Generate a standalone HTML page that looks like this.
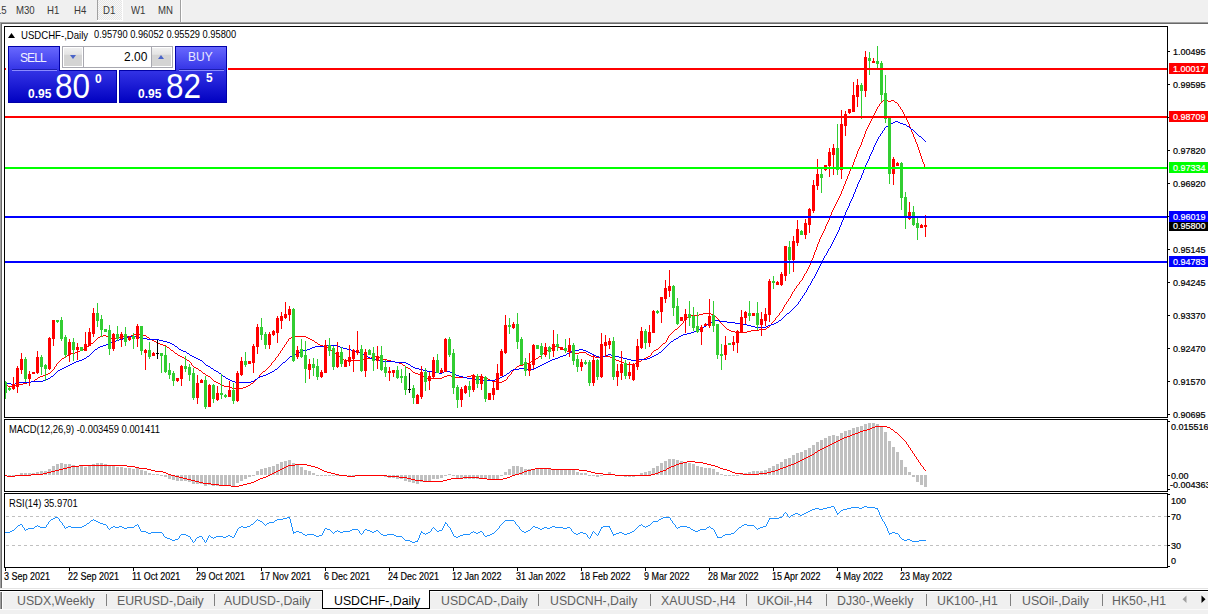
<!DOCTYPE html>
<html><head><meta charset="utf-8">
<style>
html,body{margin:0;padding:0}
body{width:1208px;height:614px;overflow:hidden;position:relative;background:#f0f0f0;font-family:"Liberation Sans",sans-serif;color:#000}
.a{position:absolute;white-space:nowrap;line-height:1}
.sy{transform:scaleY(1.16);transform-origin:0 0}
.tb{font-size:9.6px;color:#383838;top:6px;transform:scaleY(1.12);transform-origin:0 80%}
.ax{font-size:9px;left:1173px;-webkit-text-stroke:0.2px;transform:scaleY(1.1);transform-origin:0 85%}
.axs{font-size:9px;left:1171px;-webkit-text-stroke:0.2px;transform:scaleY(1.1);transform-origin:0 85%}
.tm{font-size:9px;top:572px;transform:scaleY(1.16);transform-origin:0 30%;-webkit-text-stroke:0.15px}
.tab{font-size:12.3px;color:#606060;top:595px}
.pl{color:#fff;font-weight:bold}
svg{position:absolute;left:0;top:0}
</style></head><body>
<!-- toolbar -->
<div class="a" style="left:97px;top:0;width:1px;height:20px;background:#a0a0a0"></div>
<div class="a" style="left:97px;top:20px;width:26px;height:1px;background:#fff"></div><div class="a" style="left:122px;top:0;width:1px;height:21px;background:#fff"></div><div class="a" style="left:98px;top:0;width:24px;height:20px;background:repeating-conic-gradient(#f8f8f8 0 25%,#e6e6e6 0 50%) 0 0/2px 2px"></div>
<div class="a" style="left:180px;top:0;width:1px;height:22px;background:#a0a0a0"></div>
<div class="a" style="left:181px;top:0;width:1px;height:22px;background:#fff"></div>
<div class="a tb" style="left:-4px">15</div>
<div class="a tb" style="left:16px">M30</div>
<div class="a tb" style="left:47px">H1</div>
<div class="a tb" style="left:74px">H4</div>
<div class="a tb" style="left:103px">D1</div>
<div class="a tb" style="left:131px">W1</div>
<div class="a tb" style="left:158px">MN</div>
<div class="a" style="left:0;top:22px;width:1208px;height:1px;background:#a0a0a0"></div>
<div class="a" style="left:0;top:23px;width:1208px;height:1px;background:#696969"></div>
<div class="a" style="left:0;top:22px;width:1px;height:566px;background:#a0a0a0"></div>
<div class="a" style="left:1px;top:23px;width:1px;height:565px;background:#696969"></div>
<div class="a" style="left:2px;top:24px;width:1206px;height:565px;background:#fff"></div>

<svg width="1208" height="614" viewBox="0 0 1208 614" shape-rendering="crispEdges">
<!-- frames -->
<g fill="#000">
<rect x="4" y="26" width="1164" height="1"/>
<rect x="4" y="26" width="1" height="392"/>
<rect x="1167" y="26" width="1" height="392"/>
<rect x="4" y="417" width="1164" height="1"/>
<rect x="4" y="419" width="1164" height="1"/>
<rect x="4" y="419" width="1" height="73"/>
<rect x="1167" y="419" width="1" height="73"/>
<rect x="4" y="491" width="1164" height="1"/>
<rect x="4" y="493" width="1164" height="1"/>
<rect x="4" y="493" width="1" height="75"/>
<rect x="1167" y="493" width="1" height="75"/>
<rect x="4" y="567" width="1164" height="1"/>
</g>
<!-- price ticks -->
<g fill="#000">
<rect x="1168" y="51" width="2" height="1"/>
<rect x="1168" y="84" width="2" height="1"/>
<rect x="1168" y="117" width="2" height="1"/>
<rect x="1168" y="150" width="2" height="1"/>
<rect x="1168" y="183" width="2" height="1"/>
<rect x="1168" y="216" width="2" height="1"/>
<rect x="1168" y="249" width="2" height="1"/>
<rect x="1168" y="282" width="2" height="1"/>
<rect x="1168" y="315" width="2" height="1"/>
<rect x="1168" y="348" width="2" height="1"/>
<rect x="1168" y="381" width="2" height="1"/>
<rect x="1168" y="414" width="2" height="1"/>
<rect x="1168" y="421" width="2" height="1"/>
<rect x="1168" y="475" width="2" height="1"/>
<rect x="1168" y="489" width="2" height="1"/>
<rect x="1168" y="494" width="2" height="1"/>
<rect x="1168" y="516" width="2" height="1"/>
<rect x="1168" y="545" width="2" height="1"/>
<rect x="1168" y="566" width="2" height="1"/>
</g>
<!-- time ticks -->
<g fill="#000">
<rect x="5" y="568" width="1" height="3"/><rect x="69" y="568" width="1" height="3"/><rect x="133" y="568" width="1" height="3"/><rect x="197" y="568" width="1" height="3"/><rect x="261" y="568" width="1" height="3"/><rect x="325" y="568" width="1" height="3"/><rect x="389" y="568" width="1" height="3"/><rect x="453" y="568" width="1" height="3"/><rect x="517" y="568" width="1" height="3"/><rect x="581" y="568" width="1" height="3"/><rect x="645" y="568" width="1" height="3"/><rect x="709" y="568" width="1" height="3"/><rect x="773" y="568" width="1" height="3"/><rect x="837" y="568" width="1" height="3"/><rect x="901" y="568" width="1" height="3"/>
</g>
<!-- rsi levels -->
<line x1="6" y1="516.5" x2="1167" y2="516.5" stroke="#c0c0c0" stroke-dasharray="3 3"/>
<line x1="6" y1="545.5" x2="1167" y2="545.5" stroke="#c0c0c0" stroke-dasharray="3 3"/>
<g>
<g fill="#ff0000"><rect x="5" y="384" width="1" height="1"/><rect x="6" y="385" width="1" height="1"/><rect x="7" y="385" width="1" height="1"/><rect x="8" y="386" width="1" height="1"/><rect x="9" y="386" width="1" height="1"/><rect x="10" y="386" width="1" height="1"/><rect x="11" y="386" width="1" height="1"/><rect x="12" y="386" width="1" height="1"/><rect x="13" y="386" width="1" height="1"/><rect x="14" y="386" width="1" height="1"/><rect x="15" y="385" width="1" height="1"/><rect x="16" y="385" width="1" height="1"/><rect x="17" y="385" width="1" height="1"/><rect x="18" y="385" width="1" height="1"/><rect x="19" y="384" width="1" height="1"/><rect x="20" y="384" width="1" height="1"/><rect x="21" y="384" width="1" height="1"/><rect x="22" y="384" width="1" height="1"/><rect x="23" y="383" width="1" height="1"/><rect x="24" y="383" width="1" height="1"/><rect x="25" y="383" width="1" height="1"/><rect x="26" y="383" width="1" height="1"/><rect x="27" y="382" width="1" height="1"/><rect x="28" y="382" width="1" height="1"/><rect x="29" y="382" width="1" height="1"/><rect x="30" y="382" width="1" height="1"/><rect x="31" y="381" width="1" height="1"/><rect x="32" y="381" width="1" height="1"/><rect x="33" y="381" width="1" height="1"/><rect x="34" y="380" width="1" height="1"/><rect x="35" y="379" width="1" height="1"/><rect x="36" y="379" width="1" height="1"/><rect x="37" y="378" width="1" height="1"/><rect x="38" y="377" width="1" height="1"/><rect x="39" y="377" width="1" height="1"/><rect x="40" y="376" width="1" height="1"/><rect x="41" y="376" width="1" height="1"/><rect x="42" y="376" width="1" height="1"/><rect x="43" y="375" width="1" height="1"/><rect x="44" y="375" width="1" height="1"/><rect x="45" y="375" width="1" height="1"/><rect x="46" y="374" width="1" height="1"/><rect x="47" y="374" width="1" height="1"/><rect x="48" y="373" width="1" height="1"/><rect x="49" y="373" width="1" height="1"/><rect x="50" y="372" width="1" height="1"/><rect x="51" y="371" width="1" height="1"/><rect x="52" y="370" width="1" height="1"/><rect x="53" y="369" width="1" height="1"/><rect x="54" y="367" width="1" height="2"/><rect x="55" y="366" width="1" height="1"/><rect x="56" y="364" width="1" height="2"/><rect x="57" y="363" width="1" height="1"/><rect x="58" y="362" width="1" height="1"/><rect x="59" y="361" width="1" height="1"/><rect x="60" y="360" width="1" height="1"/><rect x="61" y="359" width="1" height="1"/><rect x="62" y="358" width="1" height="1"/><rect x="63" y="358" width="1" height="1"/><rect x="64" y="357" width="1" height="1"/><rect x="65" y="357" width="1" height="1"/><rect x="66" y="356" width="1" height="1"/><rect x="67" y="355" width="1" height="1"/><rect x="68" y="355" width="1" height="1"/><rect x="69" y="354" width="1" height="1"/><rect x="70" y="354" width="1" height="1"/><rect x="71" y="353" width="1" height="1"/><rect x="72" y="353" width="1" height="1"/><rect x="73" y="353" width="1" height="1"/><rect x="74" y="353" width="1" height="1"/><rect x="75" y="352" width="1" height="1"/><rect x="76" y="352" width="1" height="1"/><rect x="77" y="352" width="1" height="1"/><rect x="78" y="351" width="1" height="1"/><rect x="79" y="351" width="1" height="1"/><rect x="80" y="350" width="1" height="1"/><rect x="81" y="350" width="1" height="1"/><rect x="82" y="349" width="1" height="1"/><rect x="83" y="349" width="1" height="1"/><rect x="84" y="348" width="1" height="1"/><rect x="85" y="348" width="1" height="1"/><rect x="86" y="347" width="1" height="1"/><rect x="87" y="346" width="1" height="1"/><rect x="88" y="346" width="1" height="1"/><rect x="89" y="345" width="1" height="1"/><rect x="90" y="344" width="1" height="1"/><rect x="91" y="343" width="1" height="1"/><rect x="92" y="343" width="1" height="1"/><rect x="93" y="342" width="1" height="1"/><rect x="94" y="341" width="1" height="1"/><rect x="95" y="340" width="1" height="1"/><rect x="96" y="339" width="1" height="1"/><rect x="97" y="338" width="1" height="1"/><rect x="98" y="337" width="1" height="1"/><rect x="99" y="337" width="1" height="1"/><rect x="100" y="336" width="1" height="1"/><rect x="101" y="336" width="1" height="1"/><rect x="102" y="336" width="1" height="1"/><rect x="103" y="335" width="1" height="1"/><rect x="104" y="335" width="1" height="1"/><rect x="105" y="335" width="1" height="1"/><rect x="106" y="336" width="1" height="1"/><rect x="107" y="336" width="1" height="1"/><rect x="108" y="337" width="1" height="1"/><rect x="109" y="337" width="1" height="1"/><rect x="110" y="337" width="1" height="1"/><rect x="111" y="338" width="1" height="1"/><rect x="112" y="338" width="1" height="1"/><rect x="113" y="338" width="1" height="1"/><rect x="114" y="338" width="1" height="1"/><rect x="115" y="338" width="1" height="1"/><rect x="116" y="338" width="1" height="1"/><rect x="117" y="338" width="1" height="1"/><rect x="118" y="337" width="1" height="1"/><rect x="119" y="337" width="1" height="1"/><rect x="120" y="336" width="1" height="1"/><rect x="121" y="336" width="1" height="1"/><rect x="122" y="336" width="1" height="1"/><rect x="123" y="336" width="1" height="1"/><rect x="124" y="336" width="1" height="1"/><rect x="125" y="336" width="1" height="1"/><rect x="126" y="336" width="1" height="1"/><rect x="127" y="336" width="1" height="1"/><rect x="128" y="336" width="1" height="1"/><rect x="129" y="336" width="1" height="1"/><rect x="130" y="336" width="1" height="1"/><rect x="131" y="335" width="1" height="1"/><rect x="132" y="335" width="1" height="1"/><rect x="133" y="335" width="1" height="1"/><rect x="134" y="334" width="1" height="1"/><rect x="135" y="334" width="1" height="1"/><rect x="136" y="333" width="1" height="1"/><rect x="137" y="333" width="1" height="1"/><rect x="138" y="333" width="1" height="1"/><rect x="139" y="334" width="1" height="1"/><rect x="140" y="334" width="1" height="1"/><rect x="141" y="334" width="1" height="1"/><rect x="142" y="334" width="1" height="1"/><rect x="143" y="335" width="1" height="1"/><rect x="144" y="335" width="1" height="1"/><rect x="145" y="335" width="1" height="1"/><rect x="146" y="336" width="1" height="1"/><rect x="147" y="337" width="1" height="1"/><rect x="148" y="337" width="1" height="1"/><rect x="149" y="338" width="1" height="1"/><rect x="150" y="339" width="1" height="1"/><rect x="151" y="339" width="1" height="1"/><rect x="152" y="340" width="1" height="1"/><rect x="153" y="340" width="1" height="1"/><rect x="154" y="341" width="1" height="1"/><rect x="155" y="341" width="1" height="1"/><rect x="156" y="342" width="1" height="1"/><rect x="157" y="342" width="1" height="1"/><rect x="158" y="343" width="1" height="1"/><rect x="159" y="343" width="1" height="1"/><rect x="160" y="344" width="1" height="1"/><rect x="161" y="344" width="1" height="1"/><rect x="162" y="344" width="1" height="1"/><rect x="163" y="345" width="1" height="1"/><rect x="164" y="345" width="1" height="1"/><rect x="165" y="345" width="1" height="1"/><rect x="166" y="346" width="1" height="1"/><rect x="167" y="347" width="1" height="1"/><rect x="168" y="347" width="1" height="1"/><rect x="169" y="348" width="1" height="1"/><rect x="170" y="349" width="1" height="1"/><rect x="171" y="350" width="1" height="1"/><rect x="172" y="350" width="1" height="1"/><rect x="173" y="351" width="1" height="1"/><rect x="174" y="352" width="1" height="1"/><rect x="175" y="353" width="1" height="1"/><rect x="176" y="353" width="1" height="1"/><rect x="177" y="354" width="1" height="1"/><rect x="178" y="355" width="1" height="1"/><rect x="179" y="355" width="1" height="1"/><rect x="180" y="356" width="1" height="1"/><rect x="181" y="356" width="1" height="1"/><rect x="182" y="357" width="1" height="1"/><rect x="183" y="357" width="1" height="1"/><rect x="184" y="358" width="1" height="1"/><rect x="185" y="358" width="1" height="1"/><rect x="186" y="359" width="1" height="1"/><rect x="187" y="360" width="1" height="1"/><rect x="188" y="360" width="1" height="1"/><rect x="189" y="361" width="1" height="1"/><rect x="190" y="362" width="1" height="1"/><rect x="191" y="363" width="1" height="2"/><rect x="192" y="365" width="1" height="1"/><rect x="193" y="366" width="1" height="1"/><rect x="194" y="367" width="1" height="1"/><rect x="195" y="367" width="1" height="1"/><rect x="196" y="368" width="1" height="1"/><rect x="197" y="368" width="1" height="1"/><rect x="198" y="369" width="1" height="1"/><rect x="199" y="370" width="1" height="1"/><rect x="200" y="370" width="1" height="1"/><rect x="201" y="371" width="1" height="1"/><rect x="202" y="372" width="1" height="1"/><rect x="203" y="373" width="1" height="1"/><rect x="204" y="373" width="1" height="1"/><rect x="205" y="374" width="1" height="1"/><rect x="206" y="375" width="1" height="1"/><rect x="207" y="375" width="1" height="1"/><rect x="208" y="376" width="1" height="1"/><rect x="209" y="376" width="1" height="1"/><rect x="210" y="377" width="1" height="1"/><rect x="211" y="378" width="1" height="1"/><rect x="212" y="379" width="1" height="1"/><rect x="213" y="380" width="1" height="1"/><rect x="214" y="381" width="1" height="1"/><rect x="215" y="381" width="1" height="1"/><rect x="216" y="382" width="1" height="1"/><rect x="217" y="382" width="1" height="1"/><rect x="218" y="383" width="1" height="1"/><rect x="219" y="383" width="1" height="1"/><rect x="220" y="384" width="1" height="1"/><rect x="221" y="384" width="1" height="1"/><rect x="222" y="385" width="1" height="1"/><rect x="223" y="385" width="1" height="1"/><rect x="224" y="386" width="1" height="1"/><rect x="225" y="386" width="1" height="1"/><rect x="226" y="386" width="1" height="1"/><rect x="227" y="386" width="1" height="1"/><rect x="228" y="386" width="1" height="1"/><rect x="229" y="386" width="1" height="1"/><rect x="230" y="387" width="1" height="1"/><rect x="231" y="387" width="1" height="1"/><rect x="232" y="388" width="1" height="1"/><rect x="233" y="388" width="1" height="1"/><rect x="234" y="388" width="1" height="1"/><rect x="235" y="388" width="1" height="1"/><rect x="236" y="388" width="1" height="1"/><rect x="237" y="388" width="1" height="1"/><rect x="238" y="388" width="1" height="1"/><rect x="239" y="388" width="1" height="1"/><rect x="240" y="388" width="1" height="1"/><rect x="241" y="388" width="1" height="1"/><rect x="242" y="388" width="1" height="1"/><rect x="243" y="387" width="1" height="1"/><rect x="244" y="387" width="1" height="1"/><rect x="245" y="387" width="1" height="1"/><rect x="246" y="386" width="1" height="1"/><rect x="247" y="386" width="1" height="1"/><rect x="248" y="385" width="1" height="1"/><rect x="249" y="385" width="1" height="1"/><rect x="250" y="384" width="1" height="1"/><rect x="251" y="383" width="1" height="1"/><rect x="252" y="383" width="1" height="1"/><rect x="253" y="382" width="1" height="1"/><rect x="254" y="381" width="1" height="1"/><rect x="255" y="380" width="1" height="1"/><rect x="256" y="379" width="1" height="1"/><rect x="257" y="378" width="1" height="1"/><rect x="258" y="377" width="1" height="1"/><rect x="259" y="375" width="1" height="2"/><rect x="260" y="374" width="1" height="1"/><rect x="261" y="373" width="1" height="1"/><rect x="262" y="372" width="1" height="1"/><rect x="263" y="371" width="1" height="1"/><rect x="264" y="371" width="1" height="1"/><rect x="265" y="370" width="1" height="1"/><rect x="266" y="369" width="1" height="1"/><rect x="267" y="368" width="1" height="1"/><rect x="268" y="367" width="1" height="1"/><rect x="269" y="366" width="1" height="1"/><rect x="270" y="365" width="1" height="1"/><rect x="271" y="363" width="1" height="2"/><rect x="272" y="362" width="1" height="1"/><rect x="273" y="361" width="1" height="1"/><rect x="274" y="360" width="1" height="1"/><rect x="275" y="358" width="1" height="2"/><rect x="276" y="357" width="1" height="1"/><rect x="277" y="356" width="1" height="1"/><rect x="278" y="354" width="1" height="2"/><rect x="279" y="353" width="1" height="1"/><rect x="280" y="351" width="1" height="2"/><rect x="281" y="350" width="1" height="1"/><rect x="282" y="348" width="1" height="2"/><rect x="283" y="347" width="1" height="1"/><rect x="284" y="345" width="1" height="2"/><rect x="285" y="344" width="1" height="1"/><rect x="286" y="342" width="1" height="2"/><rect x="287" y="341" width="1" height="1"/><rect x="288" y="339" width="1" height="2"/><rect x="289" y="338" width="1" height="1"/><rect x="290" y="338" width="1" height="1"/><rect x="291" y="337" width="1" height="1"/><rect x="292" y="337" width="1" height="1"/><rect x="293" y="337" width="1" height="1"/><rect x="294" y="337" width="1" height="1"/><rect x="295" y="336" width="1" height="1"/><rect x="296" y="336" width="1" height="1"/><rect x="297" y="336" width="1" height="1"/><rect x="298" y="336" width="1" height="1"/><rect x="299" y="336" width="1" height="1"/><rect x="300" y="336" width="1" height="1"/><rect x="301" y="336" width="1" height="1"/><rect x="302" y="336" width="1" height="1"/><rect x="303" y="336" width="1" height="1"/><rect x="304" y="336" width="1" height="1"/><rect x="305" y="336" width="1" height="1"/><rect x="306" y="337" width="1" height="1"/><rect x="307" y="337" width="1" height="1"/><rect x="308" y="338" width="1" height="1"/><rect x="309" y="338" width="1" height="1"/><rect x="310" y="339" width="1" height="1"/><rect x="311" y="339" width="1" height="1"/><rect x="312" y="340" width="1" height="1"/><rect x="313" y="340" width="1" height="1"/><rect x="314" y="341" width="1" height="1"/><rect x="315" y="342" width="1" height="1"/><rect x="316" y="342" width="1" height="1"/><rect x="317" y="343" width="1" height="1"/><rect x="318" y="344" width="1" height="1"/><rect x="319" y="344" width="1" height="1"/><rect x="320" y="345" width="1" height="1"/><rect x="321" y="345" width="1" height="1"/><rect x="322" y="345" width="1" height="1"/><rect x="323" y="346" width="1" height="1"/><rect x="324" y="346" width="1" height="1"/><rect x="325" y="346" width="1" height="1"/><rect x="326" y="347" width="1" height="1"/><rect x="327" y="347" width="1" height="1"/><rect x="328" y="348" width="1" height="1"/><rect x="329" y="348" width="1" height="1"/><rect x="330" y="349" width="1" height="1"/><rect x="331" y="350" width="1" height="1"/><rect x="332" y="350" width="1" height="1"/><rect x="333" y="351" width="1" height="1"/><rect x="334" y="352" width="1" height="1"/><rect x="335" y="353" width="1" height="1"/><rect x="336" y="353" width="1" height="1"/><rect x="337" y="354" width="1" height="1"/><rect x="338" y="355" width="1" height="1"/><rect x="339" y="356" width="1" height="1"/><rect x="340" y="356" width="1" height="1"/><rect x="341" y="357" width="1" height="1"/><rect x="342" y="358" width="1" height="1"/><rect x="343" y="359" width="1" height="1"/><rect x="344" y="360" width="1" height="1"/><rect x="345" y="361" width="1" height="1"/><rect x="346" y="361" width="1" height="1"/><rect x="347" y="360" width="1" height="1"/><rect x="348" y="360" width="1" height="1"/><rect x="349" y="360" width="1" height="1"/><rect x="350" y="360" width="1" height="1"/><rect x="351" y="360" width="1" height="1"/><rect x="352" y="360" width="1" height="1"/><rect x="353" y="360" width="1" height="1"/><rect x="354" y="360" width="1" height="1"/><rect x="355" y="360" width="1" height="1"/><rect x="356" y="360" width="1" height="1"/><rect x="357" y="360" width="1" height="1"/><rect x="358" y="360" width="1" height="1"/><rect x="359" y="360" width="1" height="1"/><rect x="360" y="360" width="1" height="1"/><rect x="361" y="360" width="1" height="1"/><rect x="362" y="360" width="1" height="1"/><rect x="363" y="359" width="1" height="1"/><rect x="364" y="359" width="1" height="1"/><rect x="365" y="359" width="1" height="1"/><rect x="366" y="359" width="1" height="1"/><rect x="367" y="358" width="1" height="1"/><rect x="368" y="358" width="1" height="1"/><rect x="369" y="358" width="1" height="1"/><rect x="370" y="358" width="1" height="1"/><rect x="371" y="357" width="1" height="1"/><rect x="372" y="357" width="1" height="1"/><rect x="373" y="357" width="1" height="1"/><rect x="374" y="357" width="1" height="1"/><rect x="375" y="356" width="1" height="1"/><rect x="376" y="356" width="1" height="1"/><rect x="377" y="356" width="1" height="1"/><rect x="378" y="357" width="1" height="1"/><rect x="379" y="357" width="1" height="1"/><rect x="380" y="358" width="1" height="1"/><rect x="381" y="358" width="1" height="1"/><rect x="382" y="358" width="1" height="1"/><rect x="383" y="359" width="1" height="1"/><rect x="384" y="359" width="1" height="1"/><rect x="385" y="359" width="1" height="1"/><rect x="386" y="359" width="1" height="1"/><rect x="387" y="360" width="1" height="1"/><rect x="388" y="360" width="1" height="1"/><rect x="389" y="360" width="1" height="1"/><rect x="390" y="360" width="1" height="1"/><rect x="391" y="361" width="1" height="1"/><rect x="392" y="361" width="1" height="1"/><rect x="393" y="361" width="1" height="1"/><rect x="394" y="361" width="1" height="1"/><rect x="395" y="362" width="1" height="1"/><rect x="396" y="362" width="1" height="1"/><rect x="397" y="362" width="1" height="1"/><rect x="398" y="362" width="1" height="1"/><rect x="399" y="363" width="1" height="1"/><rect x="400" y="363" width="1" height="1"/><rect x="401" y="363" width="1" height="1"/><rect x="402" y="364" width="1" height="1"/><rect x="403" y="365" width="1" height="1"/><rect x="404" y="365" width="1" height="1"/><rect x="405" y="366" width="1" height="1"/><rect x="406" y="367" width="1" height="1"/><rect x="407" y="367" width="1" height="1"/><rect x="408" y="368" width="1" height="1"/><rect x="409" y="368" width="1" height="1"/><rect x="410" y="369" width="1" height="1"/><rect x="411" y="370" width="1" height="1"/><rect x="412" y="371" width="1" height="1"/><rect x="413" y="372" width="1" height="1"/><rect x="414" y="372" width="1" height="1"/><rect x="415" y="373" width="1" height="1"/><rect x="416" y="373" width="1" height="1"/><rect x="417" y="373" width="1" height="1"/><rect x="418" y="374" width="1" height="1"/><rect x="419" y="374" width="1" height="1"/><rect x="420" y="375" width="1" height="1"/><rect x="421" y="375" width="1" height="1"/><rect x="422" y="376" width="1" height="1"/><rect x="423" y="376" width="1" height="1"/><rect x="424" y="377" width="1" height="1"/><rect x="425" y="377" width="1" height="1"/><rect x="426" y="377" width="1" height="1"/><rect x="427" y="378" width="1" height="1"/><rect x="428" y="378" width="1" height="1"/><rect x="429" y="378" width="1" height="1"/><rect x="430" y="378" width="1" height="1"/><rect x="431" y="378" width="1" height="1"/><rect x="432" y="378" width="1" height="1"/><rect x="433" y="378" width="1" height="1"/><rect x="434" y="378" width="1" height="1"/><rect x="435" y="378" width="1" height="1"/><rect x="436" y="378" width="1" height="1"/><rect x="437" y="378" width="1" height="1"/><rect x="438" y="378" width="1" height="1"/><rect x="439" y="378" width="1" height="1"/><rect x="440" y="378" width="1" height="1"/><rect x="441" y="378" width="1" height="1"/><rect x="442" y="377" width="1" height="1"/><rect x="443" y="377" width="1" height="1"/><rect x="444" y="376" width="1" height="1"/><rect x="445" y="376" width="1" height="1"/><rect x="446" y="376" width="1" height="1"/><rect x="447" y="375" width="1" height="1"/><rect x="448" y="375" width="1" height="1"/><rect x="449" y="375" width="1" height="1"/><rect x="450" y="375" width="1" height="1"/><rect x="451" y="376" width="1" height="1"/><rect x="452" y="376" width="1" height="1"/><rect x="453" y="376" width="1" height="1"/><rect x="454" y="376" width="1" height="1"/><rect x="455" y="377" width="1" height="1"/><rect x="456" y="377" width="1" height="1"/><rect x="457" y="377" width="1" height="1"/><rect x="458" y="377" width="1" height="1"/><rect x="459" y="377" width="1" height="1"/><rect x="460" y="377" width="1" height="1"/><rect x="461" y="377" width="1" height="1"/><rect x="462" y="377" width="1" height="1"/><rect x="463" y="377" width="1" height="1"/><rect x="464" y="377" width="1" height="1"/><rect x="465" y="377" width="1" height="1"/><rect x="466" y="377" width="1" height="1"/><rect x="467" y="376" width="1" height="1"/><rect x="468" y="376" width="1" height="1"/><rect x="469" y="376" width="1" height="1"/><rect x="470" y="376" width="1" height="1"/><rect x="471" y="375" width="1" height="1"/><rect x="472" y="375" width="1" height="1"/><rect x="473" y="375" width="1" height="1"/><rect x="474" y="375" width="1" height="1"/><rect x="475" y="376" width="1" height="1"/><rect x="476" y="376" width="1" height="1"/><rect x="477" y="376" width="1" height="1"/><rect x="478" y="376" width="1" height="1"/><rect x="479" y="376" width="1" height="1"/><rect x="480" y="376" width="1" height="1"/><rect x="481" y="376" width="1" height="1"/><rect x="482" y="376" width="1" height="1"/><rect x="483" y="377" width="1" height="1"/><rect x="484" y="377" width="1" height="1"/><rect x="485" y="377" width="1" height="1"/><rect x="486" y="378" width="1" height="1"/><rect x="487" y="378" width="1" height="1"/><rect x="488" y="379" width="1" height="1"/><rect x="489" y="379" width="1" height="1"/><rect x="490" y="380" width="1" height="1"/><rect x="491" y="380" width="1" height="1"/><rect x="492" y="381" width="1" height="1"/><rect x="493" y="381" width="1" height="1"/><rect x="494" y="381" width="1" height="1"/><rect x="495" y="381" width="1" height="1"/><rect x="496" y="381" width="1" height="1"/><rect x="497" y="381" width="1" height="1"/><rect x="498" y="381" width="1" height="1"/><rect x="499" y="382" width="1" height="1"/><rect x="500" y="382" width="1" height="1"/><rect x="501" y="382" width="1" height="1"/><rect x="502" y="381" width="1" height="1"/><rect x="503" y="381" width="1" height="1"/><rect x="504" y="380" width="1" height="1"/><rect x="505" y="380" width="1" height="1"/><rect x="506" y="379" width="1" height="1"/><rect x="507" y="377" width="1" height="2"/><rect x="508" y="376" width="1" height="1"/><rect x="509" y="375" width="1" height="1"/><rect x="510" y="374" width="1" height="1"/><rect x="511" y="372" width="1" height="2"/><rect x="512" y="371" width="1" height="1"/><rect x="513" y="370" width="1" height="1"/><rect x="514" y="369" width="1" height="1"/><rect x="515" y="368" width="1" height="1"/><rect x="516" y="367" width="1" height="1"/><rect x="517" y="366" width="1" height="1"/><rect x="518" y="366" width="1" height="1"/><rect x="519" y="365" width="1" height="1"/><rect x="520" y="365" width="1" height="1"/><rect x="521" y="365" width="1" height="1"/><rect x="522" y="365" width="1" height="1"/><rect x="523" y="364" width="1" height="1"/><rect x="524" y="364" width="1" height="1"/><rect x="525" y="364" width="1" height="1"/><rect x="526" y="364" width="1" height="1"/><rect x="527" y="363" width="1" height="1"/><rect x="528" y="363" width="1" height="1"/><rect x="529" y="363" width="1" height="1"/><rect x="530" y="362" width="1" height="1"/><rect x="531" y="361" width="1" height="1"/><rect x="532" y="361" width="1" height="1"/><rect x="533" y="360" width="1" height="1"/><rect x="534" y="359" width="1" height="1"/><rect x="535" y="359" width="1" height="1"/><rect x="536" y="358" width="1" height="1"/><rect x="537" y="358" width="1" height="1"/><rect x="538" y="357" width="1" height="1"/><rect x="539" y="356" width="1" height="1"/><rect x="540" y="356" width="1" height="1"/><rect x="541" y="355" width="1" height="1"/><rect x="542" y="354" width="1" height="1"/><rect x="543" y="353" width="1" height="1"/><rect x="544" y="352" width="1" height="1"/><rect x="545" y="351" width="1" height="1"/><rect x="546" y="350" width="1" height="1"/><rect x="547" y="350" width="1" height="1"/><rect x="548" y="349" width="1" height="1"/><rect x="549" y="349" width="1" height="1"/><rect x="550" y="348" width="1" height="1"/><rect x="551" y="348" width="1" height="1"/><rect x="552" y="347" width="1" height="1"/><rect x="553" y="347" width="1" height="1"/><rect x="554" y="347" width="1" height="1"/><rect x="555" y="346" width="1" height="1"/><rect x="556" y="346" width="1" height="1"/><rect x="557" y="346" width="1" height="1"/><rect x="558" y="347" width="1" height="1"/><rect x="559" y="347" width="1" height="1"/><rect x="560" y="348" width="1" height="1"/><rect x="561" y="348" width="1" height="1"/><rect x="562" y="349" width="1" height="1"/><rect x="563" y="349" width="1" height="1"/><rect x="564" y="350" width="1" height="1"/><rect x="565" y="350" width="1" height="1"/><rect x="566" y="350" width="1" height="1"/><rect x="567" y="351" width="1" height="1"/><rect x="568" y="351" width="1" height="1"/><rect x="569" y="351" width="1" height="1"/><rect x="570" y="351" width="1" height="1"/><rect x="571" y="352" width="1" height="1"/><rect x="572" y="352" width="1" height="1"/><rect x="573" y="352" width="1" height="1"/><rect x="574" y="352" width="1" height="1"/><rect x="575" y="353" width="1" height="1"/><rect x="576" y="353" width="1" height="1"/><rect x="577" y="353" width="1" height="1"/><rect x="578" y="353" width="1" height="1"/><rect x="579" y="352" width="1" height="1"/><rect x="580" y="352" width="1" height="1"/><rect x="581" y="352" width="1" height="1"/><rect x="582" y="352" width="1" height="1"/><rect x="583" y="352" width="1" height="1"/><rect x="584" y="352" width="1" height="1"/><rect x="585" y="352" width="1" height="1"/><rect x="586" y="353" width="1" height="1"/><rect x="587" y="354" width="1" height="1"/><rect x="588" y="354" width="1" height="1"/><rect x="589" y="355" width="1" height="1"/><rect x="590" y="355" width="1" height="1"/><rect x="591" y="356" width="1" height="1"/><rect x="592" y="356" width="1" height="1"/><rect x="593" y="356" width="1" height="1"/><rect x="594" y="356" width="1" height="1"/><rect x="595" y="357" width="1" height="1"/><rect x="596" y="357" width="1" height="1"/><rect x="597" y="357" width="1" height="1"/><rect x="598" y="357" width="1" height="1"/><rect x="599" y="357" width="1" height="1"/><rect x="600" y="357" width="1" height="1"/><rect x="601" y="357" width="1" height="1"/><rect x="602" y="357" width="1" height="1"/><rect x="603" y="356" width="1" height="1"/><rect x="604" y="356" width="1" height="1"/><rect x="605" y="356" width="1" height="1"/><rect x="606" y="356" width="1" height="1"/><rect x="607" y="356" width="1" height="1"/><rect x="608" y="356" width="1" height="1"/><rect x="609" y="356" width="1" height="1"/><rect x="610" y="357" width="1" height="1"/><rect x="611" y="357" width="1" height="1"/><rect x="612" y="358" width="1" height="1"/><rect x="613" y="358" width="1" height="1"/><rect x="614" y="359" width="1" height="1"/><rect x="615" y="359" width="1" height="1"/><rect x="616" y="360" width="1" height="1"/><rect x="617" y="360" width="1" height="1"/><rect x="618" y="360" width="1" height="1"/><rect x="619" y="361" width="1" height="1"/><rect x="620" y="361" width="1" height="1"/><rect x="621" y="361" width="1" height="1"/><rect x="622" y="362" width="1" height="1"/><rect x="623" y="362" width="1" height="1"/><rect x="624" y="363" width="1" height="1"/><rect x="625" y="363" width="1" height="1"/><rect x="626" y="363" width="1" height="1"/><rect x="627" y="364" width="1" height="1"/><rect x="628" y="364" width="1" height="1"/><rect x="629" y="364" width="1" height="1"/><rect x="630" y="364" width="1" height="1"/><rect x="631" y="364" width="1" height="1"/><rect x="632" y="364" width="1" height="1"/><rect x="633" y="364" width="1" height="1"/><rect x="634" y="364" width="1" height="1"/><rect x="635" y="363" width="1" height="1"/><rect x="636" y="363" width="1" height="1"/><rect x="637" y="363" width="1" height="1"/><rect x="638" y="362" width="1" height="1"/><rect x="639" y="361" width="1" height="1"/><rect x="640" y="361" width="1" height="1"/><rect x="641" y="360" width="1" height="1"/><rect x="642" y="359" width="1" height="1"/><rect x="643" y="359" width="1" height="1"/><rect x="644" y="358" width="1" height="1"/><rect x="645" y="358" width="1" height="1"/><rect x="646" y="357" width="1" height="1"/><rect x="647" y="357" width="1" height="1"/><rect x="648" y="356" width="1" height="1"/><rect x="649" y="356" width="1" height="1"/><rect x="650" y="355" width="1" height="1"/><rect x="651" y="353" width="1" height="2"/><rect x="652" y="352" width="1" height="1"/><rect x="653" y="351" width="1" height="1"/><rect x="654" y="350" width="1" height="1"/><rect x="655" y="350" width="1" height="1"/><rect x="656" y="349" width="1" height="1"/><rect x="657" y="349" width="1" height="1"/><rect x="658" y="348" width="1" height="1"/><rect x="659" y="347" width="1" height="1"/><rect x="660" y="346" width="1" height="1"/><rect x="661" y="345" width="1" height="1"/><rect x="662" y="344" width="1" height="1"/><rect x="663" y="343" width="1" height="1"/><rect x="664" y="343" width="1" height="1"/><rect x="665" y="342" width="1" height="1"/><rect x="666" y="340" width="1" height="2"/><rect x="667" y="338" width="1" height="2"/><rect x="668" y="336" width="1" height="2"/><rect x="669" y="335" width="1" height="1"/><rect x="670" y="334" width="1" height="1"/><rect x="671" y="333" width="1" height="1"/><rect x="672" y="332" width="1" height="1"/><rect x="673" y="331" width="1" height="1"/><rect x="674" y="330" width="1" height="1"/><rect x="675" y="329" width="1" height="1"/><rect x="676" y="329" width="1" height="1"/><rect x="677" y="328" width="1" height="1"/><rect x="678" y="327" width="1" height="1"/><rect x="679" y="326" width="1" height="1"/><rect x="680" y="325" width="1" height="1"/><rect x="681" y="324" width="1" height="1"/><rect x="682" y="323" width="1" height="1"/><rect x="683" y="321" width="1" height="2"/><rect x="684" y="320" width="1" height="1"/><rect x="685" y="319" width="1" height="1"/><rect x="686" y="318" width="1" height="1"/><rect x="687" y="317" width="1" height="1"/><rect x="688" y="317" width="1" height="1"/><rect x="689" y="316" width="1" height="1"/><rect x="690" y="316" width="1" height="1"/><rect x="691" y="315" width="1" height="1"/><rect x="692" y="315" width="1" height="1"/><rect x="693" y="315" width="1" height="1"/><rect x="694" y="315" width="1" height="1"/><rect x="695" y="315" width="1" height="1"/><rect x="696" y="315" width="1" height="1"/><rect x="697" y="315" width="1" height="1"/><rect x="698" y="315" width="1" height="1"/><rect x="699" y="314" width="1" height="1"/><rect x="700" y="314" width="1" height="1"/><rect x="701" y="314" width="1" height="1"/><rect x="702" y="314" width="1" height="1"/><rect x="703" y="313" width="1" height="1"/><rect x="704" y="313" width="1" height="1"/><rect x="705" y="313" width="1" height="1"/><rect x="706" y="313" width="1" height="1"/><rect x="707" y="313" width="1" height="1"/><rect x="708" y="313" width="1" height="1"/><rect x="709" y="313" width="1" height="1"/><rect x="710" y="313" width="1" height="1"/><rect x="711" y="314" width="1" height="1"/><rect x="712" y="314" width="1" height="1"/><rect x="713" y="314" width="1" height="1"/><rect x="714" y="315" width="1" height="1"/><rect x="715" y="316" width="1" height="1"/><rect x="716" y="317" width="1" height="1"/><rect x="717" y="318" width="1" height="1"/><rect x="718" y="319" width="1" height="1"/><rect x="719" y="320" width="1" height="2"/><rect x="720" y="322" width="1" height="1"/><rect x="721" y="323" width="1" height="1"/><rect x="722" y="324" width="1" height="1"/><rect x="723" y="325" width="1" height="1"/><rect x="724" y="326" width="1" height="1"/><rect x="725" y="327" width="1" height="1"/><rect x="726" y="328" width="1" height="1"/><rect x="727" y="329" width="1" height="1"/><rect x="728" y="329" width="1" height="1"/><rect x="729" y="330" width="1" height="1"/><rect x="730" y="330" width="1" height="1"/><rect x="731" y="331" width="1" height="1"/><rect x="732" y="331" width="1" height="1"/><rect x="733" y="331" width="1" height="1"/><rect x="734" y="331" width="1" height="1"/><rect x="735" y="332" width="1" height="1"/><rect x="736" y="332" width="1" height="1"/><rect x="737" y="332" width="1" height="1"/><rect x="738" y="332" width="1" height="1"/><rect x="739" y="332" width="1" height="1"/><rect x="740" y="332" width="1" height="1"/><rect x="741" y="332" width="1" height="1"/><rect x="742" y="332" width="1" height="1"/><rect x="743" y="332" width="1" height="1"/><rect x="744" y="332" width="1" height="1"/><rect x="745" y="332" width="1" height="1"/><rect x="746" y="332" width="1" height="1"/><rect x="747" y="331" width="1" height="1"/><rect x="748" y="331" width="1" height="1"/><rect x="749" y="331" width="1" height="1"/><rect x="750" y="331" width="1" height="1"/><rect x="751" y="330" width="1" height="1"/><rect x="752" y="330" width="1" height="1"/><rect x="753" y="330" width="1" height="1"/><rect x="754" y="330" width="1" height="1"/><rect x="755" y="330" width="1" height="1"/><rect x="756" y="330" width="1" height="1"/><rect x="757" y="330" width="1" height="1"/><rect x="758" y="330" width="1" height="1"/><rect x="759" y="329" width="1" height="1"/><rect x="760" y="329" width="1" height="1"/><rect x="761" y="329" width="1" height="1"/><rect x="762" y="329" width="1" height="1"/><rect x="763" y="329" width="1" height="1"/><rect x="764" y="329" width="1" height="1"/><rect x="765" y="329" width="1" height="1"/><rect x="766" y="328" width="1" height="1"/><rect x="767" y="327" width="1" height="1"/><rect x="768" y="327" width="1" height="1"/><rect x="769" y="326" width="1" height="1"/><rect x="770" y="325" width="1" height="1"/><rect x="771" y="323" width="1" height="2"/><rect x="772" y="322" width="1" height="1"/><rect x="773" y="321" width="1" height="1"/><rect x="774" y="320" width="1" height="1"/><rect x="775" y="318" width="1" height="2"/><rect x="776" y="317" width="1" height="1"/><rect x="777" y="316" width="1" height="1"/><rect x="778" y="315" width="1" height="1"/><rect x="779" y="313" width="1" height="2"/><rect x="780" y="312" width="1" height="1"/><rect x="781" y="311" width="1" height="1"/><rect x="782" y="309" width="1" height="2"/><rect x="783" y="307" width="1" height="2"/><rect x="784" y="305" width="1" height="2"/><rect x="785" y="304" width="1" height="1"/><rect x="786" y="302" width="1" height="2"/><rect x="787" y="301" width="1" height="1"/><rect x="788" y="299" width="1" height="2"/><rect x="789" y="298" width="1" height="1"/><rect x="790" y="296" width="1" height="2"/><rect x="791" y="294" width="1" height="2"/><rect x="792" y="292" width="1" height="2"/><rect x="793" y="291" width="1" height="1"/><rect x="794" y="289" width="1" height="2"/><rect x="795" y="288" width="1" height="1"/><rect x="796" y="286" width="1" height="2"/><rect x="797" y="285" width="1" height="1"/><rect x="798" y="284" width="1" height="1"/><rect x="799" y="282" width="1" height="2"/><rect x="800" y="281" width="1" height="1"/><rect x="801" y="280" width="1" height="1"/><rect x="802" y="278" width="1" height="2"/><rect x="803" y="276" width="1" height="2"/><rect x="804" y="274" width="1" height="2"/><rect x="805" y="273" width="1" height="1"/><rect x="806" y="271" width="1" height="2"/><rect x="807" y="269" width="1" height="2"/><rect x="808" y="267" width="1" height="2"/><rect x="809" y="265" width="1" height="2"/><rect x="810" y="263" width="1" height="2"/><rect x="811" y="260" width="1" height="3"/><rect x="812" y="258" width="1" height="2"/><rect x="813" y="255" width="1" height="3"/><rect x="814" y="252" width="1" height="3"/><rect x="815" y="250" width="1" height="2"/><rect x="816" y="247" width="1" height="3"/><rect x="817" y="244" width="1" height="3"/><rect x="818" y="242" width="1" height="2"/><rect x="819" y="239" width="1" height="3"/><rect x="820" y="237" width="1" height="2"/><rect x="821" y="235" width="1" height="2"/><rect x="822" y="233" width="1" height="2"/><rect x="823" y="231" width="1" height="2"/><rect x="824" y="229" width="1" height="2"/><rect x="825" y="226" width="1" height="3"/><rect x="826" y="224" width="1" height="2"/><rect x="827" y="222" width="1" height="2"/><rect x="828" y="220" width="1" height="2"/><rect x="829" y="217" width="1" height="3"/><rect x="830" y="215" width="1" height="2"/><rect x="831" y="212" width="1" height="3"/><rect x="832" y="210" width="1" height="2"/><rect x="833" y="208" width="1" height="2"/><rect x="834" y="206" width="1" height="2"/><rect x="835" y="204" width="1" height="2"/><rect x="836" y="202" width="1" height="2"/><rect x="837" y="200" width="1" height="2"/><rect x="838" y="198" width="1" height="2"/><rect x="839" y="196" width="1" height="2"/><rect x="840" y="194" width="1" height="2"/><rect x="841" y="191" width="1" height="3"/><rect x="842" y="189" width="1" height="2"/><rect x="843" y="186" width="1" height="3"/><rect x="844" y="184" width="1" height="2"/><rect x="845" y="181" width="1" height="3"/><rect x="846" y="179" width="1" height="2"/><rect x="847" y="176" width="1" height="3"/><rect x="848" y="174" width="1" height="2"/><rect x="849" y="171" width="1" height="3"/><rect x="850" y="169" width="1" height="2"/><rect x="851" y="167" width="1" height="2"/><rect x="852" y="165" width="1" height="2"/><rect x="853" y="162" width="1" height="3"/><rect x="854" y="159" width="1" height="3"/><rect x="855" y="157" width="1" height="2"/><rect x="856" y="154" width="1" height="3"/><rect x="857" y="151" width="1" height="3"/><rect x="858" y="149" width="1" height="2"/><rect x="859" y="147" width="1" height="2"/><rect x="860" y="145" width="1" height="2"/><rect x="861" y="142" width="1" height="3"/><rect x="862" y="139" width="1" height="3"/><rect x="863" y="137" width="1" height="2"/><rect x="864" y="134" width="1" height="3"/><rect x="865" y="131" width="1" height="3"/><rect x="866" y="129" width="1" height="2"/><rect x="867" y="127" width="1" height="2"/><rect x="868" y="125" width="1" height="2"/><rect x="869" y="123" width="1" height="2"/><rect x="870" y="121" width="1" height="2"/><rect x="871" y="119" width="1" height="2"/><rect x="872" y="117" width="1" height="2"/><rect x="873" y="115" width="1" height="2"/><rect x="874" y="113" width="1" height="2"/><rect x="875" y="111" width="1" height="2"/><rect x="876" y="109" width="1" height="2"/><rect x="877" y="107" width="1" height="2"/><rect x="878" y="106" width="1" height="1"/><rect x="879" y="104" width="1" height="2"/><rect x="880" y="103" width="1" height="1"/><rect x="881" y="102" width="1" height="1"/><rect x="882" y="101" width="1" height="1"/><rect x="883" y="100" width="1" height="1"/><rect x="884" y="100" width="1" height="1"/><rect x="885" y="99" width="1" height="1"/><rect x="886" y="100" width="1" height="1"/><rect x="887" y="100" width="1" height="1"/><rect x="888" y="101" width="1" height="1"/><rect x="889" y="101" width="1" height="1"/><rect x="890" y="101" width="1" height="1"/><rect x="891" y="100" width="1" height="1"/><rect x="892" y="100" width="1" height="1"/><rect x="893" y="100" width="1" height="1"/><rect x="894" y="101" width="1" height="1"/><rect x="895" y="102" width="1" height="1"/><rect x="896" y="102" width="1" height="1"/><rect x="897" y="103" width="1" height="1"/><rect x="898" y="104" width="1" height="2"/><rect x="899" y="106" width="1" height="1"/><rect x="900" y="107" width="1" height="2"/><rect x="901" y="109" width="1" height="1"/><rect x="902" y="110" width="1" height="2"/><rect x="903" y="112" width="1" height="2"/><rect x="904" y="114" width="1" height="2"/><rect x="905" y="116" width="1" height="2"/><rect x="906" y="118" width="1" height="2"/><rect x="907" y="120" width="1" height="2"/><rect x="908" y="122" width="1" height="2"/><rect x="909" y="124" width="1" height="3"/><rect x="910" y="127" width="1" height="2"/><rect x="911" y="129" width="1" height="3"/><rect x="912" y="132" width="1" height="2"/><rect x="913" y="134" width="1" height="3"/><rect x="914" y="137" width="1" height="2"/><rect x="915" y="139" width="1" height="3"/><rect x="916" y="142" width="1" height="2"/><rect x="917" y="144" width="1" height="3"/><rect x="918" y="147" width="1" height="3"/><rect x="919" y="150" width="1" height="3"/><rect x="920" y="153" width="1" height="3"/><rect x="921" y="156" width="1" height="3"/><rect x="922" y="159" width="1" height="3"/><rect x="923" y="162" width="1" height="2"/><rect x="924" y="164" width="1" height="3"/><rect x="925" y="167" width="1" height="2"/></g><g fill="#0000ff"><rect x="5" y="382" width="1" height="1"/><rect x="6" y="382" width="1" height="1"/><rect x="7" y="383" width="1" height="1"/><rect x="8" y="383" width="1" height="1"/><rect x="9" y="383" width="1" height="1"/><rect x="10" y="383" width="1" height="1"/><rect x="11" y="384" width="1" height="1"/><rect x="12" y="384" width="1" height="1"/><rect x="13" y="384" width="1" height="1"/><rect x="14" y="384" width="1" height="1"/><rect x="15" y="383" width="1" height="1"/><rect x="16" y="383" width="1" height="1"/><rect x="17" y="383" width="1" height="1"/><rect x="18" y="383" width="1" height="1"/><rect x="19" y="382" width="1" height="1"/><rect x="20" y="382" width="1" height="1"/><rect x="21" y="382" width="1" height="1"/><rect x="22" y="382" width="1" height="1"/><rect x="23" y="382" width="1" height="1"/><rect x="24" y="382" width="1" height="1"/><rect x="25" y="382" width="1" height="1"/><rect x="26" y="382" width="1" height="1"/><rect x="27" y="382" width="1" height="1"/><rect x="28" y="382" width="1" height="1"/><rect x="29" y="382" width="1" height="1"/><rect x="30" y="382" width="1" height="1"/><rect x="31" y="381" width="1" height="1"/><rect x="32" y="381" width="1" height="1"/><rect x="33" y="381" width="1" height="1"/><rect x="34" y="381" width="1" height="1"/><rect x="35" y="381" width="1" height="1"/><rect x="36" y="381" width="1" height="1"/><rect x="37" y="381" width="1" height="1"/><rect x="38" y="381" width="1" height="1"/><rect x="39" y="381" width="1" height="1"/><rect x="40" y="381" width="1" height="1"/><rect x="41" y="381" width="1" height="1"/><rect x="42" y="381" width="1" height="1"/><rect x="43" y="380" width="1" height="1"/><rect x="44" y="380" width="1" height="1"/><rect x="45" y="380" width="1" height="1"/><rect x="46" y="379" width="1" height="1"/><rect x="47" y="379" width="1" height="1"/><rect x="48" y="378" width="1" height="1"/><rect x="49" y="378" width="1" height="1"/><rect x="50" y="377" width="1" height="1"/><rect x="51" y="376" width="1" height="1"/><rect x="52" y="376" width="1" height="1"/><rect x="53" y="375" width="1" height="1"/><rect x="54" y="374" width="1" height="1"/><rect x="55" y="373" width="1" height="1"/><rect x="56" y="372" width="1" height="1"/><rect x="57" y="371" width="1" height="1"/><rect x="58" y="370" width="1" height="1"/><rect x="59" y="370" width="1" height="1"/><rect x="60" y="369" width="1" height="1"/><rect x="61" y="369" width="1" height="1"/><rect x="62" y="368" width="1" height="1"/><rect x="63" y="368" width="1" height="1"/><rect x="64" y="367" width="1" height="1"/><rect x="65" y="367" width="1" height="1"/><rect x="66" y="366" width="1" height="1"/><rect x="67" y="366" width="1" height="1"/><rect x="68" y="365" width="1" height="1"/><rect x="69" y="365" width="1" height="1"/><rect x="70" y="364" width="1" height="1"/><rect x="71" y="364" width="1" height="1"/><rect x="72" y="363" width="1" height="1"/><rect x="73" y="363" width="1" height="1"/><rect x="74" y="362" width="1" height="1"/><rect x="75" y="362" width="1" height="1"/><rect x="76" y="361" width="1" height="1"/><rect x="77" y="361" width="1" height="1"/><rect x="78" y="361" width="1" height="1"/><rect x="79" y="360" width="1" height="1"/><rect x="80" y="360" width="1" height="1"/><rect x="81" y="360" width="1" height="1"/><rect x="82" y="359" width="1" height="1"/><rect x="83" y="359" width="1" height="1"/><rect x="84" y="358" width="1" height="1"/><rect x="85" y="358" width="1" height="1"/><rect x="86" y="357" width="1" height="1"/><rect x="87" y="356" width="1" height="1"/><rect x="88" y="356" width="1" height="1"/><rect x="89" y="355" width="1" height="1"/><rect x="90" y="354" width="1" height="1"/><rect x="91" y="353" width="1" height="1"/><rect x="92" y="352" width="1" height="1"/><rect x="93" y="351" width="1" height="1"/><rect x="94" y="350" width="1" height="1"/><rect x="95" y="349" width="1" height="1"/><rect x="96" y="349" width="1" height="1"/><rect x="97" y="348" width="1" height="1"/><rect x="98" y="347" width="1" height="1"/><rect x="99" y="347" width="1" height="1"/><rect x="100" y="346" width="1" height="1"/><rect x="101" y="346" width="1" height="1"/><rect x="102" y="346" width="1" height="1"/><rect x="103" y="345" width="1" height="1"/><rect x="104" y="345" width="1" height="1"/><rect x="105" y="345" width="1" height="1"/><rect x="106" y="344" width="1" height="1"/><rect x="107" y="344" width="1" height="1"/><rect x="108" y="343" width="1" height="1"/><rect x="109" y="343" width="1" height="1"/><rect x="110" y="343" width="1" height="1"/><rect x="111" y="342" width="1" height="1"/><rect x="112" y="342" width="1" height="1"/><rect x="113" y="342" width="1" height="1"/><rect x="114" y="341" width="1" height="1"/><rect x="115" y="341" width="1" height="1"/><rect x="116" y="340" width="1" height="1"/><rect x="117" y="340" width="1" height="1"/><rect x="118" y="340" width="1" height="1"/><rect x="119" y="339" width="1" height="1"/><rect x="120" y="339" width="1" height="1"/><rect x="121" y="339" width="1" height="1"/><rect x="122" y="339" width="1" height="1"/><rect x="123" y="338" width="1" height="1"/><rect x="124" y="338" width="1" height="1"/><rect x="125" y="338" width="1" height="1"/><rect x="126" y="337" width="1" height="1"/><rect x="127" y="337" width="1" height="1"/><rect x="128" y="336" width="1" height="1"/><rect x="129" y="336" width="1" height="1"/><rect x="130" y="336" width="1" height="1"/><rect x="131" y="336" width="1" height="1"/><rect x="132" y="336" width="1" height="1"/><rect x="133" y="336" width="1" height="1"/><rect x="134" y="336" width="1" height="1"/><rect x="135" y="336" width="1" height="1"/><rect x="136" y="336" width="1" height="1"/><rect x="137" y="336" width="1" height="1"/><rect x="138" y="337" width="1" height="1"/><rect x="139" y="337" width="1" height="1"/><rect x="140" y="338" width="1" height="1"/><rect x="141" y="338" width="1" height="1"/><rect x="142" y="338" width="1" height="1"/><rect x="143" y="338" width="1" height="1"/><rect x="144" y="338" width="1" height="1"/><rect x="145" y="338" width="1" height="1"/><rect x="146" y="338" width="1" height="1"/><rect x="147" y="339" width="1" height="1"/><rect x="148" y="339" width="1" height="1"/><rect x="149" y="339" width="1" height="1"/><rect x="150" y="339" width="1" height="1"/><rect x="151" y="339" width="1" height="1"/><rect x="152" y="339" width="1" height="1"/><rect x="153" y="339" width="1" height="1"/><rect x="154" y="339" width="1" height="1"/><rect x="155" y="339" width="1" height="1"/><rect x="156" y="339" width="1" height="1"/><rect x="157" y="339" width="1" height="1"/><rect x="158" y="339" width="1" height="1"/><rect x="159" y="340" width="1" height="1"/><rect x="160" y="340" width="1" height="1"/><rect x="161" y="340" width="1" height="1"/><rect x="162" y="340" width="1" height="1"/><rect x="163" y="341" width="1" height="1"/><rect x="164" y="341" width="1" height="1"/><rect x="165" y="341" width="1" height="1"/><rect x="166" y="341" width="1" height="1"/><rect x="167" y="342" width="1" height="1"/><rect x="168" y="342" width="1" height="1"/><rect x="169" y="342" width="1" height="1"/><rect x="170" y="343" width="1" height="1"/><rect x="171" y="343" width="1" height="1"/><rect x="172" y="344" width="1" height="1"/><rect x="173" y="344" width="1" height="1"/><rect x="174" y="345" width="1" height="1"/><rect x="175" y="346" width="1" height="1"/><rect x="176" y="346" width="1" height="1"/><rect x="177" y="347" width="1" height="1"/><rect x="178" y="348" width="1" height="1"/><rect x="179" y="349" width="1" height="1"/><rect x="180" y="349" width="1" height="1"/><rect x="181" y="350" width="1" height="1"/><rect x="182" y="350" width="1" height="1"/><rect x="183" y="351" width="1" height="1"/><rect x="184" y="351" width="1" height="1"/><rect x="185" y="351" width="1" height="1"/><rect x="186" y="352" width="1" height="1"/><rect x="187" y="353" width="1" height="1"/><rect x="188" y="353" width="1" height="1"/><rect x="189" y="354" width="1" height="1"/><rect x="190" y="355" width="1" height="1"/><rect x="191" y="355" width="1" height="1"/><rect x="192" y="356" width="1" height="1"/><rect x="193" y="356" width="1" height="1"/><rect x="194" y="357" width="1" height="1"/><rect x="195" y="357" width="1" height="1"/><rect x="196" y="358" width="1" height="1"/><rect x="197" y="358" width="1" height="1"/><rect x="198" y="359" width="1" height="1"/><rect x="199" y="359" width="1" height="1"/><rect x="200" y="360" width="1" height="1"/><rect x="201" y="360" width="1" height="1"/><rect x="202" y="361" width="1" height="1"/><rect x="203" y="362" width="1" height="1"/><rect x="204" y="363" width="1" height="1"/><rect x="205" y="364" width="1" height="1"/><rect x="206" y="365" width="1" height="1"/><rect x="207" y="365" width="1" height="1"/><rect x="208" y="366" width="1" height="1"/><rect x="209" y="366" width="1" height="1"/><rect x="210" y="367" width="1" height="1"/><rect x="211" y="368" width="1" height="1"/><rect x="212" y="368" width="1" height="1"/><rect x="213" y="369" width="1" height="1"/><rect x="214" y="370" width="1" height="1"/><rect x="215" y="370" width="1" height="1"/><rect x="216" y="371" width="1" height="1"/><rect x="217" y="371" width="1" height="1"/><rect x="218" y="372" width="1" height="1"/><rect x="219" y="373" width="1" height="1"/><rect x="220" y="373" width="1" height="1"/><rect x="221" y="374" width="1" height="1"/><rect x="222" y="375" width="1" height="1"/><rect x="223" y="376" width="1" height="1"/><rect x="224" y="376" width="1" height="1"/><rect x="225" y="377" width="1" height="1"/><rect x="226" y="378" width="1" height="1"/><rect x="227" y="378" width="1" height="1"/><rect x="228" y="379" width="1" height="1"/><rect x="229" y="379" width="1" height="1"/><rect x="230" y="380" width="1" height="1"/><rect x="231" y="380" width="1" height="1"/><rect x="232" y="381" width="1" height="1"/><rect x="233" y="381" width="1" height="1"/><rect x="234" y="381" width="1" height="1"/><rect x="235" y="382" width="1" height="1"/><rect x="236" y="382" width="1" height="1"/><rect x="237" y="382" width="1" height="1"/><rect x="238" y="382" width="1" height="1"/><rect x="239" y="382" width="1" height="1"/><rect x="240" y="382" width="1" height="1"/><rect x="241" y="382" width="1" height="1"/><rect x="242" y="382" width="1" height="1"/><rect x="243" y="382" width="1" height="1"/><rect x="244" y="382" width="1" height="1"/><rect x="245" y="382" width="1" height="1"/><rect x="246" y="382" width="1" height="1"/><rect x="247" y="382" width="1" height="1"/><rect x="248" y="382" width="1" height="1"/><rect x="249" y="382" width="1" height="1"/><rect x="250" y="382" width="1" height="1"/><rect x="251" y="381" width="1" height="1"/><rect x="252" y="381" width="1" height="1"/><rect x="253" y="381" width="1" height="1"/><rect x="254" y="380" width="1" height="1"/><rect x="255" y="379" width="1" height="1"/><rect x="256" y="379" width="1" height="1"/><rect x="257" y="378" width="1" height="1"/><rect x="258" y="377" width="1" height="1"/><rect x="259" y="377" width="1" height="1"/><rect x="260" y="376" width="1" height="1"/><rect x="261" y="376" width="1" height="1"/><rect x="262" y="376" width="1" height="1"/><rect x="263" y="375" width="1" height="1"/><rect x="264" y="375" width="1" height="1"/><rect x="265" y="375" width="1" height="1"/><rect x="266" y="374" width="1" height="1"/><rect x="267" y="374" width="1" height="1"/><rect x="268" y="373" width="1" height="1"/><rect x="269" y="373" width="1" height="1"/><rect x="270" y="372" width="1" height="1"/><rect x="271" y="372" width="1" height="1"/><rect x="272" y="371" width="1" height="1"/><rect x="273" y="371" width="1" height="1"/><rect x="274" y="370" width="1" height="1"/><rect x="275" y="369" width="1" height="1"/><rect x="276" y="369" width="1" height="1"/><rect x="277" y="368" width="1" height="1"/><rect x="278" y="367" width="1" height="1"/><rect x="279" y="366" width="1" height="1"/><rect x="280" y="365" width="1" height="1"/><rect x="281" y="364" width="1" height="1"/><rect x="282" y="363" width="1" height="1"/><rect x="283" y="362" width="1" height="1"/><rect x="284" y="362" width="1" height="1"/><rect x="285" y="361" width="1" height="1"/><rect x="286" y="360" width="1" height="1"/><rect x="287" y="359" width="1" height="1"/><rect x="288" y="358" width="1" height="1"/><rect x="289" y="357" width="1" height="1"/><rect x="290" y="356" width="1" height="1"/><rect x="291" y="356" width="1" height="1"/><rect x="292" y="355" width="1" height="1"/><rect x="293" y="355" width="1" height="1"/><rect x="294" y="354" width="1" height="1"/><rect x="295" y="354" width="1" height="1"/><rect x="296" y="353" width="1" height="1"/><rect x="297" y="353" width="1" height="1"/><rect x="298" y="352" width="1" height="1"/><rect x="299" y="352" width="1" height="1"/><rect x="300" y="351" width="1" height="1"/><rect x="301" y="351" width="1" height="1"/><rect x="302" y="351" width="1" height="1"/><rect x="303" y="350" width="1" height="1"/><rect x="304" y="350" width="1" height="1"/><rect x="305" y="350" width="1" height="1"/><rect x="306" y="350" width="1" height="1"/><rect x="307" y="349" width="1" height="1"/><rect x="308" y="349" width="1" height="1"/><rect x="309" y="349" width="1" height="1"/><rect x="310" y="348" width="1" height="1"/><rect x="311" y="348" width="1" height="1"/><rect x="312" y="347" width="1" height="1"/><rect x="313" y="347" width="1" height="1"/><rect x="314" y="347" width="1" height="1"/><rect x="315" y="346" width="1" height="1"/><rect x="316" y="346" width="1" height="1"/><rect x="317" y="346" width="1" height="1"/><rect x="318" y="346" width="1" height="1"/><rect x="319" y="346" width="1" height="1"/><rect x="320" y="346" width="1" height="1"/><rect x="321" y="346" width="1" height="1"/><rect x="322" y="346" width="1" height="1"/><rect x="323" y="346" width="1" height="1"/><rect x="324" y="346" width="1" height="1"/><rect x="325" y="346" width="1" height="1"/><rect x="326" y="346" width="1" height="1"/><rect x="327" y="345" width="1" height="1"/><rect x="328" y="345" width="1" height="1"/><rect x="329" y="345" width="1" height="1"/><rect x="330" y="345" width="1" height="1"/><rect x="331" y="345" width="1" height="1"/><rect x="332" y="345" width="1" height="1"/><rect x="333" y="345" width="1" height="1"/><rect x="334" y="345" width="1" height="1"/><rect x="335" y="345" width="1" height="1"/><rect x="336" y="345" width="1" height="1"/><rect x="337" y="345" width="1" height="1"/><rect x="338" y="346" width="1" height="1"/><rect x="339" y="346" width="1" height="1"/><rect x="340" y="347" width="1" height="1"/><rect x="341" y="347" width="1" height="1"/><rect x="342" y="347" width="1" height="1"/><rect x="343" y="348" width="1" height="1"/><rect x="344" y="348" width="1" height="1"/><rect x="345" y="348" width="1" height="1"/><rect x="346" y="348" width="1" height="1"/><rect x="347" y="349" width="1" height="1"/><rect x="348" y="349" width="1" height="1"/><rect x="349" y="349" width="1" height="1"/><rect x="350" y="349" width="1" height="1"/><rect x="351" y="350" width="1" height="1"/><rect x="352" y="350" width="1" height="1"/><rect x="353" y="350" width="1" height="1"/><rect x="354" y="350" width="1" height="1"/><rect x="355" y="351" width="1" height="1"/><rect x="356" y="351" width="1" height="1"/><rect x="357" y="351" width="1" height="1"/><rect x="358" y="352" width="1" height="1"/><rect x="359" y="352" width="1" height="1"/><rect x="360" y="353" width="1" height="1"/><rect x="361" y="353" width="1" height="1"/><rect x="362" y="354" width="1" height="1"/><rect x="363" y="354" width="1" height="1"/><rect x="364" y="355" width="1" height="1"/><rect x="365" y="355" width="1" height="1"/><rect x="366" y="356" width="1" height="1"/><rect x="367" y="356" width="1" height="1"/><rect x="368" y="357" width="1" height="1"/><rect x="369" y="357" width="1" height="1"/><rect x="370" y="358" width="1" height="1"/><rect x="371" y="358" width="1" height="1"/><rect x="372" y="359" width="1" height="1"/><rect x="373" y="359" width="1" height="1"/><rect x="374" y="359" width="1" height="1"/><rect x="375" y="359" width="1" height="1"/><rect x="376" y="359" width="1" height="1"/><rect x="377" y="359" width="1" height="1"/><rect x="378" y="359" width="1" height="1"/><rect x="379" y="360" width="1" height="1"/><rect x="380" y="360" width="1" height="1"/><rect x="381" y="360" width="1" height="1"/><rect x="382" y="360" width="1" height="1"/><rect x="383" y="361" width="1" height="1"/><rect x="384" y="361" width="1" height="1"/><rect x="385" y="361" width="1" height="1"/><rect x="386" y="361" width="1" height="1"/><rect x="387" y="361" width="1" height="1"/><rect x="388" y="361" width="1" height="1"/><rect x="389" y="361" width="1" height="1"/><rect x="390" y="361" width="1" height="1"/><rect x="391" y="361" width="1" height="1"/><rect x="392" y="361" width="1" height="1"/><rect x="393" y="361" width="1" height="1"/><rect x="394" y="361" width="1" height="1"/><rect x="395" y="362" width="1" height="1"/><rect x="396" y="362" width="1" height="1"/><rect x="397" y="362" width="1" height="1"/><rect x="398" y="362" width="1" height="1"/><rect x="399" y="362" width="1" height="1"/><rect x="400" y="362" width="1" height="1"/><rect x="401" y="362" width="1" height="1"/><rect x="402" y="362" width="1" height="1"/><rect x="403" y="362" width="1" height="1"/><rect x="404" y="362" width="1" height="1"/><rect x="405" y="362" width="1" height="1"/><rect x="406" y="363" width="1" height="1"/><rect x="407" y="363" width="1" height="1"/><rect x="408" y="364" width="1" height="1"/><rect x="409" y="364" width="1" height="1"/><rect x="410" y="365" width="1" height="1"/><rect x="411" y="366" width="1" height="1"/><rect x="412" y="366" width="1" height="1"/><rect x="413" y="367" width="1" height="1"/><rect x="414" y="367" width="1" height="1"/><rect x="415" y="368" width="1" height="1"/><rect x="416" y="368" width="1" height="1"/><rect x="417" y="368" width="1" height="1"/><rect x="418" y="368" width="1" height="1"/><rect x="419" y="369" width="1" height="1"/><rect x="420" y="369" width="1" height="1"/><rect x="421" y="369" width="1" height="1"/><rect x="422" y="369" width="1" height="1"/><rect x="423" y="370" width="1" height="1"/><rect x="424" y="370" width="1" height="1"/><rect x="425" y="370" width="1" height="1"/><rect x="426" y="370" width="1" height="1"/><rect x="427" y="371" width="1" height="1"/><rect x="428" y="371" width="1" height="1"/><rect x="429" y="371" width="1" height="1"/><rect x="430" y="371" width="1" height="1"/><rect x="431" y="371" width="1" height="1"/><rect x="432" y="371" width="1" height="1"/><rect x="433" y="371" width="1" height="1"/><rect x="434" y="371" width="1" height="1"/><rect x="435" y="372" width="1" height="1"/><rect x="436" y="372" width="1" height="1"/><rect x="437" y="372" width="1" height="1"/><rect x="438" y="372" width="1" height="1"/><rect x="439" y="373" width="1" height="1"/><rect x="440" y="373" width="1" height="1"/><rect x="441" y="373" width="1" height="1"/><rect x="442" y="372" width="1" height="1"/><rect x="443" y="372" width="1" height="1"/><rect x="444" y="371" width="1" height="1"/><rect x="445" y="371" width="1" height="1"/><rect x="446" y="371" width="1" height="1"/><rect x="447" y="371" width="1" height="1"/><rect x="448" y="371" width="1" height="1"/><rect x="449" y="371" width="1" height="1"/><rect x="450" y="372" width="1" height="1"/><rect x="451" y="372" width="1" height="1"/><rect x="452" y="373" width="1" height="1"/><rect x="453" y="373" width="1" height="1"/><rect x="454" y="374" width="1" height="1"/><rect x="455" y="374" width="1" height="1"/><rect x="456" y="375" width="1" height="1"/><rect x="457" y="375" width="1" height="1"/><rect x="458" y="375" width="1" height="1"/><rect x="459" y="376" width="1" height="1"/><rect x="460" y="376" width="1" height="1"/><rect x="461" y="376" width="1" height="1"/><rect x="462" y="376" width="1" height="1"/><rect x="463" y="377" width="1" height="1"/><rect x="464" y="377" width="1" height="1"/><rect x="465" y="377" width="1" height="1"/><rect x="466" y="377" width="1" height="1"/><rect x="467" y="378" width="1" height="1"/><rect x="468" y="378" width="1" height="1"/><rect x="469" y="378" width="1" height="1"/><rect x="470" y="378" width="1" height="1"/><rect x="471" y="378" width="1" height="1"/><rect x="472" y="378" width="1" height="1"/><rect x="473" y="378" width="1" height="1"/><rect x="474" y="378" width="1" height="1"/><rect x="475" y="379" width="1" height="1"/><rect x="476" y="379" width="1" height="1"/><rect x="477" y="379" width="1" height="1"/><rect x="478" y="379" width="1" height="1"/><rect x="479" y="379" width="1" height="1"/><rect x="480" y="379" width="1" height="1"/><rect x="481" y="379" width="1" height="1"/><rect x="482" y="379" width="1" height="1"/><rect x="483" y="380" width="1" height="1"/><rect x="484" y="380" width="1" height="1"/><rect x="485" y="380" width="1" height="1"/><rect x="486" y="380" width="1" height="1"/><rect x="487" y="380" width="1" height="1"/><rect x="488" y="380" width="1" height="1"/><rect x="489" y="380" width="1" height="1"/><rect x="490" y="380" width="1" height="1"/><rect x="491" y="380" width="1" height="1"/><rect x="492" y="380" width="1" height="1"/><rect x="493" y="380" width="1" height="1"/><rect x="494" y="380" width="1" height="1"/><rect x="495" y="379" width="1" height="1"/><rect x="496" y="379" width="1" height="1"/><rect x="497" y="379" width="1" height="1"/><rect x="498" y="378" width="1" height="1"/><rect x="499" y="378" width="1" height="1"/><rect x="500" y="377" width="1" height="1"/><rect x="501" y="377" width="1" height="1"/><rect x="502" y="376" width="1" height="1"/><rect x="503" y="376" width="1" height="1"/><rect x="504" y="375" width="1" height="1"/><rect x="505" y="375" width="1" height="1"/><rect x="506" y="374" width="1" height="1"/><rect x="507" y="373" width="1" height="1"/><rect x="508" y="373" width="1" height="1"/><rect x="509" y="372" width="1" height="1"/><rect x="510" y="371" width="1" height="1"/><rect x="511" y="370" width="1" height="1"/><rect x="512" y="370" width="1" height="1"/><rect x="513" y="369" width="1" height="1"/><rect x="514" y="369" width="1" height="1"/><rect x="515" y="369" width="1" height="1"/><rect x="516" y="369" width="1" height="1"/><rect x="517" y="369" width="1" height="1"/><rect x="518" y="369" width="1" height="1"/><rect x="519" y="368" width="1" height="1"/><rect x="520" y="368" width="1" height="1"/><rect x="521" y="368" width="1" height="1"/><rect x="522" y="368" width="1" height="1"/><rect x="523" y="368" width="1" height="1"/><rect x="524" y="368" width="1" height="1"/><rect x="525" y="368" width="1" height="1"/><rect x="526" y="368" width="1" height="1"/><rect x="527" y="369" width="1" height="1"/><rect x="528" y="369" width="1" height="1"/><rect x="529" y="369" width="1" height="1"/><rect x="530" y="369" width="1" height="1"/><rect x="531" y="369" width="1" height="1"/><rect x="532" y="369" width="1" height="1"/><rect x="533" y="369" width="1" height="1"/><rect x="534" y="368" width="1" height="1"/><rect x="535" y="368" width="1" height="1"/><rect x="536" y="367" width="1" height="1"/><rect x="537" y="367" width="1" height="1"/><rect x="538" y="366" width="1" height="1"/><rect x="539" y="366" width="1" height="1"/><rect x="540" y="365" width="1" height="1"/><rect x="541" y="365" width="1" height="1"/><rect x="542" y="364" width="1" height="1"/><rect x="543" y="364" width="1" height="1"/><rect x="544" y="363" width="1" height="1"/><rect x="545" y="363" width="1" height="1"/><rect x="546" y="362" width="1" height="1"/><rect x="547" y="362" width="1" height="1"/><rect x="548" y="361" width="1" height="1"/><rect x="549" y="361" width="1" height="1"/><rect x="550" y="360" width="1" height="1"/><rect x="551" y="360" width="1" height="1"/><rect x="552" y="359" width="1" height="1"/><rect x="553" y="359" width="1" height="1"/><rect x="554" y="359" width="1" height="1"/><rect x="555" y="358" width="1" height="1"/><rect x="556" y="358" width="1" height="1"/><rect x="557" y="358" width="1" height="1"/><rect x="558" y="357" width="1" height="1"/><rect x="559" y="357" width="1" height="1"/><rect x="560" y="356" width="1" height="1"/><rect x="561" y="356" width="1" height="1"/><rect x="562" y="356" width="1" height="1"/><rect x="563" y="355" width="1" height="1"/><rect x="564" y="355" width="1" height="1"/><rect x="565" y="355" width="1" height="1"/><rect x="566" y="354" width="1" height="1"/><rect x="567" y="353" width="1" height="1"/><rect x="568" y="353" width="1" height="1"/><rect x="569" y="352" width="1" height="1"/><rect x="570" y="352" width="1" height="1"/><rect x="571" y="351" width="1" height="1"/><rect x="572" y="351" width="1" height="1"/><rect x="573" y="351" width="1" height="1"/><rect x="574" y="351" width="1" height="1"/><rect x="575" y="350" width="1" height="1"/><rect x="576" y="350" width="1" height="1"/><rect x="577" y="350" width="1" height="1"/><rect x="578" y="350" width="1" height="1"/><rect x="579" y="349" width="1" height="1"/><rect x="580" y="349" width="1" height="1"/><rect x="581" y="349" width="1" height="1"/><rect x="582" y="349" width="1" height="1"/><rect x="583" y="350" width="1" height="1"/><rect x="584" y="350" width="1" height="1"/><rect x="585" y="350" width="1" height="1"/><rect x="586" y="351" width="1" height="1"/><rect x="587" y="351" width="1" height="1"/><rect x="588" y="352" width="1" height="1"/><rect x="589" y="352" width="1" height="1"/><rect x="590" y="353" width="1" height="1"/><rect x="591" y="353" width="1" height="1"/><rect x="592" y="354" width="1" height="1"/><rect x="593" y="354" width="1" height="1"/><rect x="594" y="355" width="1" height="1"/><rect x="595" y="355" width="1" height="1"/><rect x="596" y="356" width="1" height="1"/><rect x="597" y="356" width="1" height="1"/><rect x="598" y="356" width="1" height="1"/><rect x="599" y="357" width="1" height="1"/><rect x="600" y="357" width="1" height="1"/><rect x="601" y="357" width="1" height="1"/><rect x="602" y="357" width="1" height="1"/><rect x="603" y="356" width="1" height="1"/><rect x="604" y="356" width="1" height="1"/><rect x="605" y="356" width="1" height="1"/><rect x="606" y="355" width="1" height="1"/><rect x="607" y="355" width="1" height="1"/><rect x="608" y="354" width="1" height="1"/><rect x="609" y="354" width="1" height="1"/><rect x="610" y="354" width="1" height="1"/><rect x="611" y="355" width="1" height="1"/><rect x="612" y="355" width="1" height="1"/><rect x="613" y="355" width="1" height="1"/><rect x="614" y="355" width="1" height="1"/><rect x="615" y="356" width="1" height="1"/><rect x="616" y="356" width="1" height="1"/><rect x="617" y="356" width="1" height="1"/><rect x="618" y="356" width="1" height="1"/><rect x="619" y="357" width="1" height="1"/><rect x="620" y="357" width="1" height="1"/><rect x="621" y="357" width="1" height="1"/><rect x="622" y="357" width="1" height="1"/><rect x="623" y="358" width="1" height="1"/><rect x="624" y="358" width="1" height="1"/><rect x="625" y="358" width="1" height="1"/><rect x="626" y="358" width="1" height="1"/><rect x="627" y="359" width="1" height="1"/><rect x="628" y="359" width="1" height="1"/><rect x="629" y="359" width="1" height="1"/><rect x="630" y="359" width="1" height="1"/><rect x="631" y="360" width="1" height="1"/><rect x="632" y="360" width="1" height="1"/><rect x="633" y="360" width="1" height="1"/><rect x="634" y="360" width="1" height="1"/><rect x="635" y="360" width="1" height="1"/><rect x="636" y="360" width="1" height="1"/><rect x="637" y="360" width="1" height="1"/><rect x="638" y="360" width="1" height="1"/><rect x="639" y="359" width="1" height="1"/><rect x="640" y="359" width="1" height="1"/><rect x="641" y="359" width="1" height="1"/><rect x="642" y="359" width="1" height="1"/><rect x="643" y="359" width="1" height="1"/><rect x="644" y="359" width="1" height="1"/><rect x="645" y="359" width="1" height="1"/><rect x="646" y="359" width="1" height="1"/><rect x="647" y="358" width="1" height="1"/><rect x="648" y="358" width="1" height="1"/><rect x="649" y="358" width="1" height="1"/><rect x="650" y="357" width="1" height="1"/><rect x="651" y="357" width="1" height="1"/><rect x="652" y="356" width="1" height="1"/><rect x="653" y="356" width="1" height="1"/><rect x="654" y="355" width="1" height="1"/><rect x="655" y="355" width="1" height="1"/><rect x="656" y="354" width="1" height="1"/><rect x="657" y="354" width="1" height="1"/><rect x="658" y="353" width="1" height="1"/><rect x="659" y="352" width="1" height="1"/><rect x="660" y="352" width="1" height="1"/><rect x="661" y="351" width="1" height="1"/><rect x="662" y="350" width="1" height="1"/><rect x="663" y="349" width="1" height="1"/><rect x="664" y="348" width="1" height="1"/><rect x="665" y="347" width="1" height="1"/><rect x="666" y="346" width="1" height="1"/><rect x="667" y="345" width="1" height="1"/><rect x="668" y="344" width="1" height="1"/><rect x="669" y="343" width="1" height="1"/><rect x="670" y="342" width="1" height="1"/><rect x="671" y="341" width="1" height="1"/><rect x="672" y="341" width="1" height="1"/><rect x="673" y="340" width="1" height="1"/><rect x="674" y="339" width="1" height="1"/><rect x="675" y="339" width="1" height="1"/><rect x="676" y="338" width="1" height="1"/><rect x="677" y="338" width="1" height="1"/><rect x="678" y="337" width="1" height="1"/><rect x="679" y="336" width="1" height="1"/><rect x="680" y="336" width="1" height="1"/><rect x="681" y="335" width="1" height="1"/><rect x="682" y="335" width="1" height="1"/><rect x="683" y="334" width="1" height="1"/><rect x="684" y="334" width="1" height="1"/><rect x="685" y="334" width="1" height="1"/><rect x="686" y="334" width="1" height="1"/><rect x="687" y="333" width="1" height="1"/><rect x="688" y="333" width="1" height="1"/><rect x="689" y="333" width="1" height="1"/><rect x="690" y="333" width="1" height="1"/><rect x="691" y="332" width="1" height="1"/><rect x="692" y="332" width="1" height="1"/><rect x="693" y="332" width="1" height="1"/><rect x="694" y="331" width="1" height="1"/><rect x="695" y="331" width="1" height="1"/><rect x="696" y="330" width="1" height="1"/><rect x="697" y="330" width="1" height="1"/><rect x="698" y="329" width="1" height="1"/><rect x="699" y="329" width="1" height="1"/><rect x="700" y="328" width="1" height="1"/><rect x="701" y="328" width="1" height="1"/><rect x="702" y="327" width="1" height="1"/><rect x="703" y="327" width="1" height="1"/><rect x="704" y="326" width="1" height="1"/><rect x="705" y="326" width="1" height="1"/><rect x="706" y="325" width="1" height="1"/><rect x="707" y="324" width="1" height="1"/><rect x="708" y="324" width="1" height="1"/><rect x="709" y="323" width="1" height="1"/><rect x="710" y="322" width="1" height="1"/><rect x="711" y="322" width="1" height="1"/><rect x="712" y="321" width="1" height="1"/><rect x="713" y="321" width="1" height="1"/><rect x="714" y="321" width="1" height="1"/><rect x="715" y="320" width="1" height="1"/><rect x="716" y="320" width="1" height="1"/><rect x="717" y="320" width="1" height="1"/><rect x="718" y="320" width="1" height="1"/><rect x="719" y="321" width="1" height="1"/><rect x="720" y="321" width="1" height="1"/><rect x="721" y="321" width="1" height="1"/><rect x="722" y="321" width="1" height="1"/><rect x="723" y="321" width="1" height="1"/><rect x="724" y="321" width="1" height="1"/><rect x="725" y="321" width="1" height="1"/><rect x="726" y="321" width="1" height="1"/><rect x="727" y="322" width="1" height="1"/><rect x="728" y="322" width="1" height="1"/><rect x="729" y="322" width="1" height="1"/><rect x="730" y="322" width="1" height="1"/><rect x="731" y="322" width="1" height="1"/><rect x="732" y="322" width="1" height="1"/><rect x="733" y="322" width="1" height="1"/><rect x="734" y="322" width="1" height="1"/><rect x="735" y="323" width="1" height="1"/><rect x="736" y="323" width="1" height="1"/><rect x="737" y="323" width="1" height="1"/><rect x="738" y="323" width="1" height="1"/><rect x="739" y="323" width="1" height="1"/><rect x="740" y="323" width="1" height="1"/><rect x="741" y="323" width="1" height="1"/><rect x="742" y="323" width="1" height="1"/><rect x="743" y="324" width="1" height="1"/><rect x="744" y="324" width="1" height="1"/><rect x="745" y="324" width="1" height="1"/><rect x="746" y="324" width="1" height="1"/><rect x="747" y="325" width="1" height="1"/><rect x="748" y="325" width="1" height="1"/><rect x="749" y="325" width="1" height="1"/><rect x="750" y="325" width="1" height="1"/><rect x="751" y="326" width="1" height="1"/><rect x="752" y="326" width="1" height="1"/><rect x="753" y="326" width="1" height="1"/><rect x="754" y="326" width="1" height="1"/><rect x="755" y="327" width="1" height="1"/><rect x="756" y="327" width="1" height="1"/><rect x="757" y="327" width="1" height="1"/><rect x="758" y="327" width="1" height="1"/><rect x="759" y="327" width="1" height="1"/><rect x="760" y="327" width="1" height="1"/><rect x="761" y="327" width="1" height="1"/><rect x="762" y="327" width="1" height="1"/><rect x="763" y="327" width="1" height="1"/><rect x="764" y="327" width="1" height="1"/><rect x="765" y="327" width="1" height="1"/><rect x="766" y="326" width="1" height="1"/><rect x="767" y="326" width="1" height="1"/><rect x="768" y="325" width="1" height="1"/><rect x="769" y="325" width="1" height="1"/><rect x="770" y="325" width="1" height="1"/><rect x="771" y="324" width="1" height="1"/><rect x="772" y="324" width="1" height="1"/><rect x="773" y="324" width="1" height="1"/><rect x="774" y="323" width="1" height="1"/><rect x="775" y="323" width="1" height="1"/><rect x="776" y="322" width="1" height="1"/><rect x="777" y="322" width="1" height="1"/><rect x="778" y="321" width="1" height="1"/><rect x="779" y="320" width="1" height="1"/><rect x="780" y="320" width="1" height="1"/><rect x="781" y="319" width="1" height="1"/><rect x="782" y="318" width="1" height="1"/><rect x="783" y="317" width="1" height="1"/><rect x="784" y="316" width="1" height="1"/><rect x="785" y="315" width="1" height="1"/><rect x="786" y="314" width="1" height="1"/><rect x="787" y="313" width="1" height="1"/><rect x="788" y="313" width="1" height="1"/><rect x="789" y="312" width="1" height="1"/><rect x="790" y="311" width="1" height="1"/><rect x="791" y="310" width="1" height="1"/><rect x="792" y="309" width="1" height="1"/><rect x="793" y="308" width="1" height="1"/><rect x="794" y="307" width="1" height="1"/><rect x="795" y="306" width="1" height="1"/><rect x="796" y="305" width="1" height="1"/><rect x="797" y="304" width="1" height="1"/><rect x="798" y="302" width="1" height="2"/><rect x="799" y="301" width="1" height="1"/><rect x="800" y="299" width="1" height="2"/><rect x="801" y="298" width="1" height="1"/><rect x="802" y="296" width="1" height="2"/><rect x="803" y="295" width="1" height="1"/><rect x="804" y="293" width="1" height="2"/><rect x="805" y="292" width="1" height="1"/><rect x="806" y="290" width="1" height="2"/><rect x="807" y="288" width="1" height="2"/><rect x="808" y="286" width="1" height="2"/><rect x="809" y="285" width="1" height="1"/><rect x="810" y="283" width="1" height="2"/><rect x="811" y="281" width="1" height="2"/><rect x="812" y="279" width="1" height="2"/><rect x="813" y="278" width="1" height="1"/><rect x="814" y="276" width="1" height="2"/><rect x="815" y="274" width="1" height="2"/><rect x="816" y="272" width="1" height="2"/><rect x="817" y="270" width="1" height="2"/><rect x="818" y="268" width="1" height="2"/><rect x="819" y="266" width="1" height="2"/><rect x="820" y="264" width="1" height="2"/><rect x="821" y="262" width="1" height="2"/><rect x="822" y="260" width="1" height="2"/><rect x="823" y="258" width="1" height="2"/><rect x="824" y="256" width="1" height="2"/><rect x="825" y="255" width="1" height="1"/><rect x="826" y="253" width="1" height="2"/><rect x="827" y="251" width="1" height="2"/><rect x="828" y="249" width="1" height="2"/><rect x="829" y="248" width="1" height="1"/><rect x="830" y="246" width="1" height="2"/><rect x="831" y="244" width="1" height="2"/><rect x="832" y="242" width="1" height="2"/><rect x="833" y="240" width="1" height="2"/><rect x="834" y="238" width="1" height="2"/><rect x="835" y="236" width="1" height="2"/><rect x="836" y="234" width="1" height="2"/><rect x="837" y="232" width="1" height="2"/><rect x="838" y="230" width="1" height="2"/><rect x="839" y="227" width="1" height="3"/><rect x="840" y="225" width="1" height="2"/><rect x="841" y="222" width="1" height="3"/><rect x="842" y="220" width="1" height="2"/><rect x="843" y="217" width="1" height="3"/><rect x="844" y="215" width="1" height="2"/><rect x="845" y="212" width="1" height="3"/><rect x="846" y="210" width="1" height="2"/><rect x="847" y="208" width="1" height="2"/><rect x="848" y="206" width="1" height="2"/><rect x="849" y="203" width="1" height="3"/><rect x="850" y="201" width="1" height="2"/><rect x="851" y="199" width="1" height="2"/><rect x="852" y="197" width="1" height="2"/><rect x="853" y="194" width="1" height="3"/><rect x="854" y="192" width="1" height="2"/><rect x="855" y="189" width="1" height="3"/><rect x="856" y="187" width="1" height="2"/><rect x="857" y="184" width="1" height="3"/><rect x="858" y="182" width="1" height="2"/><rect x="859" y="180" width="1" height="2"/><rect x="860" y="178" width="1" height="2"/><rect x="861" y="175" width="1" height="3"/><rect x="862" y="173" width="1" height="2"/><rect x="863" y="170" width="1" height="3"/><rect x="864" y="168" width="1" height="2"/><rect x="865" y="165" width="1" height="3"/><rect x="866" y="163" width="1" height="2"/><rect x="867" y="161" width="1" height="2"/><rect x="868" y="159" width="1" height="2"/><rect x="869" y="156" width="1" height="3"/><rect x="870" y="154" width="1" height="2"/><rect x="871" y="152" width="1" height="2"/><rect x="872" y="150" width="1" height="2"/><rect x="873" y="147" width="1" height="3"/><rect x="874" y="145" width="1" height="2"/><rect x="875" y="143" width="1" height="2"/><rect x="876" y="141" width="1" height="2"/><rect x="877" y="139" width="1" height="2"/><rect x="878" y="137" width="1" height="2"/><rect x="879" y="136" width="1" height="1"/><rect x="880" y="134" width="1" height="2"/><rect x="881" y="133" width="1" height="1"/><rect x="882" y="131" width="1" height="2"/><rect x="883" y="130" width="1" height="1"/><rect x="884" y="128" width="1" height="2"/><rect x="885" y="127" width="1" height="1"/><rect x="886" y="126" width="1" height="1"/><rect x="887" y="126" width="1" height="1"/><rect x="888" y="125" width="1" height="1"/><rect x="889" y="125" width="1" height="1"/><rect x="890" y="124" width="1" height="1"/><rect x="891" y="123" width="1" height="1"/><rect x="892" y="123" width="1" height="1"/><rect x="893" y="122" width="1" height="1"/><rect x="894" y="122" width="1" height="1"/><rect x="895" y="121" width="1" height="1"/><rect x="896" y="121" width="1" height="1"/><rect x="897" y="121" width="1" height="1"/><rect x="898" y="122" width="1" height="1"/><rect x="899" y="122" width="1" height="1"/><rect x="900" y="123" width="1" height="1"/><rect x="901" y="123" width="1" height="1"/><rect x="902" y="123" width="1" height="1"/><rect x="903" y="124" width="1" height="1"/><rect x="904" y="124" width="1" height="1"/><rect x="905" y="124" width="1" height="1"/><rect x="906" y="125" width="1" height="1"/><rect x="907" y="126" width="1" height="1"/><rect x="908" y="126" width="1" height="1"/><rect x="909" y="127" width="1" height="1"/><rect x="910" y="128" width="1" height="1"/><rect x="911" y="129" width="1" height="1"/><rect x="912" y="129" width="1" height="1"/><rect x="913" y="130" width="1" height="1"/><rect x="914" y="131" width="1" height="1"/><rect x="915" y="132" width="1" height="1"/><rect x="916" y="133" width="1" height="1"/><rect x="917" y="134" width="1" height="1"/><rect x="918" y="135" width="1" height="1"/><rect x="919" y="136" width="1" height="1"/><rect x="920" y="136" width="1" height="1"/><rect x="921" y="137" width="1" height="1"/><rect x="922" y="138" width="1" height="1"/><rect x="923" y="139" width="1" height="1"/><rect x="924" y="140" width="1" height="1"/><rect x="925" y="141" width="1" height="1"/></g><rect x="5" y="381" width="1" height="18" fill="#32cd32"/>
<rect x="5" y="382" width="2" height="11" fill="#32cd32"/>
<rect x="9" y="387" width="1" height="4" fill="#32cd32"/>
<rect x="8" y="388" width="3" height="2" fill="#32cd32"/>
<rect x="13" y="377" width="1" height="13" fill="#ff0000"/>
<rect x="12" y="384" width="3" height="5" fill="#ff0000"/>
<rect x="17" y="366" width="1" height="27" fill="#ff0000"/>
<rect x="16" y="368" width="3" height="19" fill="#ff0000"/>
<rect x="21" y="353" width="1" height="21" fill="#ff0000"/>
<rect x="20" y="359" width="3" height="11" fill="#ff0000"/>
<rect x="25" y="357" width="1" height="25" fill="#32cd32"/>
<rect x="24" y="359" width="3" height="20" fill="#32cd32"/>
<rect x="29" y="371" width="1" height="15" fill="#ff0000"/>
<rect x="28" y="374" width="3" height="5" fill="#ff0000"/>
<rect x="33" y="372" width="1" height="2" fill="#ff0000"/>
<rect x="32" y="372" width="3" height="2" fill="#ff0000"/>
<rect x="37" y="351" width="1" height="23" fill="#ff0000"/>
<rect x="36" y="357" width="3" height="16" fill="#ff0000"/>
<rect x="41" y="355" width="1" height="20" fill="#32cd32"/>
<rect x="40" y="357" width="3" height="10" fill="#32cd32"/>
<rect x="45" y="364" width="1" height="17" fill="#32cd32"/>
<rect x="44" y="365" width="3" height="4" fill="#32cd32"/>
<rect x="49" y="337" width="1" height="33" fill="#ff0000"/>
<rect x="48" y="338" width="3" height="31" fill="#ff0000"/>
<rect x="53" y="320" width="1" height="26" fill="#ff0000"/>
<rect x="52" y="320" width="3" height="19" fill="#ff0000"/>
<rect x="57" y="320" width="1" height="3" fill="#32cd32"/>
<rect x="56" y="320" width="3" height="2" fill="#32cd32"/>
<rect x="61" y="317" width="1" height="24" fill="#32cd32"/>
<rect x="60" y="320" width="3" height="19" fill="#32cd32"/>
<rect x="65" y="335" width="1" height="23" fill="#32cd32"/>
<rect x="64" y="337" width="3" height="18" fill="#32cd32"/>
<rect x="69" y="339" width="1" height="23" fill="#ff0000"/>
<rect x="68" y="342" width="3" height="13" fill="#ff0000"/>
<rect x="73" y="338" width="1" height="23" fill="#32cd32"/>
<rect x="72" y="342" width="3" height="8" fill="#32cd32"/>
<rect x="77" y="343" width="1" height="17" fill="#ff0000"/>
<rect x="76" y="347" width="3" height="3" fill="#ff0000"/>
<rect x="81" y="347" width="1" height="4" fill="#32cd32"/>
<rect x="80" y="347" width="3" height="4" fill="#32cd32"/>
<rect x="85" y="332" width="1" height="19" fill="#ff0000"/>
<rect x="84" y="344" width="3" height="7" fill="#ff0000"/>
<rect x="89" y="328" width="1" height="18" fill="#ff0000"/>
<rect x="88" y="332" width="3" height="14" fill="#ff0000"/>
<rect x="93" y="308" width="1" height="29" fill="#ff0000"/>
<rect x="92" y="313" width="3" height="21" fill="#ff0000"/>
<rect x="97" y="303" width="1" height="24" fill="#32cd32"/>
<rect x="96" y="313" width="3" height="8" fill="#32cd32"/>
<rect x="101" y="315" width="1" height="22" fill="#32cd32"/>
<rect x="100" y="319" width="3" height="11" fill="#32cd32"/>
<rect x="105" y="329" width="1" height="3" fill="#32cd32"/>
<rect x="104" y="329" width="3" height="3" fill="#32cd32"/>
<rect x="109" y="325" width="1" height="30" fill="#32cd32"/>
<rect x="108" y="330" width="3" height="19" fill="#32cd32"/>
<rect x="113" y="333" width="1" height="18" fill="#ff0000"/>
<rect x="112" y="334" width="3" height="15" fill="#ff0000"/>
<rect x="117" y="326" width="1" height="15" fill="#32cd32"/>
<rect x="116" y="334" width="3" height="5" fill="#32cd32"/>
<rect x="121" y="332" width="1" height="15" fill="#ff0000"/>
<rect x="120" y="334" width="3" height="5" fill="#ff0000"/>
<rect x="125" y="327" width="1" height="19" fill="#32cd32"/>
<rect x="124" y="334" width="3" height="8" fill="#32cd32"/>
<rect x="129" y="336" width="1" height="5" fill="#ff0000"/>
<rect x="128" y="337" width="3" height="3" fill="#ff0000"/>
<rect x="133" y="333" width="1" height="16" fill="#32cd32"/>
<rect x="132" y="336" width="3" height="3" fill="#32cd32"/>
<rect x="137" y="324" width="1" height="23" fill="#ff0000"/>
<rect x="136" y="326" width="3" height="13" fill="#ff0000"/>
<rect x="141" y="326" width="1" height="29" fill="#32cd32"/>
<rect x="140" y="326" width="3" height="25" fill="#32cd32"/>
<rect x="145" y="349" width="1" height="21" fill="#ff0000"/>
<rect x="144" y="350" width="3" height="3" fill="#ff0000"/>
<rect x="149" y="342" width="1" height="17" fill="#32cd32"/>
<rect x="148" y="350" width="3" height="7" fill="#32cd32"/>
<rect x="153" y="352" width="1" height="4" fill="#ff0000"/>
<rect x="152" y="353" width="3" height="3" fill="#ff0000"/>
<rect x="157" y="340" width="1" height="19" fill="#000"/>
<rect x="156" y="353" width="3" height="1" fill="#000"/>
<rect x="161" y="353" width="1" height="20" fill="#32cd32"/>
<rect x="160" y="353" width="3" height="3" fill="#32cd32"/>
<rect x="165" y="346" width="1" height="27" fill="#32cd32"/>
<rect x="164" y="355" width="3" height="17" fill="#32cd32"/>
<rect x="169" y="363" width="1" height="16" fill="#32cd32"/>
<rect x="168" y="370" width="3" height="5" fill="#32cd32"/>
<rect x="173" y="371" width="1" height="15" fill="#32cd32"/>
<rect x="172" y="373" width="3" height="8" fill="#32cd32"/>
<rect x="177" y="378" width="1" height="4" fill="#ff0000"/>
<rect x="176" y="378" width="3" height="3" fill="#ff0000"/>
<rect x="181" y="365" width="1" height="21" fill="#ff0000"/>
<rect x="180" y="366" width="3" height="13" fill="#ff0000"/>
<rect x="185" y="356" width="1" height="16" fill="#32cd32"/>
<rect x="184" y="366" width="3" height="3" fill="#32cd32"/>
<rect x="189" y="364" width="1" height="17" fill="#32cd32"/>
<rect x="188" y="367" width="3" height="8" fill="#32cd32"/>
<rect x="193" y="368" width="1" height="32" fill="#32cd32"/>
<rect x="192" y="373" width="3" height="25" fill="#32cd32"/>
<rect x="197" y="375" width="1" height="29" fill="#ff0000"/>
<rect x="196" y="383" width="3" height="15" fill="#ff0000"/>
<rect x="201" y="379" width="1" height="4" fill="#ff0000"/>
<rect x="200" y="380" width="3" height="3" fill="#ff0000"/>
<rect x="205" y="376" width="1" height="33" fill="#32cd32"/>
<rect x="204" y="380" width="3" height="27" fill="#32cd32"/>
<rect x="209" y="384" width="1" height="23" fill="#ff0000"/>
<rect x="208" y="385" width="3" height="22" fill="#ff0000"/>
<rect x="213" y="384" width="1" height="19" fill="#32cd32"/>
<rect x="212" y="385" width="3" height="14" fill="#32cd32"/>
<rect x="217" y="386" width="1" height="15" fill="#ff0000"/>
<rect x="216" y="393" width="3" height="7" fill="#ff0000"/>
<rect x="221" y="374" width="1" height="25" fill="#32cd32"/>
<rect x="220" y="393" width="3" height="2" fill="#32cd32"/>
<rect x="225" y="394" width="1" height="4" fill="#32cd32"/>
<rect x="224" y="395" width="3" height="2" fill="#32cd32"/>
<rect x="229" y="381" width="1" height="16" fill="#ff0000"/>
<rect x="228" y="390" width="3" height="7" fill="#ff0000"/>
<rect x="233" y="383" width="1" height="21" fill="#32cd32"/>
<rect x="232" y="390" width="3" height="11" fill="#32cd32"/>
<rect x="237" y="371" width="1" height="31" fill="#ff0000"/>
<rect x="236" y="373" width="3" height="28" fill="#ff0000"/>
<rect x="241" y="357" width="1" height="19" fill="#ff0000"/>
<rect x="240" y="361" width="3" height="14" fill="#ff0000"/>
<rect x="245" y="352" width="1" height="15" fill="#32cd32"/>
<rect x="244" y="361" width="3" height="4" fill="#32cd32"/>
<rect x="249" y="361" width="1" height="3" fill="#ff0000"/>
<rect x="248" y="361" width="3" height="3" fill="#ff0000"/>
<rect x="253" y="344" width="1" height="29" fill="#ff0000"/>
<rect x="252" y="346" width="3" height="17" fill="#ff0000"/>
<rect x="257" y="324" width="1" height="30" fill="#ff0000"/>
<rect x="256" y="327" width="3" height="20" fill="#ff0000"/>
<rect x="261" y="318" width="1" height="22" fill="#32cd32"/>
<rect x="260" y="327" width="3" height="8" fill="#32cd32"/>
<rect x="265" y="332" width="1" height="17" fill="#32cd32"/>
<rect x="264" y="334" width="3" height="11" fill="#32cd32"/>
<rect x="269" y="332" width="1" height="17" fill="#ff0000"/>
<rect x="268" y="334" width="3" height="11" fill="#ff0000"/>
<rect x="273" y="330" width="1" height="6" fill="#ff0000"/>
<rect x="272" y="331" width="3" height="4" fill="#ff0000"/>
<rect x="277" y="316" width="1" height="27" fill="#ff0000"/>
<rect x="276" y="318" width="3" height="15" fill="#ff0000"/>
<rect x="281" y="312" width="1" height="17" fill="#ff0000"/>
<rect x="280" y="316" width="3" height="5" fill="#ff0000"/>
<rect x="285" y="302" width="1" height="17" fill="#ff0000"/>
<rect x="284" y="314" width="3" height="4" fill="#ff0000"/>
<rect x="289" y="306" width="1" height="15" fill="#ff0000"/>
<rect x="288" y="309" width="3" height="6" fill="#ff0000"/>
<rect x="293" y="308" width="1" height="54" fill="#32cd32"/>
<rect x="292" y="309" width="3" height="52" fill="#32cd32"/>
<rect x="297" y="346" width="1" height="13" fill="#ff0000"/>
<rect x="296" y="350" width="3" height="7" fill="#ff0000"/>
<rect x="301" y="339" width="1" height="19" fill="#32cd32"/>
<rect x="300" y="349" width="3" height="8" fill="#32cd32"/>
<rect x="305" y="341" width="1" height="42" fill="#32cd32"/>
<rect x="304" y="355" width="3" height="14" fill="#32cd32"/>
<rect x="309" y="359" width="1" height="20" fill="#ff0000"/>
<rect x="308" y="364" width="3" height="6" fill="#ff0000"/>
<rect x="313" y="358" width="1" height="18" fill="#32cd32"/>
<rect x="312" y="364" width="3" height="4" fill="#32cd32"/>
<rect x="317" y="359" width="1" height="21" fill="#32cd32"/>
<rect x="316" y="366" width="3" height="11" fill="#32cd32"/>
<rect x="321" y="370" width="1" height="8" fill="#ff0000"/>
<rect x="320" y="372" width="3" height="5" fill="#ff0000"/>
<rect x="325" y="340" width="1" height="33" fill="#ff0000"/>
<rect x="324" y="345" width="3" height="28" fill="#ff0000"/>
<rect x="329" y="338" width="1" height="18" fill="#32cd32"/>
<rect x="328" y="345" width="3" height="6" fill="#32cd32"/>
<rect x="333" y="346" width="1" height="24" fill="#32cd32"/>
<rect x="332" y="348" width="3" height="19" fill="#32cd32"/>
<rect x="337" y="342" width="1" height="26" fill="#ff0000"/>
<rect x="336" y="352" width="3" height="15" fill="#ff0000"/>
<rect x="341" y="347" width="1" height="20" fill="#32cd32"/>
<rect x="340" y="352" width="3" height="12" fill="#32cd32"/>
<rect x="345" y="359" width="1" height="8" fill="#ff0000"/>
<rect x="344" y="360" width="3" height="7" fill="#ff0000"/>
<rect x="349" y="345" width="1" height="21" fill="#ff0000"/>
<rect x="348" y="357" width="3" height="5" fill="#ff0000"/>
<rect x="353" y="349" width="1" height="23" fill="#ff0000"/>
<rect x="352" y="350" width="3" height="9" fill="#ff0000"/>
<rect x="357" y="331" width="1" height="24" fill="#ff0000"/>
<rect x="356" y="350" width="3" height="3" fill="#ff0000"/>
<rect x="361" y="345" width="1" height="27" fill="#32cd32"/>
<rect x="360" y="349" width="3" height="22" fill="#32cd32"/>
<rect x="365" y="349" width="1" height="28" fill="#ff0000"/>
<rect x="364" y="352" width="3" height="19" fill="#ff0000"/>
<rect x="369" y="349" width="1" height="6" fill="#32cd32"/>
<rect x="368" y="350" width="3" height="5" fill="#32cd32"/>
<rect x="373" y="347" width="1" height="24" fill="#32cd32"/>
<rect x="372" y="353" width="3" height="8" fill="#32cd32"/>
<rect x="377" y="346" width="1" height="23" fill="#ff0000"/>
<rect x="376" y="356" width="3" height="5" fill="#ff0000"/>
<rect x="381" y="346" width="1" height="25" fill="#32cd32"/>
<rect x="380" y="355" width="3" height="15" fill="#32cd32"/>
<rect x="385" y="360" width="1" height="17" fill="#32cd32"/>
<rect x="384" y="367" width="3" height="6" fill="#32cd32"/>
<rect x="389" y="367" width="1" height="14" fill="#ff0000"/>
<rect x="388" y="371" width="3" height="2" fill="#ff0000"/>
<rect x="393" y="370" width="1" height="7" fill="#ff0000"/>
<rect x="392" y="370" width="3" height="3" fill="#ff0000"/>
<rect x="397" y="366" width="1" height="13" fill="#32cd32"/>
<rect x="396" y="370" width="3" height="8" fill="#32cd32"/>
<rect x="401" y="369" width="1" height="14" fill="#32cd32"/>
<rect x="400" y="376" width="3" height="2" fill="#32cd32"/>
<rect x="405" y="366" width="1" height="29" fill="#32cd32"/>
<rect x="404" y="376" width="3" height="14" fill="#32cd32"/>
<rect x="409" y="373" width="1" height="20" fill="#000"/>
<rect x="408" y="389" width="3" height="1" fill="#000"/>
<rect x="413" y="385" width="1" height="19" fill="#32cd32"/>
<rect x="412" y="388" width="3" height="10" fill="#32cd32"/>
<rect x="417" y="394" width="1" height="10" fill="#ff0000"/>
<rect x="416" y="395" width="3" height="9" fill="#ff0000"/>
<rect x="421" y="366" width="1" height="33" fill="#ff0000"/>
<rect x="420" y="372" width="3" height="25" fill="#ff0000"/>
<rect x="425" y="368" width="1" height="23" fill="#32cd32"/>
<rect x="424" y="372" width="3" height="10" fill="#32cd32"/>
<rect x="429" y="372" width="1" height="18" fill="#ff0000"/>
<rect x="428" y="376" width="3" height="5" fill="#ff0000"/>
<rect x="433" y="357" width="1" height="22" fill="#ff0000"/>
<rect x="432" y="360" width="3" height="17" fill="#ff0000"/>
<rect x="437" y="354" width="1" height="19" fill="#32cd32"/>
<rect x="436" y="360" width="3" height="13" fill="#32cd32"/>
<rect x="441" y="368" width="1" height="5" fill="#ff0000"/>
<rect x="440" y="370" width="3" height="3" fill="#ff0000"/>
<rect x="445" y="338" width="1" height="34" fill="#ff0000"/>
<rect x="444" y="339" width="3" height="33" fill="#ff0000"/>
<rect x="449" y="337" width="1" height="20" fill="#32cd32"/>
<rect x="448" y="339" width="3" height="16" fill="#32cd32"/>
<rect x="453" y="349" width="1" height="45" fill="#32cd32"/>
<rect x="452" y="353" width="3" height="35" fill="#32cd32"/>
<rect x="457" y="385" width="1" height="23" fill="#32cd32"/>
<rect x="456" y="387" width="3" height="13" fill="#32cd32"/>
<rect x="461" y="387" width="1" height="20" fill="#ff0000"/>
<rect x="460" y="389" width="3" height="11" fill="#ff0000"/>
<rect x="465" y="385" width="1" height="9" fill="#ff0000"/>
<rect x="464" y="386" width="3" height="7" fill="#ff0000"/>
<rect x="469" y="381" width="1" height="16" fill="#32cd32"/>
<rect x="468" y="386" width="3" height="4" fill="#32cd32"/>
<rect x="473" y="374" width="1" height="18" fill="#ff0000"/>
<rect x="472" y="376" width="3" height="14" fill="#ff0000"/>
<rect x="477" y="374" width="1" height="14" fill="#32cd32"/>
<rect x="476" y="376" width="3" height="8" fill="#32cd32"/>
<rect x="481" y="374" width="1" height="16" fill="#ff0000"/>
<rect x="480" y="377" width="3" height="7" fill="#ff0000"/>
<rect x="485" y="376" width="1" height="26" fill="#32cd32"/>
<rect x="484" y="377" width="3" height="22" fill="#32cd32"/>
<rect x="489" y="393" width="1" height="7" fill="#ff0000"/>
<rect x="488" y="393" width="3" height="7" fill="#ff0000"/>
<rect x="493" y="381" width="1" height="19" fill="#ff0000"/>
<rect x="492" y="388" width="3" height="7" fill="#ff0000"/>
<rect x="497" y="364" width="1" height="26" fill="#ff0000"/>
<rect x="496" y="373" width="3" height="17" fill="#ff0000"/>
<rect x="501" y="349" width="1" height="27" fill="#ff0000"/>
<rect x="500" y="351" width="3" height="25" fill="#ff0000"/>
<rect x="505" y="315" width="1" height="39" fill="#ff0000"/>
<rect x="504" y="325" width="3" height="28" fill="#ff0000"/>
<rect x="509" y="318" width="1" height="16" fill="#32cd32"/>
<rect x="508" y="325" width="3" height="2" fill="#32cd32"/>
<rect x="513" y="322" width="1" height="7" fill="#ff0000"/>
<rect x="512" y="324" width="3" height="4" fill="#ff0000"/>
<rect x="517" y="313" width="1" height="36" fill="#32cd32"/>
<rect x="516" y="324" width="3" height="18" fill="#32cd32"/>
<rect x="521" y="337" width="1" height="28" fill="#32cd32"/>
<rect x="520" y="339" width="3" height="26" fill="#32cd32"/>
<rect x="525" y="358" width="1" height="18" fill="#32cd32"/>
<rect x="524" y="362" width="3" height="9" fill="#32cd32"/>
<rect x="529" y="353" width="1" height="23" fill="#ff0000"/>
<rect x="528" y="364" width="3" height="7" fill="#ff0000"/>
<rect x="533" y="344" width="1" height="25" fill="#ff0000"/>
<rect x="532" y="345" width="3" height="20" fill="#ff0000"/>
<rect x="537" y="345" width="1" height="4" fill="#32cd32"/>
<rect x="536" y="345" width="3" height="4" fill="#32cd32"/>
<rect x="541" y="343" width="1" height="16" fill="#32cd32"/>
<rect x="540" y="346" width="3" height="9" fill="#32cd32"/>
<rect x="545" y="343" width="1" height="14" fill="#ff0000"/>
<rect x="544" y="347" width="3" height="8" fill="#ff0000"/>
<rect x="549" y="346" width="1" height="13" fill="#32cd32"/>
<rect x="548" y="347" width="3" height="5" fill="#32cd32"/>
<rect x="553" y="330" width="1" height="27" fill="#ff0000"/>
<rect x="552" y="344" width="3" height="7" fill="#ff0000"/>
<rect x="557" y="334" width="1" height="17" fill="#32cd32"/>
<rect x="556" y="344" width="3" height="3" fill="#32cd32"/>
<rect x="561" y="347" width="1" height="3" fill="#ff0000"/>
<rect x="560" y="347" width="3" height="3" fill="#ff0000"/>
<rect x="565" y="339" width="1" height="14" fill="#32cd32"/>
<rect x="564" y="348" width="3" height="3" fill="#32cd32"/>
<rect x="569" y="338" width="1" height="19" fill="#ff0000"/>
<rect x="568" y="345" width="3" height="6" fill="#ff0000"/>
<rect x="573" y="343" width="1" height="22" fill="#32cd32"/>
<rect x="572" y="345" width="3" height="16" fill="#32cd32"/>
<rect x="577" y="355" width="1" height="17" fill="#32cd32"/>
<rect x="576" y="359" width="3" height="8" fill="#32cd32"/>
<rect x="581" y="359" width="1" height="12" fill="#ff0000"/>
<rect x="580" y="362" width="3" height="5" fill="#ff0000"/>
<rect x="585" y="360" width="1" height="5" fill="#32cd32"/>
<rect x="584" y="362" width="3" height="2" fill="#32cd32"/>
<rect x="589" y="360" width="1" height="26" fill="#32cd32"/>
<rect x="588" y="362" width="3" height="21" fill="#32cd32"/>
<rect x="593" y="355" width="1" height="31" fill="#ff0000"/>
<rect x="592" y="360" width="3" height="23" fill="#ff0000"/>
<rect x="597" y="359" width="1" height="21" fill="#32cd32"/>
<rect x="596" y="360" width="3" height="17" fill="#32cd32"/>
<rect x="601" y="333" width="1" height="45" fill="#ff0000"/>
<rect x="600" y="344" width="3" height="33" fill="#ff0000"/>
<rect x="605" y="335" width="1" height="22" fill="#ff0000"/>
<rect x="604" y="342" width="3" height="4" fill="#ff0000"/>
<rect x="609" y="338" width="1" height="11" fill="#ff0000"/>
<rect x="608" y="341" width="3" height="4" fill="#ff0000"/>
<rect x="613" y="337" width="1" height="43" fill="#32cd32"/>
<rect x="612" y="341" width="3" height="36" fill="#32cd32"/>
<rect x="617" y="364" width="1" height="22" fill="#ff0000"/>
<rect x="616" y="371" width="3" height="6" fill="#ff0000"/>
<rect x="621" y="351" width="1" height="29" fill="#ff0000"/>
<rect x="620" y="364" width="3" height="9" fill="#ff0000"/>
<rect x="625" y="360" width="1" height="19" fill="#32cd32"/>
<rect x="624" y="363" width="3" height="13" fill="#32cd32"/>
<rect x="629" y="362" width="1" height="17" fill="#ff0000"/>
<rect x="628" y="372" width="3" height="4" fill="#ff0000"/>
<rect x="633" y="363" width="1" height="18" fill="#ff0000"/>
<rect x="632" y="365" width="3" height="15" fill="#ff0000"/>
<rect x="637" y="339" width="1" height="31" fill="#ff0000"/>
<rect x="636" y="346" width="3" height="21" fill="#ff0000"/>
<rect x="641" y="327" width="1" height="22" fill="#ff0000"/>
<rect x="640" y="331" width="3" height="17" fill="#ff0000"/>
<rect x="645" y="329" width="1" height="20" fill="#32cd32"/>
<rect x="644" y="331" width="3" height="12" fill="#32cd32"/>
<rect x="649" y="325" width="1" height="22" fill="#ff0000"/>
<rect x="648" y="332" width="3" height="11" fill="#ff0000"/>
<rect x="653" y="310" width="1" height="23" fill="#ff0000"/>
<rect x="652" y="311" width="3" height="22" fill="#ff0000"/>
<rect x="657" y="310" width="1" height="4" fill="#32cd32"/>
<rect x="656" y="311" width="3" height="2" fill="#32cd32"/>
<rect x="661" y="297" width="1" height="26" fill="#ff0000"/>
<rect x="660" y="297" width="3" height="15" fill="#ff0000"/>
<rect x="665" y="280" width="1" height="23" fill="#ff0000"/>
<rect x="664" y="288" width="3" height="11" fill="#ff0000"/>
<rect x="669" y="270" width="1" height="27" fill="#ff0000"/>
<rect x="668" y="286" width="3" height="5" fill="#ff0000"/>
<rect x="673" y="285" width="1" height="31" fill="#32cd32"/>
<rect x="672" y="286" width="3" height="22" fill="#32cd32"/>
<rect x="677" y="298" width="1" height="27" fill="#32cd32"/>
<rect x="676" y="306" width="3" height="18" fill="#32cd32"/>
<rect x="681" y="317" width="1" height="4" fill="#ff0000"/>
<rect x="680" y="317" width="3" height="4" fill="#ff0000"/>
<rect x="685" y="309" width="1" height="24" fill="#ff0000"/>
<rect x="684" y="314" width="3" height="6" fill="#ff0000"/>
<rect x="689" y="301" width="1" height="25" fill="#32cd32"/>
<rect x="688" y="314" width="3" height="4" fill="#32cd32"/>
<rect x="693" y="307" width="1" height="24" fill="#32cd32"/>
<rect x="692" y="316" width="3" height="12" fill="#32cd32"/>
<rect x="697" y="312" width="1" height="21" fill="#32cd32"/>
<rect x="696" y="326" width="3" height="6" fill="#32cd32"/>
<rect x="701" y="325" width="1" height="20" fill="#ff0000"/>
<rect x="700" y="327" width="3" height="5" fill="#ff0000"/>
<rect x="705" y="323" width="1" height="3" fill="#ff0000"/>
<rect x="704" y="324" width="3" height="2" fill="#ff0000"/>
<rect x="709" y="299" width="1" height="29" fill="#ff0000"/>
<rect x="708" y="316" width="3" height="10" fill="#ff0000"/>
<rect x="713" y="301" width="1" height="31" fill="#32cd32"/>
<rect x="712" y="315" width="3" height="11" fill="#32cd32"/>
<rect x="717" y="324" width="1" height="35" fill="#32cd32"/>
<rect x="716" y="324" width="3" height="31" fill="#32cd32"/>
<rect x="721" y="344" width="1" height="26" fill="#32cd32"/>
<rect x="720" y="354" width="3" height="2" fill="#32cd32"/>
<rect x="725" y="336" width="1" height="24" fill="#ff0000"/>
<rect x="724" y="345" width="3" height="10" fill="#ff0000"/>
<rect x="729" y="343" width="1" height="2" fill="#32cd32"/>
<rect x="728" y="343" width="3" height="2" fill="#32cd32"/>
<rect x="733" y="336" width="1" height="15" fill="#ff0000"/>
<rect x="732" y="342" width="3" height="3" fill="#ff0000"/>
<rect x="737" y="330" width="1" height="23" fill="#ff0000"/>
<rect x="736" y="331" width="3" height="12" fill="#ff0000"/>
<rect x="741" y="310" width="1" height="22" fill="#ff0000"/>
<rect x="740" y="317" width="3" height="15" fill="#ff0000"/>
<rect x="745" y="311" width="1" height="13" fill="#ff0000"/>
<rect x="744" y="312" width="3" height="6" fill="#ff0000"/>
<rect x="749" y="301" width="1" height="20" fill="#32cd32"/>
<rect x="748" y="313" width="3" height="3" fill="#32cd32"/>
<rect x="753" y="313" width="1" height="3" fill="#ff0000"/>
<rect x="752" y="313" width="3" height="3" fill="#ff0000"/>
<rect x="757" y="302" width="1" height="28" fill="#32cd32"/>
<rect x="756" y="313" width="3" height="12" fill="#32cd32"/>
<rect x="761" y="312" width="1" height="24" fill="#ff0000"/>
<rect x="760" y="319" width="3" height="6" fill="#ff0000"/>
<rect x="765" y="308" width="1" height="18" fill="#ff0000"/>
<rect x="764" y="314" width="3" height="7" fill="#ff0000"/>
<rect x="769" y="279" width="1" height="43" fill="#ff0000"/>
<rect x="768" y="281" width="3" height="34" fill="#ff0000"/>
<rect x="773" y="276" width="1" height="13" fill="#32cd32"/>
<rect x="772" y="281" width="3" height="2" fill="#32cd32"/>
<rect x="777" y="281" width="1" height="4" fill="#ff0000"/>
<rect x="776" y="282" width="3" height="3" fill="#ff0000"/>
<rect x="781" y="272" width="1" height="14" fill="#ff0000"/>
<rect x="780" y="274" width="3" height="11" fill="#ff0000"/>
<rect x="785" y="246" width="1" height="35" fill="#ff0000"/>
<rect x="784" y="246" width="3" height="30" fill="#ff0000"/>
<rect x="789" y="241" width="1" height="33" fill="#32cd32"/>
<rect x="788" y="247" width="3" height="13" fill="#32cd32"/>
<rect x="793" y="236" width="1" height="36" fill="#ff0000"/>
<rect x="792" y="241" width="3" height="19" fill="#ff0000"/>
<rect x="797" y="220" width="1" height="26" fill="#ff0000"/>
<rect x="796" y="229" width="3" height="14" fill="#ff0000"/>
<rect x="801" y="230" width="1" height="5" fill="#32cd32"/>
<rect x="800" y="231" width="3" height="4" fill="#32cd32"/>
<rect x="805" y="219" width="1" height="20" fill="#ff0000"/>
<rect x="804" y="223" width="3" height="12" fill="#ff0000"/>
<rect x="809" y="208" width="1" height="25" fill="#ff0000"/>
<rect x="808" y="209" width="3" height="16" fill="#ff0000"/>
<rect x="813" y="180" width="1" height="33" fill="#ff0000"/>
<rect x="812" y="185" width="3" height="26" fill="#ff0000"/>
<rect x="817" y="159" width="1" height="31" fill="#ff0000"/>
<rect x="816" y="174" width="3" height="12" fill="#ff0000"/>
<rect x="821" y="167" width="1" height="26" fill="#32cd32"/>
<rect x="820" y="174" width="3" height="4" fill="#32cd32"/>
<rect x="825" y="165" width="1" height="6" fill="#ff0000"/>
<rect x="824" y="165" width="3" height="5" fill="#ff0000"/>
<rect x="829" y="148" width="1" height="29" fill="#ff0000"/>
<rect x="828" y="152" width="3" height="14" fill="#ff0000"/>
<rect x="833" y="144" width="1" height="31" fill="#ff0000"/>
<rect x="832" y="148" width="3" height="7" fill="#ff0000"/>
<rect x="837" y="124" width="1" height="51" fill="#32cd32"/>
<rect x="836" y="148" width="3" height="22" fill="#32cd32"/>
<rect x="841" y="110" width="1" height="69" fill="#ff0000"/>
<rect x="840" y="124" width="3" height="46" fill="#ff0000"/>
<rect x="845" y="111" width="1" height="25" fill="#ff0000"/>
<rect x="844" y="114" width="3" height="12" fill="#ff0000"/>
<rect x="849" y="109" width="1" height="5" fill="#ff0000"/>
<rect x="848" y="109" width="3" height="4" fill="#ff0000"/>
<rect x="853" y="82" width="1" height="30" fill="#ff0000"/>
<rect x="852" y="95" width="3" height="17" fill="#ff0000"/>
<rect x="857" y="79" width="1" height="28" fill="#ff0000"/>
<rect x="856" y="85" width="3" height="12" fill="#ff0000"/>
<rect x="861" y="83" width="1" height="36" fill="#32cd32"/>
<rect x="860" y="85" width="3" height="6" fill="#32cd32"/>
<rect x="865" y="51" width="1" height="46" fill="#ff0000"/>
<rect x="864" y="57" width="3" height="34" fill="#ff0000"/>
<rect x="869" y="52" width="1" height="23" fill="#32cd32"/>
<rect x="868" y="58" width="3" height="3" fill="#32cd32"/>
<rect x="873" y="58" width="1" height="5" fill="#ff0000"/>
<rect x="872" y="61" width="3" height="2" fill="#ff0000"/>
<rect x="877" y="46" width="1" height="23" fill="#32cd32"/>
<rect x="876" y="61" width="3" height="3" fill="#32cd32"/>
<rect x="881" y="61" width="1" height="41" fill="#32cd32"/>
<rect x="880" y="63" width="3" height="32" fill="#32cd32"/>
<rect x="885" y="75" width="1" height="48" fill="#32cd32"/>
<rect x="884" y="93" width="3" height="26" fill="#32cd32"/>
<rect x="889" y="116" width="1" height="68" fill="#32cd32"/>
<rect x="888" y="116" width="3" height="58" fill="#32cd32"/>
<rect x="893" y="157" width="1" height="28" fill="#ff0000"/>
<rect x="892" y="159" width="3" height="15" fill="#ff0000"/>
<rect x="897" y="162" width="1" height="4" fill="#ff0000"/>
<rect x="896" y="163" width="3" height="3" fill="#ff0000"/>
<rect x="901" y="162" width="1" height="48" fill="#32cd32"/>
<rect x="900" y="163" width="3" height="35" fill="#32cd32"/>
<rect x="905" y="192" width="1" height="37" fill="#32cd32"/>
<rect x="904" y="197" width="3" height="21" fill="#32cd32"/>
<rect x="909" y="202" width="1" height="18" fill="#ff0000"/>
<rect x="908" y="212" width="3" height="7" fill="#ff0000"/>
<rect x="913" y="206" width="1" height="20" fill="#32cd32"/>
<rect x="912" y="212" width="3" height="13" fill="#32cd32"/>
<rect x="917" y="217" width="1" height="23" fill="#32cd32"/>
<rect x="916" y="223" width="3" height="5" fill="#32cd32"/>
<rect x="921" y="224" width="1" height="4" fill="#ff0000"/>
<rect x="920" y="225" width="3" height="3" fill="#ff0000"/>
<rect x="925" y="215" width="1" height="22" fill="#ff0000"/>
<rect x="924" y="225" width="3" height="2" fill="#ff0000"/>
</g>
<!-- horizontal lines -->
<rect x="5" y="68" width="1162" height="2" fill="#ff0000"/>
<rect x="5" y="116" width="1162" height="2" fill="#ff0000"/>
<rect x="5" y="167" width="1162" height="2" fill="#00ff00"/>
<rect x="5" y="216" width="1162" height="2" fill="#0000ff"/>
<rect x="5" y="261" width="1162" height="2" fill="#0000ff"/>
<!-- price label boxes -->
<rect x="1169" y="63" width="39" height="11" fill="#ff0000"/>
<rect x="1169" y="111" width="39" height="11" fill="#ff0000"/>
<rect x="1169" y="162" width="39" height="11" fill="#00ff00"/>
<rect x="1169" y="220" width="39" height="11" fill="#000"/>
<rect x="1169" y="211" width="39" height="11" fill="#0000ff"/>
<rect x="1169" y="256" width="39" height="11" fill="#0000ff"/>
<g>
<rect x="5" y="475" width="2" height="1" fill="#c0c0c0"/>
<rect x="8" y="475" width="3" height="1" fill="#c0c0c0"/>
<rect x="12" y="475" width="3" height="1" fill="#c0c0c0"/>
<rect x="16" y="475" width="3" height="1" fill="#c0c0c0"/>
<rect x="20" y="473" width="3" height="2" fill="#c0c0c0"/>
<rect x="24" y="473" width="3" height="2" fill="#c0c0c0"/>
<rect x="28" y="473" width="3" height="2" fill="#c0c0c0"/>
<rect x="32" y="473" width="3" height="2" fill="#c0c0c0"/>
<rect x="36" y="472" width="3" height="3" fill="#c0c0c0"/>
<rect x="40" y="471" width="3" height="4" fill="#c0c0c0"/>
<rect x="44" y="471" width="3" height="4" fill="#c0c0c0"/>
<rect x="48" y="469" width="3" height="6" fill="#c0c0c0"/>
<rect x="52" y="466" width="3" height="9" fill="#c0c0c0"/>
<rect x="56" y="464" width="3" height="11" fill="#c0c0c0"/>
<rect x="60" y="463" width="3" height="12" fill="#c0c0c0"/>
<rect x="64" y="464" width="3" height="11" fill="#c0c0c0"/>
<rect x="68" y="464" width="3" height="11" fill="#c0c0c0"/>
<rect x="72" y="465" width="3" height="10" fill="#c0c0c0"/>
<rect x="76" y="466" width="3" height="9" fill="#c0c0c0"/>
<rect x="80" y="466" width="3" height="9" fill="#c0c0c0"/>
<rect x="84" y="467" width="3" height="8" fill="#c0c0c0"/>
<rect x="88" y="466" width="3" height="9" fill="#c0c0c0"/>
<rect x="92" y="464" width="3" height="11" fill="#c0c0c0"/>
<rect x="96" y="463" width="3" height="12" fill="#c0c0c0"/>
<rect x="100" y="463" width="3" height="12" fill="#c0c0c0"/>
<rect x="104" y="464" width="3" height="11" fill="#c0c0c0"/>
<rect x="108" y="466" width="3" height="9" fill="#c0c0c0"/>
<rect x="112" y="466" width="3" height="9" fill="#c0c0c0"/>
<rect x="116" y="467" width="3" height="8" fill="#c0c0c0"/>
<rect x="120" y="467" width="3" height="8" fill="#c0c0c0"/>
<rect x="124" y="468" width="3" height="7" fill="#c0c0c0"/>
<rect x="128" y="468" width="3" height="7" fill="#c0c0c0"/>
<rect x="132" y="469" width="3" height="6" fill="#c0c0c0"/>
<rect x="136" y="468" width="3" height="7" fill="#c0c0c0"/>
<rect x="140" y="470" width="3" height="5" fill="#c0c0c0"/>
<rect x="144" y="471" width="3" height="4" fill="#c0c0c0"/>
<rect x="148" y="473" width="3" height="2" fill="#c0c0c0"/>
<rect x="152" y="474" width="3" height="1" fill="#c0c0c0"/>
<rect x="156" y="474" width="3" height="1" fill="#c0c0c0"/>
<rect x="160" y="475" width="3" height="1" fill="#c0c0c0"/>
<rect x="164" y="475" width="3" height="2" fill="#c0c0c0"/>
<rect x="168" y="475" width="3" height="4" fill="#c0c0c0"/>
<rect x="172" y="475" width="3" height="5" fill="#c0c0c0"/>
<rect x="176" y="475" width="3" height="6" fill="#c0c0c0"/>
<rect x="180" y="475" width="3" height="6" fill="#c0c0c0"/>
<rect x="184" y="475" width="3" height="6" fill="#c0c0c0"/>
<rect x="188" y="475" width="3" height="7" fill="#c0c0c0"/>
<rect x="192" y="475" width="3" height="9" fill="#c0c0c0"/>
<rect x="196" y="475" width="3" height="9" fill="#c0c0c0"/>
<rect x="200" y="475" width="3" height="9" fill="#c0c0c0"/>
<rect x="204" y="475" width="3" height="11" fill="#c0c0c0"/>
<rect x="208" y="475" width="3" height="10" fill="#c0c0c0"/>
<rect x="212" y="475" width="3" height="11" fill="#c0c0c0"/>
<rect x="216" y="475" width="3" height="11" fill="#c0c0c0"/>
<rect x="220" y="475" width="3" height="11" fill="#c0c0c0"/>
<rect x="224" y="475" width="3" height="11" fill="#c0c0c0"/>
<rect x="228" y="475" width="3" height="10" fill="#c0c0c0"/>
<rect x="232" y="475" width="3" height="11" fill="#c0c0c0"/>
<rect x="236" y="475" width="3" height="8" fill="#c0c0c0"/>
<rect x="240" y="475" width="3" height="6" fill="#c0c0c0"/>
<rect x="244" y="475" width="3" height="4" fill="#c0c0c0"/>
<rect x="248" y="475" width="3" height="2" fill="#c0c0c0"/>
<rect x="252" y="475" width="3" height="1" fill="#c0c0c0"/>
<rect x="256" y="471" width="3" height="4" fill="#c0c0c0"/>
<rect x="260" y="469" width="3" height="6" fill="#c0c0c0"/>
<rect x="264" y="468" width="3" height="7" fill="#c0c0c0"/>
<rect x="268" y="467" width="3" height="8" fill="#c0c0c0"/>
<rect x="272" y="466" width="3" height="9" fill="#c0c0c0"/>
<rect x="276" y="464" width="3" height="11" fill="#c0c0c0"/>
<rect x="280" y="462" width="3" height="13" fill="#c0c0c0"/>
<rect x="284" y="461" width="3" height="14" fill="#c0c0c0"/>
<rect x="288" y="460" width="3" height="15" fill="#c0c0c0"/>
<rect x="292" y="463" width="3" height="12" fill="#c0c0c0"/>
<rect x="296" y="465" width="3" height="10" fill="#c0c0c0"/>
<rect x="300" y="467" width="3" height="8" fill="#c0c0c0"/>
<rect x="304" y="470" width="3" height="5" fill="#c0c0c0"/>
<rect x="308" y="471" width="3" height="4" fill="#c0c0c0"/>
<rect x="312" y="473" width="3" height="2" fill="#c0c0c0"/>
<rect x="316" y="475" width="3" height="1" fill="#c0c0c0"/>
<rect x="320" y="475" width="3" height="1" fill="#c0c0c0"/>
<rect x="324" y="475" width="3" height="1" fill="#c0c0c0"/>
<rect x="328" y="475" width="3" height="1" fill="#c0c0c0"/>
<rect x="332" y="475" width="3" height="1" fill="#c0c0c0"/>
<rect x="336" y="475" width="3" height="1" fill="#c0c0c0"/>
<rect x="340" y="475" width="3" height="1" fill="#c0c0c0"/>
<rect x="344" y="475" width="3" height="1" fill="#c0c0c0"/>
<rect x="348" y="475" width="3" height="1" fill="#c0c0c0"/>
<rect x="352" y="475" width="3" height="1" fill="#c0c0c0"/>
<rect x="356" y="475" width="3" height="1" fill="#c0c0c0"/>
<rect x="360" y="475" width="3" height="1" fill="#c0c0c0"/>
<rect x="364" y="475" width="3" height="1" fill="#c0c0c0"/>
<rect x="368" y="475" width="3" height="1" fill="#c0c0c0"/>
<rect x="372" y="475" width="3" height="1" fill="#c0c0c0"/>
<rect x="376" y="475" width="3" height="1" fill="#c0c0c0"/>
<rect x="380" y="475" width="3" height="1" fill="#c0c0c0"/>
<rect x="384" y="475" width="3" height="2" fill="#c0c0c0"/>
<rect x="388" y="475" width="3" height="3" fill="#c0c0c0"/>
<rect x="392" y="475" width="3" height="3" fill="#c0c0c0"/>
<rect x="396" y="475" width="3" height="4" fill="#c0c0c0"/>
<rect x="400" y="475" width="3" height="4" fill="#c0c0c0"/>
<rect x="404" y="475" width="3" height="6" fill="#c0c0c0"/>
<rect x="408" y="475" width="3" height="7" fill="#c0c0c0"/>
<rect x="412" y="475" width="3" height="8" fill="#c0c0c0"/>
<rect x="416" y="475" width="3" height="9" fill="#c0c0c0"/>
<rect x="420" y="475" width="3" height="7" fill="#c0c0c0"/>
<rect x="424" y="475" width="3" height="7" fill="#c0c0c0"/>
<rect x="428" y="475" width="3" height="6" fill="#c0c0c0"/>
<rect x="432" y="475" width="3" height="4" fill="#c0c0c0"/>
<rect x="436" y="475" width="3" height="4" fill="#c0c0c0"/>
<rect x="440" y="475" width="3" height="3" fill="#c0c0c0"/>
<rect x="444" y="475" width="3" height="1" fill="#c0c0c0"/>
<rect x="448" y="474" width="3" height="1" fill="#c0c0c0"/>
<rect x="452" y="475" width="3" height="1" fill="#c0c0c0"/>
<rect x="456" y="475" width="3" height="3" fill="#c0c0c0"/>
<rect x="460" y="475" width="3" height="4" fill="#c0c0c0"/>
<rect x="464" y="475" width="3" height="4" fill="#c0c0c0"/>
<rect x="468" y="475" width="3" height="4" fill="#c0c0c0"/>
<rect x="472" y="475" width="3" height="4" fill="#c0c0c0"/>
<rect x="476" y="475" width="3" height="4" fill="#c0c0c0"/>
<rect x="480" y="475" width="3" height="3" fill="#c0c0c0"/>
<rect x="484" y="475" width="3" height="4" fill="#c0c0c0"/>
<rect x="488" y="475" width="3" height="5" fill="#c0c0c0"/>
<rect x="492" y="475" width="3" height="5" fill="#c0c0c0"/>
<rect x="496" y="475" width="3" height="4" fill="#c0c0c0"/>
<rect x="500" y="475" width="3" height="1" fill="#c0c0c0"/>
<rect x="504" y="472" width="3" height="3" fill="#c0c0c0"/>
<rect x="508" y="469" width="3" height="6" fill="#c0c0c0"/>
<rect x="512" y="466" width="3" height="9" fill="#c0c0c0"/>
<rect x="516" y="466" width="3" height="9" fill="#c0c0c0"/>
<rect x="520" y="467" width="3" height="8" fill="#c0c0c0"/>
<rect x="524" y="469" width="3" height="6" fill="#c0c0c0"/>
<rect x="528" y="469" width="3" height="6" fill="#c0c0c0"/>
<rect x="532" y="469" width="3" height="6" fill="#c0c0c0"/>
<rect x="536" y="469" width="3" height="6" fill="#c0c0c0"/>
<rect x="540" y="469" width="3" height="6" fill="#c0c0c0"/>
<rect x="544" y="469" width="3" height="6" fill="#c0c0c0"/>
<rect x="548" y="469" width="3" height="6" fill="#c0c0c0"/>
<rect x="552" y="469" width="3" height="6" fill="#c0c0c0"/>
<rect x="556" y="469" width="3" height="6" fill="#c0c0c0"/>
<rect x="560" y="469" width="3" height="6" fill="#c0c0c0"/>
<rect x="564" y="469" width="3" height="6" fill="#c0c0c0"/>
<rect x="568" y="469" width="3" height="6" fill="#c0c0c0"/>
<rect x="572" y="470" width="3" height="5" fill="#c0c0c0"/>
<rect x="576" y="472" width="3" height="3" fill="#c0c0c0"/>
<rect x="580" y="473" width="3" height="2" fill="#c0c0c0"/>
<rect x="584" y="473" width="3" height="2" fill="#c0c0c0"/>
<rect x="588" y="475" width="3" height="1" fill="#c0c0c0"/>
<rect x="592" y="475" width="3" height="1" fill="#c0c0c0"/>
<rect x="596" y="475" width="3" height="2" fill="#c0c0c0"/>
<rect x="600" y="475" width="3" height="1" fill="#c0c0c0"/>
<rect x="604" y="474" width="3" height="1" fill="#c0c0c0"/>
<rect x="608" y="472" width="3" height="3" fill="#c0c0c0"/>
<rect x="612" y="474" width="3" height="1" fill="#c0c0c0"/>
<rect x="616" y="475" width="3" height="1" fill="#c0c0c0"/>
<rect x="620" y="475" width="3" height="1" fill="#c0c0c0"/>
<rect x="624" y="475" width="3" height="2" fill="#c0c0c0"/>
<rect x="628" y="475" width="3" height="2" fill="#c0c0c0"/>
<rect x="632" y="475" width="3" height="2" fill="#c0c0c0"/>
<rect x="636" y="475" width="3" height="1" fill="#c0c0c0"/>
<rect x="640" y="473" width="3" height="2" fill="#c0c0c0"/>
<rect x="644" y="472" width="3" height="3" fill="#c0c0c0"/>
<rect x="648" y="471" width="3" height="4" fill="#c0c0c0"/>
<rect x="652" y="468" width="3" height="7" fill="#c0c0c0"/>
<rect x="656" y="466" width="3" height="9" fill="#c0c0c0"/>
<rect x="660" y="463" width="3" height="12" fill="#c0c0c0"/>
<rect x="664" y="461" width="3" height="14" fill="#c0c0c0"/>
<rect x="668" y="459" width="3" height="16" fill="#c0c0c0"/>
<rect x="672" y="459" width="3" height="16" fill="#c0c0c0"/>
<rect x="676" y="460" width="3" height="15" fill="#c0c0c0"/>
<rect x="680" y="461" width="3" height="14" fill="#c0c0c0"/>
<rect x="684" y="462" width="3" height="13" fill="#c0c0c0"/>
<rect x="688" y="463" width="3" height="12" fill="#c0c0c0"/>
<rect x="692" y="464" width="3" height="11" fill="#c0c0c0"/>
<rect x="696" y="466" width="3" height="9" fill="#c0c0c0"/>
<rect x="700" y="467" width="3" height="8" fill="#c0c0c0"/>
<rect x="704" y="468" width="3" height="7" fill="#c0c0c0"/>
<rect x="708" y="468" width="3" height="7" fill="#c0c0c0"/>
<rect x="712" y="469" width="3" height="6" fill="#c0c0c0"/>
<rect x="716" y="472" width="3" height="3" fill="#c0c0c0"/>
<rect x="720" y="474" width="3" height="1" fill="#c0c0c0"/>
<rect x="724" y="475" width="3" height="1" fill="#c0c0c0"/>
<rect x="728" y="475" width="3" height="1" fill="#c0c0c0"/>
<rect x="732" y="475" width="3" height="1" fill="#c0c0c0"/>
<rect x="736" y="475" width="3" height="1" fill="#c0c0c0"/>
<rect x="740" y="474" width="3" height="1" fill="#c0c0c0"/>
<rect x="744" y="473" width="3" height="2" fill="#c0c0c0"/>
<rect x="748" y="472" width="3" height="3" fill="#c0c0c0"/>
<rect x="752" y="471" width="3" height="4" fill="#c0c0c0"/>
<rect x="756" y="471" width="3" height="4" fill="#c0c0c0"/>
<rect x="760" y="471" width="3" height="4" fill="#c0c0c0"/>
<rect x="764" y="470" width="3" height="5" fill="#c0c0c0"/>
<rect x="768" y="468" width="3" height="7" fill="#c0c0c0"/>
<rect x="772" y="466" width="3" height="9" fill="#c0c0c0"/>
<rect x="776" y="464" width="3" height="11" fill="#c0c0c0"/>
<rect x="780" y="462" width="3" height="13" fill="#c0c0c0"/>
<rect x="784" y="459" width="3" height="16" fill="#c0c0c0"/>
<rect x="788" y="458" width="3" height="17" fill="#c0c0c0"/>
<rect x="792" y="455" width="3" height="20" fill="#c0c0c0"/>
<rect x="796" y="453" width="3" height="22" fill="#c0c0c0"/>
<rect x="800" y="452" width="3" height="23" fill="#c0c0c0"/>
<rect x="804" y="450" width="3" height="25" fill="#c0c0c0"/>
<rect x="808" y="448" width="3" height="27" fill="#c0c0c0"/>
<rect x="812" y="445" width="3" height="30" fill="#c0c0c0"/>
<rect x="816" y="442" width="3" height="33" fill="#c0c0c0"/>
<rect x="820" y="440" width="3" height="35" fill="#c0c0c0"/>
<rect x="824" y="438" width="3" height="37" fill="#c0c0c0"/>
<rect x="828" y="436" width="3" height="39" fill="#c0c0c0"/>
<rect x="832" y="435" width="3" height="40" fill="#c0c0c0"/>
<rect x="836" y="436" width="3" height="39" fill="#c0c0c0"/>
<rect x="840" y="433" width="3" height="42" fill="#c0c0c0"/>
<rect x="844" y="431" width="3" height="44" fill="#c0c0c0"/>
<rect x="848" y="430" width="3" height="45" fill="#c0c0c0"/>
<rect x="852" y="428" width="3" height="47" fill="#c0c0c0"/>
<rect x="856" y="427" width="3" height="48" fill="#c0c0c0"/>
<rect x="860" y="426" width="3" height="49" fill="#c0c0c0"/>
<rect x="864" y="424" width="3" height="51" fill="#c0c0c0"/>
<rect x="868" y="423" width="3" height="52" fill="#c0c0c0"/>
<rect x="872" y="423" width="3" height="52" fill="#c0c0c0"/>
<rect x="876" y="424" width="3" height="51" fill="#c0c0c0"/>
<rect x="880" y="427" width="3" height="48" fill="#c0c0c0"/>
<rect x="884" y="432" width="3" height="43" fill="#c0c0c0"/>
<rect x="888" y="441" width="3" height="34" fill="#c0c0c0"/>
<rect x="892" y="447" width="3" height="28" fill="#c0c0c0"/>
<rect x="896" y="452" width="3" height="23" fill="#c0c0c0"/>
<rect x="900" y="460" width="3" height="15" fill="#c0c0c0"/>
<rect x="904" y="467" width="3" height="8" fill="#c0c0c0"/>
<rect x="908" y="472" width="3" height="3" fill="#c0c0c0"/>
<rect x="912" y="475" width="3" height="2" fill="#c0c0c0"/>
<rect x="916" y="475" width="3" height="7" fill="#c0c0c0"/>
<rect x="920" y="475" width="3" height="10" fill="#c0c0c0"/>
<rect x="924" y="475" width="3" height="12" fill="#c0c0c0"/>
<g fill="#ff0000"><rect x="5" y="475" width="1" height="1"/><rect x="6" y="475" width="1" height="1"/><rect x="7" y="476" width="1" height="1"/><rect x="8" y="476" width="1" height="1"/><rect x="9" y="476" width="1" height="1"/><rect x="10" y="476" width="1" height="1"/><rect x="11" y="476" width="1" height="1"/><rect x="12" y="476" width="1" height="1"/><rect x="13" y="476" width="1" height="1"/><rect x="14" y="476" width="1" height="1"/><rect x="15" y="475" width="1" height="1"/><rect x="16" y="475" width="1" height="1"/><rect x="17" y="475" width="1" height="1"/><rect x="18" y="475" width="1" height="1"/><rect x="19" y="475" width="1" height="1"/><rect x="20" y="475" width="1" height="1"/><rect x="21" y="475" width="1" height="1"/><rect x="22" y="475" width="1" height="1"/><rect x="23" y="475" width="1" height="1"/><rect x="24" y="475" width="1" height="1"/><rect x="25" y="475" width="1" height="1"/><rect x="26" y="475" width="1" height="1"/><rect x="27" y="475" width="1" height="1"/><rect x="28" y="475" width="1" height="1"/><rect x="29" y="475" width="1" height="1"/><rect x="30" y="475" width="1" height="1"/><rect x="31" y="474" width="1" height="1"/><rect x="32" y="474" width="1" height="1"/><rect x="33" y="474" width="1" height="1"/><rect x="34" y="474" width="1" height="1"/><rect x="35" y="474" width="1" height="1"/><rect x="36" y="474" width="1" height="1"/><rect x="37" y="474" width="1" height="1"/><rect x="38" y="474" width="1" height="1"/><rect x="39" y="474" width="1" height="1"/><rect x="40" y="474" width="1" height="1"/><rect x="41" y="474" width="1" height="1"/><rect x="42" y="474" width="1" height="1"/><rect x="43" y="473" width="1" height="1"/><rect x="44" y="473" width="1" height="1"/><rect x="45" y="473" width="1" height="1"/><rect x="46" y="473" width="1" height="1"/><rect x="47" y="472" width="1" height="1"/><rect x="48" y="472" width="1" height="1"/><rect x="49" y="472" width="1" height="1"/><rect x="50" y="472" width="1" height="1"/><rect x="51" y="471" width="1" height="1"/><rect x="52" y="471" width="1" height="1"/><rect x="53" y="471" width="1" height="1"/><rect x="54" y="471" width="1" height="1"/><rect x="55" y="470" width="1" height="1"/><rect x="56" y="470" width="1" height="1"/><rect x="57" y="470" width="1" height="1"/><rect x="58" y="470" width="1" height="1"/><rect x="59" y="469" width="1" height="1"/><rect x="60" y="469" width="1" height="1"/><rect x="61" y="469" width="1" height="1"/><rect x="62" y="469" width="1" height="1"/><rect x="63" y="468" width="1" height="1"/><rect x="64" y="468" width="1" height="1"/><rect x="65" y="468" width="1" height="1"/><rect x="66" y="468" width="1" height="1"/><rect x="67" y="467" width="1" height="1"/><rect x="68" y="467" width="1" height="1"/><rect x="69" y="467" width="1" height="1"/><rect x="70" y="467" width="1" height="1"/><rect x="71" y="466" width="1" height="1"/><rect x="72" y="466" width="1" height="1"/><rect x="73" y="466" width="1" height="1"/><rect x="74" y="466" width="1" height="1"/><rect x="75" y="466" width="1" height="1"/><rect x="76" y="466" width="1" height="1"/><rect x="77" y="466" width="1" height="1"/><rect x="78" y="466" width="1" height="1"/><rect x="79" y="465" width="1" height="1"/><rect x="80" y="465" width="1" height="1"/><rect x="81" y="465" width="1" height="1"/><rect x="82" y="465" width="1" height="1"/><rect x="83" y="465" width="1" height="1"/><rect x="84" y="465" width="1" height="1"/><rect x="85" y="465" width="1" height="1"/><rect x="86" y="465" width="1" height="1"/><rect x="87" y="465" width="1" height="1"/><rect x="88" y="465" width="1" height="1"/><rect x="89" y="465" width="1" height="1"/><rect x="90" y="465" width="1" height="1"/><rect x="91" y="465" width="1" height="1"/><rect x="92" y="465" width="1" height="1"/><rect x="93" y="465" width="1" height="1"/><rect x="94" y="465" width="1" height="1"/><rect x="95" y="465" width="1" height="1"/><rect x="96" y="465" width="1" height="1"/><rect x="97" y="465" width="1" height="1"/><rect x="98" y="465" width="1" height="1"/><rect x="99" y="465" width="1" height="1"/><rect x="100" y="465" width="1" height="1"/><rect x="101" y="465" width="1" height="1"/><rect x="102" y="465" width="1" height="1"/><rect x="103" y="465" width="1" height="1"/><rect x="104" y="465" width="1" height="1"/><rect x="105" y="465" width="1" height="1"/><rect x="106" y="465" width="1" height="1"/><rect x="107" y="465" width="1" height="1"/><rect x="108" y="465" width="1" height="1"/><rect x="109" y="465" width="1" height="1"/><rect x="110" y="465" width="1" height="1"/><rect x="111" y="465" width="1" height="1"/><rect x="112" y="465" width="1" height="1"/><rect x="113" y="465" width="1" height="1"/><rect x="114" y="465" width="1" height="1"/><rect x="115" y="465" width="1" height="1"/><rect x="116" y="465" width="1" height="1"/><rect x="117" y="465" width="1" height="1"/><rect x="118" y="465" width="1" height="1"/><rect x="119" y="465" width="1" height="1"/><rect x="120" y="465" width="1" height="1"/><rect x="121" y="465" width="1" height="1"/><rect x="122" y="465" width="1" height="1"/><rect x="123" y="465" width="1" height="1"/><rect x="124" y="465" width="1" height="1"/><rect x="125" y="465" width="1" height="1"/><rect x="126" y="465" width="1" height="1"/><rect x="127" y="466" width="1" height="1"/><rect x="128" y="466" width="1" height="1"/><rect x="129" y="466" width="1" height="1"/><rect x="130" y="466" width="1" height="1"/><rect x="131" y="466" width="1" height="1"/><rect x="132" y="466" width="1" height="1"/><rect x="133" y="466" width="1" height="1"/><rect x="134" y="466" width="1" height="1"/><rect x="135" y="467" width="1" height="1"/><rect x="136" y="467" width="1" height="1"/><rect x="137" y="467" width="1" height="1"/><rect x="138" y="467" width="1" height="1"/><rect x="139" y="468" width="1" height="1"/><rect x="140" y="468" width="1" height="1"/><rect x="141" y="468" width="1" height="1"/><rect x="142" y="468" width="1" height="1"/><rect x="143" y="468" width="1" height="1"/><rect x="144" y="468" width="1" height="1"/><rect x="145" y="468" width="1" height="1"/><rect x="146" y="468" width="1" height="1"/><rect x="147" y="469" width="1" height="1"/><rect x="148" y="469" width="1" height="1"/><rect x="149" y="469" width="1" height="1"/><rect x="150" y="469" width="1" height="1"/><rect x="151" y="470" width="1" height="1"/><rect x="152" y="470" width="1" height="1"/><rect x="153" y="470" width="1" height="1"/><rect x="154" y="470" width="1" height="1"/><rect x="155" y="471" width="1" height="1"/><rect x="156" y="471" width="1" height="1"/><rect x="157" y="471" width="1" height="1"/><rect x="158" y="471" width="1" height="1"/><rect x="159" y="471" width="1" height="1"/><rect x="160" y="471" width="1" height="1"/><rect x="161" y="471" width="1" height="1"/><rect x="162" y="471" width="1" height="1"/><rect x="163" y="472" width="1" height="1"/><rect x="164" y="472" width="1" height="1"/><rect x="165" y="472" width="1" height="1"/><rect x="166" y="473" width="1" height="1"/><rect x="167" y="473" width="1" height="1"/><rect x="168" y="474" width="1" height="1"/><rect x="169" y="474" width="1" height="1"/><rect x="170" y="474" width="1" height="1"/><rect x="171" y="475" width="1" height="1"/><rect x="172" y="475" width="1" height="1"/><rect x="173" y="475" width="1" height="1"/><rect x="174" y="475" width="1" height="1"/><rect x="175" y="476" width="1" height="1"/><rect x="176" y="476" width="1" height="1"/><rect x="177" y="476" width="1" height="1"/><rect x="178" y="476" width="1" height="1"/><rect x="179" y="477" width="1" height="1"/><rect x="180" y="477" width="1" height="1"/><rect x="181" y="477" width="1" height="1"/><rect x="182" y="477" width="1" height="1"/><rect x="183" y="478" width="1" height="1"/><rect x="184" y="478" width="1" height="1"/><rect x="185" y="478" width="1" height="1"/><rect x="186" y="478" width="1" height="1"/><rect x="187" y="479" width="1" height="1"/><rect x="188" y="479" width="1" height="1"/><rect x="189" y="479" width="1" height="1"/><rect x="190" y="479" width="1" height="1"/><rect x="191" y="480" width="1" height="1"/><rect x="192" y="480" width="1" height="1"/><rect x="193" y="480" width="1" height="1"/><rect x="194" y="480" width="1" height="1"/><rect x="195" y="481" width="1" height="1"/><rect x="196" y="481" width="1" height="1"/><rect x="197" y="481" width="1" height="1"/><rect x="198" y="481" width="1" height="1"/><rect x="199" y="482" width="1" height="1"/><rect x="200" y="482" width="1" height="1"/><rect x="201" y="482" width="1" height="1"/><rect x="202" y="482" width="1" height="1"/><rect x="203" y="483" width="1" height="1"/><rect x="204" y="483" width="1" height="1"/><rect x="205" y="483" width="1" height="1"/><rect x="206" y="483" width="1" height="1"/><rect x="207" y="483" width="1" height="1"/><rect x="208" y="483" width="1" height="1"/><rect x="209" y="483" width="1" height="1"/><rect x="210" y="483" width="1" height="1"/><rect x="211" y="484" width="1" height="1"/><rect x="212" y="484" width="1" height="1"/><rect x="213" y="484" width="1" height="1"/><rect x="214" y="484" width="1" height="1"/><rect x="215" y="484" width="1" height="1"/><rect x="216" y="484" width="1" height="1"/><rect x="217" y="484" width="1" height="1"/><rect x="218" y="484" width="1" height="1"/><rect x="219" y="485" width="1" height="1"/><rect x="220" y="485" width="1" height="1"/><rect x="221" y="485" width="1" height="1"/><rect x="222" y="485" width="1" height="1"/><rect x="223" y="485" width="1" height="1"/><rect x="224" y="485" width="1" height="1"/><rect x="225" y="485" width="1" height="1"/><rect x="226" y="485" width="1" height="1"/><rect x="227" y="485" width="1" height="1"/><rect x="228" y="485" width="1" height="1"/><rect x="229" y="485" width="1" height="1"/><rect x="230" y="485" width="1" height="1"/><rect x="231" y="486" width="1" height="1"/><rect x="232" y="486" width="1" height="1"/><rect x="233" y="486" width="1" height="1"/><rect x="234" y="486" width="1" height="1"/><rect x="235" y="486" width="1" height="1"/><rect x="236" y="486" width="1" height="1"/><rect x="237" y="486" width="1" height="1"/><rect x="238" y="486" width="1" height="1"/><rect x="239" y="485" width="1" height="1"/><rect x="240" y="485" width="1" height="1"/><rect x="241" y="485" width="1" height="1"/><rect x="242" y="485" width="1" height="1"/><rect x="243" y="484" width="1" height="1"/><rect x="244" y="484" width="1" height="1"/><rect x="245" y="484" width="1" height="1"/><rect x="246" y="484" width="1" height="1"/><rect x="247" y="483" width="1" height="1"/><rect x="248" y="483" width="1" height="1"/><rect x="249" y="483" width="1" height="1"/><rect x="250" y="483" width="1" height="1"/><rect x="251" y="482" width="1" height="1"/><rect x="252" y="482" width="1" height="1"/><rect x="253" y="482" width="1" height="1"/><rect x="254" y="481" width="1" height="1"/><rect x="255" y="481" width="1" height="1"/><rect x="256" y="480" width="1" height="1"/><rect x="257" y="480" width="1" height="1"/><rect x="258" y="479" width="1" height="1"/><rect x="259" y="479" width="1" height="1"/><rect x="260" y="478" width="1" height="1"/><rect x="261" y="478" width="1" height="1"/><rect x="262" y="478" width="1" height="1"/><rect x="263" y="477" width="1" height="1"/><rect x="264" y="477" width="1" height="1"/><rect x="265" y="477" width="1" height="1"/><rect x="266" y="476" width="1" height="1"/><rect x="267" y="476" width="1" height="1"/><rect x="268" y="475" width="1" height="1"/><rect x="269" y="475" width="1" height="1"/><rect x="270" y="474" width="1" height="1"/><rect x="271" y="474" width="1" height="1"/><rect x="272" y="473" width="1" height="1"/><rect x="273" y="473" width="1" height="1"/><rect x="274" y="472" width="1" height="1"/><rect x="275" y="472" width="1" height="1"/><rect x="276" y="471" width="1" height="1"/><rect x="277" y="471" width="1" height="1"/><rect x="278" y="470" width="1" height="1"/><rect x="279" y="470" width="1" height="1"/><rect x="280" y="469" width="1" height="1"/><rect x="281" y="469" width="1" height="1"/><rect x="282" y="468" width="1" height="1"/><rect x="283" y="468" width="1" height="1"/><rect x="284" y="467" width="1" height="1"/><rect x="285" y="467" width="1" height="1"/><rect x="286" y="466" width="1" height="1"/><rect x="287" y="466" width="1" height="1"/><rect x="288" y="465" width="1" height="1"/><rect x="289" y="465" width="1" height="1"/><rect x="290" y="465" width="1" height="1"/><rect x="291" y="465" width="1" height="1"/><rect x="292" y="465" width="1" height="1"/><rect x="293" y="465" width="1" height="1"/><rect x="294" y="465" width="1" height="1"/><rect x="295" y="464" width="1" height="1"/><rect x="296" y="464" width="1" height="1"/><rect x="297" y="464" width="1" height="1"/><rect x="298" y="464" width="1" height="1"/><rect x="299" y="464" width="1" height="1"/><rect x="300" y="464" width="1" height="1"/><rect x="301" y="464" width="1" height="1"/><rect x="302" y="464" width="1" height="1"/><rect x="303" y="464" width="1" height="1"/><rect x="304" y="464" width="1" height="1"/><rect x="305" y="464" width="1" height="1"/><rect x="306" y="464" width="1" height="1"/><rect x="307" y="465" width="1" height="1"/><rect x="308" y="465" width="1" height="1"/><rect x="309" y="465" width="1" height="1"/><rect x="310" y="465" width="1" height="1"/><rect x="311" y="466" width="1" height="1"/><rect x="312" y="466" width="1" height="1"/><rect x="313" y="466" width="1" height="1"/><rect x="314" y="466" width="1" height="1"/><rect x="315" y="467" width="1" height="1"/><rect x="316" y="467" width="1" height="1"/><rect x="317" y="467" width="1" height="1"/><rect x="318" y="468" width="1" height="1"/><rect x="319" y="468" width="1" height="1"/><rect x="320" y="469" width="1" height="1"/><rect x="321" y="469" width="1" height="1"/><rect x="322" y="470" width="1" height="1"/><rect x="323" y="470" width="1" height="1"/><rect x="324" y="471" width="1" height="1"/><rect x="325" y="471" width="1" height="1"/><rect x="326" y="471" width="1" height="1"/><rect x="327" y="472" width="1" height="1"/><rect x="328" y="472" width="1" height="1"/><rect x="329" y="472" width="1" height="1"/><rect x="330" y="472" width="1" height="1"/><rect x="331" y="473" width="1" height="1"/><rect x="332" y="473" width="1" height="1"/><rect x="333" y="473" width="1" height="1"/><rect x="334" y="473" width="1" height="1"/><rect x="335" y="474" width="1" height="1"/><rect x="336" y="474" width="1" height="1"/><rect x="337" y="474" width="1" height="1"/><rect x="338" y="474" width="1" height="1"/><rect x="339" y="475" width="1" height="1"/><rect x="340" y="475" width="1" height="1"/><rect x="341" y="475" width="1" height="1"/><rect x="342" y="475" width="1" height="1"/><rect x="343" y="475" width="1" height="1"/><rect x="344" y="475" width="1" height="1"/><rect x="345" y="475" width="1" height="1"/><rect x="346" y="475" width="1" height="1"/><rect x="347" y="476" width="1" height="1"/><rect x="348" y="476" width="1" height="1"/><rect x="349" y="476" width="1" height="1"/><rect x="350" y="476" width="1" height="1"/><rect x="351" y="476" width="1" height="1"/><rect x="352" y="476" width="1" height="1"/><rect x="353" y="476" width="1" height="1"/><rect x="354" y="476" width="1" height="1"/><rect x="355" y="475" width="1" height="1"/><rect x="356" y="475" width="1" height="1"/><rect x="357" y="475" width="1" height="1"/><rect x="358" y="475" width="1" height="1"/><rect x="359" y="475" width="1" height="1"/><rect x="360" y="475" width="1" height="1"/><rect x="361" y="475" width="1" height="1"/><rect x="362" y="475" width="1" height="1"/><rect x="363" y="475" width="1" height="1"/><rect x="364" y="475" width="1" height="1"/><rect x="365" y="475" width="1" height="1"/><rect x="366" y="475" width="1" height="1"/><rect x="367" y="475" width="1" height="1"/><rect x="368" y="475" width="1" height="1"/><rect x="369" y="475" width="1" height="1"/><rect x="370" y="475" width="1" height="1"/><rect x="371" y="475" width="1" height="1"/><rect x="372" y="475" width="1" height="1"/><rect x="373" y="475" width="1" height="1"/><rect x="374" y="475" width="1" height="1"/><rect x="375" y="475" width="1" height="1"/><rect x="376" y="475" width="1" height="1"/><rect x="377" y="475" width="1" height="1"/><rect x="378" y="475" width="1" height="1"/><rect x="379" y="475" width="1" height="1"/><rect x="380" y="475" width="1" height="1"/><rect x="381" y="475" width="1" height="1"/><rect x="382" y="475" width="1" height="1"/><rect x="383" y="475" width="1" height="1"/><rect x="384" y="475" width="1" height="1"/><rect x="385" y="475" width="1" height="1"/><rect x="386" y="475" width="1" height="1"/><rect x="387" y="476" width="1" height="1"/><rect x="388" y="476" width="1" height="1"/><rect x="389" y="476" width="1" height="1"/><rect x="390" y="476" width="1" height="1"/><rect x="391" y="476" width="1" height="1"/><rect x="392" y="476" width="1" height="1"/><rect x="393" y="476" width="1" height="1"/><rect x="394" y="476" width="1" height="1"/><rect x="395" y="476" width="1" height="1"/><rect x="396" y="476" width="1" height="1"/><rect x="397" y="476" width="1" height="1"/><rect x="398" y="476" width="1" height="1"/><rect x="399" y="477" width="1" height="1"/><rect x="400" y="477" width="1" height="1"/><rect x="401" y="477" width="1" height="1"/><rect x="402" y="477" width="1" height="1"/><rect x="403" y="477" width="1" height="1"/><rect x="404" y="477" width="1" height="1"/><rect x="405" y="477" width="1" height="1"/><rect x="406" y="477" width="1" height="1"/><rect x="407" y="478" width="1" height="1"/><rect x="408" y="478" width="1" height="1"/><rect x="409" y="478" width="1" height="1"/><rect x="410" y="478" width="1" height="1"/><rect x="411" y="479" width="1" height="1"/><rect x="412" y="479" width="1" height="1"/><rect x="413" y="479" width="1" height="1"/><rect x="414" y="479" width="1" height="1"/><rect x="415" y="480" width="1" height="1"/><rect x="416" y="480" width="1" height="1"/><rect x="417" y="480" width="1" height="1"/><rect x="418" y="480" width="1" height="1"/><rect x="419" y="480" width="1" height="1"/><rect x="420" y="480" width="1" height="1"/><rect x="421" y="480" width="1" height="1"/><rect x="422" y="480" width="1" height="1"/><rect x="423" y="481" width="1" height="1"/><rect x="424" y="481" width="1" height="1"/><rect x="425" y="481" width="1" height="1"/><rect x="426" y="481" width="1" height="1"/><rect x="427" y="481" width="1" height="1"/><rect x="428" y="481" width="1" height="1"/><rect x="429" y="481" width="1" height="1"/><rect x="430" y="481" width="1" height="1"/><rect x="431" y="481" width="1" height="1"/><rect x="432" y="481" width="1" height="1"/><rect x="433" y="481" width="1" height="1"/><rect x="434" y="481" width="1" height="1"/><rect x="435" y="481" width="1" height="1"/><rect x="436" y="481" width="1" height="1"/><rect x="437" y="481" width="1" height="1"/><rect x="438" y="481" width="1" height="1"/><rect x="439" y="481" width="1" height="1"/><rect x="440" y="481" width="1" height="1"/><rect x="441" y="481" width="1" height="1"/><rect x="442" y="481" width="1" height="1"/><rect x="443" y="480" width="1" height="1"/><rect x="444" y="480" width="1" height="1"/><rect x="445" y="480" width="1" height="1"/><rect x="446" y="480" width="1" height="1"/><rect x="447" y="479" width="1" height="1"/><rect x="448" y="479" width="1" height="1"/><rect x="449" y="479" width="1" height="1"/><rect x="450" y="479" width="1" height="1"/><rect x="451" y="478" width="1" height="1"/><rect x="452" y="478" width="1" height="1"/><rect x="453" y="478" width="1" height="1"/><rect x="454" y="478" width="1" height="1"/><rect x="455" y="478" width="1" height="1"/><rect x="456" y="478" width="1" height="1"/><rect x="457" y="478" width="1" height="1"/><rect x="458" y="478" width="1" height="1"/><rect x="459" y="478" width="1" height="1"/><rect x="460" y="478" width="1" height="1"/><rect x="461" y="478" width="1" height="1"/><rect x="462" y="478" width="1" height="1"/><rect x="463" y="477" width="1" height="1"/><rect x="464" y="477" width="1" height="1"/><rect x="465" y="477" width="1" height="1"/><rect x="466" y="477" width="1" height="1"/><rect x="467" y="477" width="1" height="1"/><rect x="468" y="477" width="1" height="1"/><rect x="469" y="477" width="1" height="1"/><rect x="470" y="477" width="1" height="1"/><rect x="471" y="477" width="1" height="1"/><rect x="472" y="477" width="1" height="1"/><rect x="473" y="477" width="1" height="1"/><rect x="474" y="477" width="1" height="1"/><rect x="475" y="477" width="1" height="1"/><rect x="476" y="477" width="1" height="1"/><rect x="477" y="477" width="1" height="1"/><rect x="478" y="477" width="1" height="1"/><rect x="479" y="478" width="1" height="1"/><rect x="480" y="478" width="1" height="1"/><rect x="481" y="478" width="1" height="1"/><rect x="482" y="478" width="1" height="1"/><rect x="483" y="478" width="1" height="1"/><rect x="484" y="478" width="1" height="1"/><rect x="485" y="478" width="1" height="1"/><rect x="486" y="478" width="1" height="1"/><rect x="487" y="479" width="1" height="1"/><rect x="488" y="479" width="1" height="1"/><rect x="489" y="479" width="1" height="1"/><rect x="490" y="479" width="1" height="1"/><rect x="491" y="479" width="1" height="1"/><rect x="492" y="479" width="1" height="1"/><rect x="493" y="479" width="1" height="1"/><rect x="494" y="479" width="1" height="1"/><rect x="495" y="479" width="1" height="1"/><rect x="496" y="479" width="1" height="1"/><rect x="497" y="479" width="1" height="1"/><rect x="498" y="479" width="1" height="1"/><rect x="499" y="479" width="1" height="1"/><rect x="500" y="479" width="1" height="1"/><rect x="501" y="479" width="1" height="1"/><rect x="502" y="479" width="1" height="1"/><rect x="503" y="478" width="1" height="1"/><rect x="504" y="478" width="1" height="1"/><rect x="505" y="478" width="1" height="1"/><rect x="506" y="478" width="1" height="1"/><rect x="507" y="477" width="1" height="1"/><rect x="508" y="477" width="1" height="1"/><rect x="509" y="477" width="1" height="1"/><rect x="510" y="476" width="1" height="1"/><rect x="511" y="476" width="1" height="1"/><rect x="512" y="475" width="1" height="1"/><rect x="513" y="475" width="1" height="1"/><rect x="514" y="475" width="1" height="1"/><rect x="515" y="474" width="1" height="1"/><rect x="516" y="474" width="1" height="1"/><rect x="517" y="474" width="1" height="1"/><rect x="518" y="474" width="1" height="1"/><rect x="519" y="473" width="1" height="1"/><rect x="520" y="473" width="1" height="1"/><rect x="521" y="473" width="1" height="1"/><rect x="522" y="472" width="1" height="1"/><rect x="523" y="472" width="1" height="1"/><rect x="524" y="471" width="1" height="1"/><rect x="525" y="471" width="1" height="1"/><rect x="526" y="471" width="1" height="1"/><rect x="527" y="470" width="1" height="1"/><rect x="528" y="470" width="1" height="1"/><rect x="529" y="470" width="1" height="1"/><rect x="530" y="470" width="1" height="1"/><rect x="531" y="469" width="1" height="1"/><rect x="532" y="469" width="1" height="1"/><rect x="533" y="469" width="1" height="1"/><rect x="534" y="469" width="1" height="1"/><rect x="535" y="468" width="1" height="1"/><rect x="536" y="468" width="1" height="1"/><rect x="537" y="468" width="1" height="1"/><rect x="538" y="468" width="1" height="1"/><rect x="539" y="468" width="1" height="1"/><rect x="540" y="468" width="1" height="1"/><rect x="541" y="468" width="1" height="1"/><rect x="542" y="468" width="1" height="1"/><rect x="543" y="468" width="1" height="1"/><rect x="544" y="468" width="1" height="1"/><rect x="545" y="468" width="1" height="1"/><rect x="546" y="468" width="1" height="1"/><rect x="547" y="468" width="1" height="1"/><rect x="548" y="468" width="1" height="1"/><rect x="549" y="468" width="1" height="1"/><rect x="550" y="468" width="1" height="1"/><rect x="551" y="469" width="1" height="1"/><rect x="552" y="469" width="1" height="1"/><rect x="553" y="469" width="1" height="1"/><rect x="554" y="469" width="1" height="1"/><rect x="555" y="469" width="1" height="1"/><rect x="556" y="469" width="1" height="1"/><rect x="557" y="469" width="1" height="1"/><rect x="558" y="469" width="1" height="1"/><rect x="559" y="469" width="1" height="1"/><rect x="560" y="469" width="1" height="1"/><rect x="561" y="469" width="1" height="1"/><rect x="562" y="469" width="1" height="1"/><rect x="563" y="469" width="1" height="1"/><rect x="564" y="469" width="1" height="1"/><rect x="565" y="469" width="1" height="1"/><rect x="566" y="469" width="1" height="1"/><rect x="567" y="469" width="1" height="1"/><rect x="568" y="469" width="1" height="1"/><rect x="569" y="469" width="1" height="1"/><rect x="570" y="469" width="1" height="1"/><rect x="571" y="469" width="1" height="1"/><rect x="572" y="469" width="1" height="1"/><rect x="573" y="469" width="1" height="1"/><rect x="574" y="469" width="1" height="1"/><rect x="575" y="469" width="1" height="1"/><rect x="576" y="469" width="1" height="1"/><rect x="577" y="469" width="1" height="1"/><rect x="578" y="469" width="1" height="1"/><rect x="579" y="470" width="1" height="1"/><rect x="580" y="470" width="1" height="1"/><rect x="581" y="470" width="1" height="1"/><rect x="582" y="470" width="1" height="1"/><rect x="583" y="470" width="1" height="1"/><rect x="584" y="470" width="1" height="1"/><rect x="585" y="470" width="1" height="1"/><rect x="586" y="470" width="1" height="1"/><rect x="587" y="471" width="1" height="1"/><rect x="588" y="471" width="1" height="1"/><rect x="589" y="471" width="1" height="1"/><rect x="590" y="471" width="1" height="1"/><rect x="591" y="472" width="1" height="1"/><rect x="592" y="472" width="1" height="1"/><rect x="593" y="472" width="1" height="1"/><rect x="594" y="472" width="1" height="1"/><rect x="595" y="473" width="1" height="1"/><rect x="596" y="473" width="1" height="1"/><rect x="597" y="473" width="1" height="1"/><rect x="598" y="473" width="1" height="1"/><rect x="599" y="473" width="1" height="1"/><rect x="600" y="473" width="1" height="1"/><rect x="601" y="473" width="1" height="1"/><rect x="602" y="473" width="1" height="1"/><rect x="603" y="474" width="1" height="1"/><rect x="604" y="474" width="1" height="1"/><rect x="605" y="474" width="1" height="1"/><rect x="606" y="474" width="1" height="1"/><rect x="607" y="474" width="1" height="1"/><rect x="608" y="474" width="1" height="1"/><rect x="609" y="474" width="1" height="1"/><rect x="610" y="474" width="1" height="1"/><rect x="611" y="474" width="1" height="1"/><rect x="612" y="474" width="1" height="1"/><rect x="613" y="474" width="1" height="1"/><rect x="614" y="474" width="1" height="1"/><rect x="615" y="475" width="1" height="1"/><rect x="616" y="475" width="1" height="1"/><rect x="617" y="475" width="1" height="1"/><rect x="618" y="475" width="1" height="1"/><rect x="619" y="475" width="1" height="1"/><rect x="620" y="475" width="1" height="1"/><rect x="621" y="475" width="1" height="1"/><rect x="622" y="475" width="1" height="1"/><rect x="623" y="475" width="1" height="1"/><rect x="624" y="475" width="1" height="1"/><rect x="625" y="475" width="1" height="1"/><rect x="626" y="475" width="1" height="1"/><rect x="627" y="475" width="1" height="1"/><rect x="628" y="475" width="1" height="1"/><rect x="629" y="475" width="1" height="1"/><rect x="630" y="475" width="1" height="1"/><rect x="631" y="475" width="1" height="1"/><rect x="632" y="475" width="1" height="1"/><rect x="633" y="475" width="1" height="1"/><rect x="634" y="475" width="1" height="1"/><rect x="635" y="475" width="1" height="1"/><rect x="636" y="475" width="1" height="1"/><rect x="637" y="475" width="1" height="1"/><rect x="638" y="475" width="1" height="1"/><rect x="639" y="475" width="1" height="1"/><rect x="640" y="475" width="1" height="1"/><rect x="641" y="475" width="1" height="1"/><rect x="642" y="475" width="1" height="1"/><rect x="643" y="475" width="1" height="1"/><rect x="644" y="475" width="1" height="1"/><rect x="645" y="475" width="1" height="1"/><rect x="646" y="475" width="1" height="1"/><rect x="647" y="475" width="1" height="1"/><rect x="648" y="475" width="1" height="1"/><rect x="649" y="475" width="1" height="1"/><rect x="650" y="475" width="1" height="1"/><rect x="651" y="474" width="1" height="1"/><rect x="652" y="474" width="1" height="1"/><rect x="653" y="474" width="1" height="1"/><rect x="654" y="474" width="1" height="1"/><rect x="655" y="473" width="1" height="1"/><rect x="656" y="473" width="1" height="1"/><rect x="657" y="473" width="1" height="1"/><rect x="658" y="472" width="1" height="1"/><rect x="659" y="472" width="1" height="1"/><rect x="660" y="471" width="1" height="1"/><rect x="661" y="471" width="1" height="1"/><rect x="662" y="471" width="1" height="1"/><rect x="663" y="470" width="1" height="1"/><rect x="664" y="470" width="1" height="1"/><rect x="665" y="470" width="1" height="1"/><rect x="666" y="469" width="1" height="1"/><rect x="667" y="468" width="1" height="1"/><rect x="668" y="468" width="1" height="1"/><rect x="669" y="467" width="1" height="1"/><rect x="670" y="467" width="1" height="1"/><rect x="671" y="466" width="1" height="1"/><rect x="672" y="466" width="1" height="1"/><rect x="673" y="466" width="1" height="1"/><rect x="674" y="465" width="1" height="1"/><rect x="675" y="465" width="1" height="1"/><rect x="676" y="464" width="1" height="1"/><rect x="677" y="464" width="1" height="1"/><rect x="678" y="464" width="1" height="1"/><rect x="679" y="463" width="1" height="1"/><rect x="680" y="463" width="1" height="1"/><rect x="681" y="463" width="1" height="1"/><rect x="682" y="463" width="1" height="1"/><rect x="683" y="462" width="1" height="1"/><rect x="684" y="462" width="1" height="1"/><rect x="685" y="462" width="1" height="1"/><rect x="686" y="462" width="1" height="1"/><rect x="687" y="461" width="1" height="1"/><rect x="688" y="461" width="1" height="1"/><rect x="689" y="461" width="1" height="1"/><rect x="690" y="461" width="1" height="1"/><rect x="691" y="461" width="1" height="1"/><rect x="692" y="461" width="1" height="1"/><rect x="693" y="461" width="1" height="1"/><rect x="694" y="461" width="1" height="1"/><rect x="695" y="462" width="1" height="1"/><rect x="696" y="462" width="1" height="1"/><rect x="697" y="462" width="1" height="1"/><rect x="698" y="462" width="1" height="1"/><rect x="699" y="462" width="1" height="1"/><rect x="700" y="462" width="1" height="1"/><rect x="701" y="462" width="1" height="1"/><rect x="702" y="462" width="1" height="1"/><rect x="703" y="463" width="1" height="1"/><rect x="704" y="463" width="1" height="1"/><rect x="705" y="463" width="1" height="1"/><rect x="706" y="463" width="1" height="1"/><rect x="707" y="464" width="1" height="1"/><rect x="708" y="464" width="1" height="1"/><rect x="709" y="464" width="1" height="1"/><rect x="710" y="464" width="1" height="1"/><rect x="711" y="465" width="1" height="1"/><rect x="712" y="465" width="1" height="1"/><rect x="713" y="465" width="1" height="1"/><rect x="714" y="465" width="1" height="1"/><rect x="715" y="466" width="1" height="1"/><rect x="716" y="466" width="1" height="1"/><rect x="717" y="466" width="1" height="1"/><rect x="718" y="467" width="1" height="1"/><rect x="719" y="467" width="1" height="1"/><rect x="720" y="468" width="1" height="1"/><rect x="721" y="468" width="1" height="1"/><rect x="722" y="468" width="1" height="1"/><rect x="723" y="469" width="1" height="1"/><rect x="724" y="469" width="1" height="1"/><rect x="725" y="469" width="1" height="1"/><rect x="726" y="469" width="1" height="1"/><rect x="727" y="470" width="1" height="1"/><rect x="728" y="470" width="1" height="1"/><rect x="729" y="470" width="1" height="1"/><rect x="730" y="471" width="1" height="1"/><rect x="731" y="471" width="1" height="1"/><rect x="732" y="472" width="1" height="1"/><rect x="733" y="472" width="1" height="1"/><rect x="734" y="472" width="1" height="1"/><rect x="735" y="473" width="1" height="1"/><rect x="736" y="473" width="1" height="1"/><rect x="737" y="473" width="1" height="1"/><rect x="738" y="473" width="1" height="1"/><rect x="739" y="473" width="1" height="1"/><rect x="740" y="473" width="1" height="1"/><rect x="741" y="473" width="1" height="1"/><rect x="742" y="473" width="1" height="1"/><rect x="743" y="474" width="1" height="1"/><rect x="744" y="474" width="1" height="1"/><rect x="745" y="474" width="1" height="1"/><rect x="746" y="474" width="1" height="1"/><rect x="747" y="474" width="1" height="1"/><rect x="748" y="474" width="1" height="1"/><rect x="749" y="474" width="1" height="1"/><rect x="750" y="474" width="1" height="1"/><rect x="751" y="474" width="1" height="1"/><rect x="752" y="474" width="1" height="1"/><rect x="753" y="474" width="1" height="1"/><rect x="754" y="474" width="1" height="1"/><rect x="755" y="474" width="1" height="1"/><rect x="756" y="474" width="1" height="1"/><rect x="757" y="474" width="1" height="1"/><rect x="758" y="474" width="1" height="1"/><rect x="759" y="473" width="1" height="1"/><rect x="760" y="473" width="1" height="1"/><rect x="761" y="473" width="1" height="1"/><rect x="762" y="473" width="1" height="1"/><rect x="763" y="473" width="1" height="1"/><rect x="764" y="473" width="1" height="1"/><rect x="765" y="473" width="1" height="1"/><rect x="766" y="473" width="1" height="1"/><rect x="767" y="472" width="1" height="1"/><rect x="768" y="472" width="1" height="1"/><rect x="769" y="472" width="1" height="1"/><rect x="770" y="472" width="1" height="1"/><rect x="771" y="471" width="1" height="1"/><rect x="772" y="471" width="1" height="1"/><rect x="773" y="471" width="1" height="1"/><rect x="774" y="471" width="1" height="1"/><rect x="775" y="470" width="1" height="1"/><rect x="776" y="470" width="1" height="1"/><rect x="777" y="470" width="1" height="1"/><rect x="778" y="469" width="1" height="1"/><rect x="779" y="469" width="1" height="1"/><rect x="780" y="468" width="1" height="1"/><rect x="781" y="468" width="1" height="1"/><rect x="782" y="468" width="1" height="1"/><rect x="783" y="467" width="1" height="1"/><rect x="784" y="467" width="1" height="1"/><rect x="785" y="467" width="1" height="1"/><rect x="786" y="466" width="1" height="1"/><rect x="787" y="466" width="1" height="1"/><rect x="788" y="465" width="1" height="1"/><rect x="789" y="465" width="1" height="1"/><rect x="790" y="465" width="1" height="1"/><rect x="791" y="464" width="1" height="1"/><rect x="792" y="464" width="1" height="1"/><rect x="793" y="464" width="1" height="1"/><rect x="794" y="463" width="1" height="1"/><rect x="795" y="463" width="1" height="1"/><rect x="796" y="462" width="1" height="1"/><rect x="797" y="462" width="1" height="1"/><rect x="798" y="461" width="1" height="1"/><rect x="799" y="461" width="1" height="1"/><rect x="800" y="460" width="1" height="1"/><rect x="801" y="460" width="1" height="1"/><rect x="802" y="459" width="1" height="1"/><rect x="803" y="459" width="1" height="1"/><rect x="804" y="458" width="1" height="1"/><rect x="805" y="458" width="1" height="1"/><rect x="806" y="457" width="1" height="1"/><rect x="807" y="457" width="1" height="1"/><rect x="808" y="456" width="1" height="1"/><rect x="809" y="456" width="1" height="1"/><rect x="810" y="455" width="1" height="1"/><rect x="811" y="455" width="1" height="1"/><rect x="812" y="454" width="1" height="1"/><rect x="813" y="454" width="1" height="1"/><rect x="814" y="453" width="1" height="1"/><rect x="815" y="452" width="1" height="1"/><rect x="816" y="452" width="1" height="1"/><rect x="817" y="451" width="1" height="1"/><rect x="818" y="450" width="1" height="1"/><rect x="819" y="450" width="1" height="1"/><rect x="820" y="449" width="1" height="1"/><rect x="821" y="449" width="1" height="1"/><rect x="822" y="448" width="1" height="1"/><rect x="823" y="448" width="1" height="1"/><rect x="824" y="447" width="1" height="1"/><rect x="825" y="447" width="1" height="1"/><rect x="826" y="446" width="1" height="1"/><rect x="827" y="446" width="1" height="1"/><rect x="828" y="445" width="1" height="1"/><rect x="829" y="445" width="1" height="1"/><rect x="830" y="444" width="1" height="1"/><rect x="831" y="444" width="1" height="1"/><rect x="832" y="443" width="1" height="1"/><rect x="833" y="443" width="1" height="1"/><rect x="834" y="442" width="1" height="1"/><rect x="835" y="442" width="1" height="1"/><rect x="836" y="441" width="1" height="1"/><rect x="837" y="441" width="1" height="1"/><rect x="838" y="440" width="1" height="1"/><rect x="839" y="440" width="1" height="1"/><rect x="840" y="439" width="1" height="1"/><rect x="841" y="439" width="1" height="1"/><rect x="842" y="438" width="1" height="1"/><rect x="843" y="438" width="1" height="1"/><rect x="844" y="437" width="1" height="1"/><rect x="845" y="437" width="1" height="1"/><rect x="846" y="437" width="1" height="1"/><rect x="847" y="436" width="1" height="1"/><rect x="848" y="436" width="1" height="1"/><rect x="849" y="436" width="1" height="1"/><rect x="850" y="435" width="1" height="1"/><rect x="851" y="435" width="1" height="1"/><rect x="852" y="434" width="1" height="1"/><rect x="853" y="434" width="1" height="1"/><rect x="854" y="434" width="1" height="1"/><rect x="855" y="433" width="1" height="1"/><rect x="856" y="433" width="1" height="1"/><rect x="857" y="433" width="1" height="1"/><rect x="858" y="432" width="1" height="1"/><rect x="859" y="432" width="1" height="1"/><rect x="860" y="431" width="1" height="1"/><rect x="861" y="431" width="1" height="1"/><rect x="862" y="431" width="1" height="1"/><rect x="863" y="430" width="1" height="1"/><rect x="864" y="430" width="1" height="1"/><rect x="865" y="430" width="1" height="1"/><rect x="866" y="430" width="1" height="1"/><rect x="867" y="429" width="1" height="1"/><rect x="868" y="429" width="1" height="1"/><rect x="869" y="429" width="1" height="1"/><rect x="870" y="428" width="1" height="1"/><rect x="871" y="428" width="1" height="1"/><rect x="872" y="427" width="1" height="1"/><rect x="873" y="427" width="1" height="1"/><rect x="874" y="427" width="1" height="1"/><rect x="875" y="426" width="1" height="1"/><rect x="876" y="426" width="1" height="1"/><rect x="877" y="426" width="1" height="1"/><rect x="878" y="426" width="1" height="1"/><rect x="879" y="426" width="1" height="1"/><rect x="880" y="426" width="1" height="1"/><rect x="881" y="426" width="1" height="1"/><rect x="882" y="426" width="1" height="1"/><rect x="883" y="426" width="1" height="1"/><rect x="884" y="426" width="1" height="1"/><rect x="885" y="426" width="1" height="1"/><rect x="886" y="426" width="1" height="1"/><rect x="887" y="427" width="1" height="1"/><rect x="888" y="427" width="1" height="1"/><rect x="889" y="427" width="1" height="1"/><rect x="890" y="428" width="1" height="1"/><rect x="891" y="429" width="1" height="1"/><rect x="892" y="429" width="1" height="1"/><rect x="893" y="430" width="1" height="1"/><rect x="894" y="431" width="1" height="1"/><rect x="895" y="432" width="1" height="1"/><rect x="896" y="432" width="1" height="1"/><rect x="897" y="433" width="1" height="1"/><rect x="898" y="434" width="1" height="1"/><rect x="899" y="435" width="1" height="1"/><rect x="900" y="436" width="1" height="1"/><rect x="901" y="437" width="1" height="1"/><rect x="902" y="438" width="1" height="1"/><rect x="903" y="439" width="1" height="1"/><rect x="904" y="440" width="1" height="1"/><rect x="905" y="441" width="1" height="1"/><rect x="906" y="442" width="1" height="2"/><rect x="907" y="444" width="1" height="1"/><rect x="908" y="445" width="1" height="2"/><rect x="909" y="447" width="1" height="1"/><rect x="910" y="448" width="1" height="2"/><rect x="911" y="450" width="1" height="1"/><rect x="912" y="451" width="1" height="2"/><rect x="913" y="453" width="1" height="1"/><rect x="914" y="454" width="1" height="2"/><rect x="915" y="456" width="1" height="1"/><rect x="916" y="457" width="1" height="2"/><rect x="917" y="459" width="1" height="1"/><rect x="918" y="460" width="1" height="2"/><rect x="919" y="462" width="1" height="1"/><rect x="920" y="463" width="1" height="2"/><rect x="921" y="465" width="1" height="1"/><rect x="922" y="466" width="1" height="1"/><rect x="923" y="467" width="1" height="2"/><rect x="924" y="469" width="1" height="1"/><rect x="925" y="470" width="1" height="1"/></g>
</g>
<g>
<g fill="#1e90ff"><rect x="5" y="532" width="1" height="1"/><rect x="6" y="532" width="1" height="1"/><rect x="7" y="532" width="1" height="1"/><rect x="8" y="532" width="1" height="1"/><rect x="9" y="532" width="1" height="1"/><rect x="10" y="531" width="1" height="1"/><rect x="11" y="531" width="1" height="1"/><rect x="12" y="530" width="1" height="1"/><rect x="13" y="530" width="1" height="1"/><rect x="14" y="529" width="1" height="1"/><rect x="15" y="528" width="1" height="1"/><rect x="16" y="527" width="1" height="1"/><rect x="17" y="526" width="1" height="1"/><rect x="18" y="525" width="1" height="1"/><rect x="19" y="525" width="1" height="1"/><rect x="20" y="524" width="1" height="1"/><rect x="21" y="524" width="1" height="1"/><rect x="22" y="525" width="1" height="2"/><rect x="23" y="527" width="1" height="1"/><rect x="24" y="528" width="1" height="2"/><rect x="25" y="530" width="1" height="1"/><rect x="26" y="529" width="1" height="1"/><rect x="27" y="529" width="1" height="1"/><rect x="28" y="528" width="1" height="1"/><rect x="29" y="528" width="1" height="1"/><rect x="30" y="528" width="1" height="1"/><rect x="31" y="528" width="1" height="1"/><rect x="32" y="528" width="1" height="1"/><rect x="33" y="528" width="1" height="1"/><rect x="34" y="527" width="1" height="1"/><rect x="35" y="526" width="1" height="1"/><rect x="36" y="526" width="1" height="1"/><rect x="37" y="525" width="1" height="1"/><rect x="38" y="526" width="1" height="1"/><rect x="39" y="526" width="1" height="1"/><rect x="40" y="527" width="1" height="1"/><rect x="41" y="527" width="1" height="1"/><rect x="42" y="527" width="1" height="1"/><rect x="43" y="527" width="1" height="1"/><rect x="44" y="527" width="1" height="1"/><rect x="45" y="527" width="1" height="1"/><rect x="46" y="525" width="1" height="2"/><rect x="47" y="524" width="1" height="1"/><rect x="48" y="522" width="1" height="2"/><rect x="49" y="521" width="1" height="1"/><rect x="50" y="520" width="1" height="1"/><rect x="51" y="519" width="1" height="1"/><rect x="52" y="519" width="1" height="1"/><rect x="53" y="518" width="1" height="1"/><rect x="54" y="518" width="1" height="1"/><rect x="55" y="517" width="1" height="1"/><rect x="56" y="517" width="1" height="1"/><rect x="57" y="517" width="1" height="1"/><rect x="58" y="518" width="1" height="1"/><rect x="59" y="519" width="1" height="2"/><rect x="60" y="521" width="1" height="1"/><rect x="61" y="522" width="1" height="1"/><rect x="62" y="523" width="1" height="2"/><rect x="63" y="525" width="1" height="1"/><rect x="64" y="526" width="1" height="2"/><rect x="65" y="528" width="1" height="1"/><rect x="66" y="527" width="1" height="1"/><rect x="67" y="527" width="1" height="1"/><rect x="68" y="526" width="1" height="1"/><rect x="69" y="526" width="1" height="1"/><rect x="70" y="526" width="1" height="1"/><rect x="71" y="527" width="1" height="1"/><rect x="72" y="527" width="1" height="1"/><rect x="73" y="527" width="1" height="1"/><rect x="74" y="527" width="1" height="1"/><rect x="75" y="527" width="1" height="1"/><rect x="76" y="527" width="1" height="1"/><rect x="77" y="527" width="1" height="1"/><rect x="78" y="527" width="1" height="1"/><rect x="79" y="527" width="1" height="1"/><rect x="80" y="527" width="1" height="1"/><rect x="81" y="527" width="1" height="1"/><rect x="82" y="526" width="1" height="1"/><rect x="83" y="526" width="1" height="1"/><rect x="84" y="525" width="1" height="1"/><rect x="85" y="525" width="1" height="1"/><rect x="86" y="524" width="1" height="1"/><rect x="87" y="523" width="1" height="1"/><rect x="88" y="523" width="1" height="1"/><rect x="89" y="522" width="1" height="1"/><rect x="90" y="521" width="1" height="1"/><rect x="91" y="520" width="1" height="1"/><rect x="92" y="520" width="1" height="1"/><rect x="93" y="519" width="1" height="1"/><rect x="94" y="520" width="1" height="1"/><rect x="95" y="520" width="1" height="1"/><rect x="96" y="521" width="1" height="1"/><rect x="97" y="521" width="1" height="1"/><rect x="98" y="522" width="1" height="1"/><rect x="99" y="522" width="1" height="1"/><rect x="100" y="523" width="1" height="1"/><rect x="101" y="523" width="1" height="1"/><rect x="102" y="523" width="1" height="1"/><rect x="103" y="524" width="1" height="1"/><rect x="104" y="524" width="1" height="1"/><rect x="105" y="524" width="1" height="1"/><rect x="106" y="525" width="1" height="1"/><rect x="107" y="526" width="1" height="2"/><rect x="108" y="528" width="1" height="1"/><rect x="109" y="529" width="1" height="1"/><rect x="110" y="528" width="1" height="1"/><rect x="111" y="527" width="1" height="1"/><rect x="112" y="527" width="1" height="1"/><rect x="113" y="526" width="1" height="1"/><rect x="114" y="526" width="1" height="1"/><rect x="115" y="527" width="1" height="1"/><rect x="116" y="527" width="1" height="1"/><rect x="117" y="527" width="1" height="1"/><rect x="118" y="527" width="1" height="1"/><rect x="119" y="526" width="1" height="1"/><rect x="120" y="526" width="1" height="1"/><rect x="121" y="526" width="1" height="1"/><rect x="122" y="527" width="1" height="1"/><rect x="123" y="527" width="1" height="1"/><rect x="124" y="528" width="1" height="1"/><rect x="125" y="528" width="1" height="1"/><rect x="126" y="528" width="1" height="1"/><rect x="127" y="527" width="1" height="1"/><rect x="128" y="527" width="1" height="1"/><rect x="129" y="527" width="1" height="1"/><rect x="130" y="527" width="1" height="1"/><rect x="131" y="527" width="1" height="1"/><rect x="132" y="527" width="1" height="1"/><rect x="133" y="527" width="1" height="1"/><rect x="134" y="526" width="1" height="1"/><rect x="135" y="525" width="1" height="1"/><rect x="136" y="525" width="1" height="1"/><rect x="137" y="524" width="1" height="1"/><rect x="138" y="525" width="1" height="2"/><rect x="139" y="527" width="1" height="2"/><rect x="140" y="529" width="1" height="2"/><rect x="141" y="531" width="1" height="1"/><rect x="142" y="531" width="1" height="1"/><rect x="143" y="531" width="1" height="1"/><rect x="144" y="531" width="1" height="1"/><rect x="145" y="531" width="1" height="1"/><rect x="146" y="532" width="1" height="1"/><rect x="147" y="532" width="1" height="1"/><rect x="148" y="533" width="1" height="1"/><rect x="149" y="533" width="1" height="1"/><rect x="150" y="533" width="1" height="1"/><rect x="151" y="532" width="1" height="1"/><rect x="152" y="532" width="1" height="1"/><rect x="153" y="532" width="1" height="1"/><rect x="154" y="532" width="1" height="1"/><rect x="155" y="532" width="1" height="1"/><rect x="156" y="532" width="1" height="1"/><rect x="157" y="532" width="1" height="1"/><rect x="158" y="532" width="1" height="1"/><rect x="159" y="532" width="1" height="1"/><rect x="160" y="532" width="1" height="1"/><rect x="161" y="532" width="1" height="1"/><rect x="162" y="533" width="1" height="1"/><rect x="163" y="534" width="1" height="2"/><rect x="164" y="536" width="1" height="1"/><rect x="165" y="537" width="1" height="1"/><rect x="166" y="537" width="1" height="1"/><rect x="167" y="538" width="1" height="1"/><rect x="168" y="538" width="1" height="1"/><rect x="169" y="538" width="1" height="1"/><rect x="170" y="539" width="1" height="1"/><rect x="171" y="539" width="1" height="1"/><rect x="172" y="540" width="1" height="1"/><rect x="173" y="540" width="1" height="1"/><rect x="174" y="540" width="1" height="1"/><rect x="175" y="539" width="1" height="1"/><rect x="176" y="539" width="1" height="1"/><rect x="177" y="539" width="1" height="1"/><rect x="178" y="538" width="1" height="1"/><rect x="179" y="536" width="1" height="2"/><rect x="180" y="535" width="1" height="1"/><rect x="181" y="534" width="1" height="1"/><rect x="182" y="534" width="1" height="1"/><rect x="183" y="534" width="1" height="1"/><rect x="184" y="534" width="1" height="1"/><rect x="185" y="534" width="1" height="1"/><rect x="186" y="535" width="1" height="1"/><rect x="187" y="535" width="1" height="1"/><rect x="188" y="536" width="1" height="1"/><rect x="189" y="536" width="1" height="1"/><rect x="190" y="537" width="1" height="2"/><rect x="191" y="539" width="1" height="1"/><rect x="192" y="540" width="1" height="2"/><rect x="193" y="542" width="1" height="1"/><rect x="194" y="541" width="1" height="1"/><rect x="195" y="539" width="1" height="2"/><rect x="196" y="538" width="1" height="1"/><rect x="197" y="537" width="1" height="1"/><rect x="198" y="537" width="1" height="1"/><rect x="199" y="536" width="1" height="1"/><rect x="200" y="536" width="1" height="1"/><rect x="201" y="536" width="1" height="1"/><rect x="202" y="537" width="1" height="2"/><rect x="203" y="539" width="1" height="1"/><rect x="204" y="540" width="1" height="2"/><rect x="205" y="542" width="1" height="1"/><rect x="206" y="540" width="1" height="2"/><rect x="207" y="538" width="1" height="2"/><rect x="208" y="536" width="1" height="2"/><rect x="209" y="535" width="1" height="1"/><rect x="210" y="536" width="1" height="1"/><rect x="211" y="537" width="1" height="1"/><rect x="212" y="537" width="1" height="1"/><rect x="213" y="538" width="1" height="1"/><rect x="214" y="537" width="1" height="1"/><rect x="215" y="537" width="1" height="1"/><rect x="216" y="536" width="1" height="1"/><rect x="217" y="536" width="1" height="1"/><rect x="218" y="536" width="1" height="1"/><rect x="219" y="536" width="1" height="1"/><rect x="220" y="536" width="1" height="1"/><rect x="221" y="536" width="1" height="1"/><rect x="222" y="536" width="1" height="1"/><rect x="223" y="537" width="1" height="1"/><rect x="224" y="537" width="1" height="1"/><rect x="225" y="537" width="1" height="1"/><rect x="226" y="536" width="1" height="1"/><rect x="227" y="536" width="1" height="1"/><rect x="228" y="535" width="1" height="1"/><rect x="229" y="535" width="1" height="1"/><rect x="230" y="536" width="1" height="1"/><rect x="231" y="536" width="1" height="1"/><rect x="232" y="537" width="1" height="1"/><rect x="233" y="537" width="1" height="1"/><rect x="234" y="535" width="1" height="2"/><rect x="235" y="533" width="1" height="2"/><rect x="236" y="531" width="1" height="2"/><rect x="237" y="529" width="1" height="2"/><rect x="238" y="528" width="1" height="1"/><rect x="239" y="527" width="1" height="1"/><rect x="240" y="527" width="1" height="1"/><rect x="241" y="526" width="1" height="1"/><rect x="242" y="526" width="1" height="1"/><rect x="243" y="527" width="1" height="1"/><rect x="244" y="527" width="1" height="1"/><rect x="245" y="527" width="1" height="1"/><rect x="246" y="527" width="1" height="1"/><rect x="247" y="526" width="1" height="1"/><rect x="248" y="526" width="1" height="1"/><rect x="249" y="526" width="1" height="1"/><rect x="250" y="525" width="1" height="1"/><rect x="251" y="524" width="1" height="1"/><rect x="252" y="524" width="1" height="1"/><rect x="253" y="523" width="1" height="1"/><rect x="254" y="522" width="1" height="1"/><rect x="255" y="521" width="1" height="1"/><rect x="256" y="520" width="1" height="1"/><rect x="257" y="519" width="1" height="1"/><rect x="258" y="520" width="1" height="1"/><rect x="259" y="520" width="1" height="1"/><rect x="260" y="521" width="1" height="1"/><rect x="261" y="521" width="1" height="1"/><rect x="262" y="522" width="1" height="1"/><rect x="263" y="523" width="1" height="1"/><rect x="264" y="524" width="1" height="1"/><rect x="265" y="525" width="1" height="1"/><rect x="266" y="524" width="1" height="1"/><rect x="267" y="523" width="1" height="1"/><rect x="268" y="523" width="1" height="1"/><rect x="269" y="522" width="1" height="1"/><rect x="270" y="522" width="1" height="1"/><rect x="271" y="522" width="1" height="1"/><rect x="272" y="522" width="1" height="1"/><rect x="273" y="522" width="1" height="1"/><rect x="274" y="521" width="1" height="1"/><rect x="275" y="520" width="1" height="1"/><rect x="276" y="520" width="1" height="1"/><rect x="277" y="519" width="1" height="1"/><rect x="278" y="519" width="1" height="1"/><rect x="279" y="519" width="1" height="1"/><rect x="280" y="519" width="1" height="1"/><rect x="281" y="519" width="1" height="1"/><rect x="282" y="519" width="1" height="1"/><rect x="283" y="518" width="1" height="1"/><rect x="284" y="518" width="1" height="1"/><rect x="285" y="518" width="1" height="1"/><rect x="286" y="518" width="1" height="1"/><rect x="287" y="517" width="1" height="1"/><rect x="288" y="517" width="1" height="1"/><rect x="289" y="517" width="1" height="2"/><rect x="290" y="519" width="1" height="4"/><rect x="291" y="523" width="1" height="4"/><rect x="292" y="527" width="1" height="4"/><rect x="293" y="531" width="1" height="3"/><rect x="294" y="532" width="1" height="1"/><rect x="295" y="532" width="1" height="1"/><rect x="296" y="531" width="1" height="1"/><rect x="297" y="531" width="1" height="1"/><rect x="298" y="531" width="1" height="1"/><rect x="299" y="532" width="1" height="1"/><rect x="300" y="532" width="1" height="1"/><rect x="301" y="532" width="1" height="1"/><rect x="302" y="533" width="1" height="1"/><rect x="303" y="534" width="1" height="1"/><rect x="304" y="534" width="1" height="1"/><rect x="305" y="535" width="1" height="1"/><rect x="306" y="535" width="1" height="1"/><rect x="307" y="534" width="1" height="1"/><rect x="308" y="534" width="1" height="1"/><rect x="309" y="534" width="1" height="1"/><rect x="310" y="534" width="1" height="1"/><rect x="311" y="534" width="1" height="1"/><rect x="312" y="534" width="1" height="1"/><rect x="313" y="534" width="1" height="1"/><rect x="314" y="535" width="1" height="1"/><rect x="315" y="535" width="1" height="1"/><rect x="316" y="536" width="1" height="1"/><rect x="317" y="536" width="1" height="1"/><rect x="318" y="536" width="1" height="1"/><rect x="319" y="535" width="1" height="1"/><rect x="320" y="535" width="1" height="1"/><rect x="321" y="535" width="1" height="1"/><rect x="322" y="533" width="1" height="2"/><rect x="323" y="531" width="1" height="2"/><rect x="324" y="529" width="1" height="2"/><rect x="325" y="528" width="1" height="1"/><rect x="326" y="528" width="1" height="1"/><rect x="327" y="529" width="1" height="1"/><rect x="328" y="529" width="1" height="1"/><rect x="329" y="529" width="1" height="1"/><rect x="330" y="530" width="1" height="1"/><rect x="331" y="531" width="1" height="1"/><rect x="332" y="532" width="1" height="1"/><rect x="333" y="533" width="1" height="1"/><rect x="334" y="532" width="1" height="1"/><rect x="335" y="531" width="1" height="1"/><rect x="336" y="531" width="1" height="1"/><rect x="337" y="530" width="1" height="1"/><rect x="338" y="531" width="1" height="1"/><rect x="339" y="531" width="1" height="1"/><rect x="340" y="532" width="1" height="1"/><rect x="341" y="532" width="1" height="1"/><rect x="342" y="532" width="1" height="1"/><rect x="343" y="531" width="1" height="1"/><rect x="344" y="531" width="1" height="1"/><rect x="345" y="531" width="1" height="1"/><rect x="346" y="531" width="1" height="1"/><rect x="347" y="531" width="1" height="1"/><rect x="348" y="531" width="1" height="1"/><rect x="349" y="531" width="1" height="1"/><rect x="350" y="530" width="1" height="1"/><rect x="351" y="530" width="1" height="1"/><rect x="352" y="529" width="1" height="1"/><rect x="353" y="529" width="1" height="1"/><rect x="354" y="529" width="1" height="1"/><rect x="355" y="529" width="1" height="1"/><rect x="356" y="529" width="1" height="1"/><rect x="357" y="529" width="1" height="1"/><rect x="358" y="530" width="1" height="1"/><rect x="359" y="531" width="1" height="2"/><rect x="360" y="533" width="1" height="1"/><rect x="361" y="534" width="1" height="1"/><rect x="362" y="533" width="1" height="1"/><rect x="363" y="531" width="1" height="2"/><rect x="364" y="530" width="1" height="1"/><rect x="365" y="529" width="1" height="1"/><rect x="366" y="529" width="1" height="1"/><rect x="367" y="530" width="1" height="1"/><rect x="368" y="530" width="1" height="1"/><rect x="369" y="530" width="1" height="1"/><rect x="370" y="531" width="1" height="1"/><rect x="371" y="531" width="1" height="1"/><rect x="372" y="532" width="1" height="1"/><rect x="373" y="532" width="1" height="1"/><rect x="374" y="531" width="1" height="1"/><rect x="375" y="531" width="1" height="1"/><rect x="376" y="530" width="1" height="1"/><rect x="377" y="530" width="1" height="1"/><rect x="378" y="531" width="1" height="1"/><rect x="379" y="532" width="1" height="1"/><rect x="380" y="533" width="1" height="1"/><rect x="381" y="534" width="1" height="1"/><rect x="382" y="534" width="1" height="1"/><rect x="383" y="535" width="1" height="1"/><rect x="384" y="535" width="1" height="1"/><rect x="385" y="535" width="1" height="1"/><rect x="386" y="535" width="1" height="1"/><rect x="387" y="534" width="1" height="1"/><rect x="388" y="534" width="1" height="1"/><rect x="389" y="534" width="1" height="1"/><rect x="390" y="534" width="1" height="1"/><rect x="391" y="534" width="1" height="1"/><rect x="392" y="534" width="1" height="1"/><rect x="393" y="534" width="1" height="1"/><rect x="394" y="535" width="1" height="1"/><rect x="395" y="535" width="1" height="1"/><rect x="396" y="536" width="1" height="1"/><rect x="397" y="536" width="1" height="1"/><rect x="398" y="536" width="1" height="1"/><rect x="399" y="536" width="1" height="1"/><rect x="400" y="536" width="1" height="1"/><rect x="401" y="536" width="1" height="1"/><rect x="402" y="537" width="1" height="1"/><rect x="403" y="538" width="1" height="1"/><rect x="404" y="539" width="1" height="1"/><rect x="405" y="540" width="1" height="1"/><rect x="406" y="540" width="1" height="1"/><rect x="407" y="540" width="1" height="1"/><rect x="408" y="540" width="1" height="1"/><rect x="409" y="540" width="1" height="1"/><rect x="410" y="541" width="1" height="1"/><rect x="411" y="541" width="1" height="1"/><rect x="412" y="542" width="1" height="1"/><rect x="413" y="542" width="1" height="1"/><rect x="414" y="542" width="1" height="1"/><rect x="415" y="541" width="1" height="1"/><rect x="416" y="541" width="1" height="1"/><rect x="417" y="540" width="1" height="2"/><rect x="418" y="538" width="1" height="2"/><rect x="419" y="535" width="1" height="3"/><rect x="420" y="533" width="1" height="2"/><rect x="421" y="531" width="1" height="2"/><rect x="422" y="532" width="1" height="1"/><rect x="423" y="533" width="1" height="1"/><rect x="424" y="533" width="1" height="1"/><rect x="425" y="534" width="1" height="1"/><rect x="426" y="533" width="1" height="1"/><rect x="427" y="533" width="1" height="1"/><rect x="428" y="532" width="1" height="1"/><rect x="429" y="532" width="1" height="1"/><rect x="430" y="531" width="1" height="1"/><rect x="431" y="529" width="1" height="2"/><rect x="432" y="528" width="1" height="1"/><rect x="433" y="527" width="1" height="1"/><rect x="434" y="528" width="1" height="1"/><rect x="435" y="529" width="1" height="1"/><rect x="436" y="530" width="1" height="1"/><rect x="437" y="531" width="1" height="1"/><rect x="438" y="531" width="1" height="1"/><rect x="439" y="530" width="1" height="1"/><rect x="440" y="530" width="1" height="1"/><rect x="441" y="530" width="1" height="1"/><rect x="442" y="528" width="1" height="2"/><rect x="443" y="526" width="1" height="2"/><rect x="444" y="524" width="1" height="2"/><rect x="445" y="522" width="1" height="2"/><rect x="446" y="523" width="1" height="1"/><rect x="447" y="524" width="1" height="2"/><rect x="448" y="526" width="1" height="1"/><rect x="449" y="527" width="1" height="1"/><rect x="450" y="528" width="1" height="2"/><rect x="451" y="530" width="1" height="2"/><rect x="452" y="532" width="1" height="2"/><rect x="453" y="534" width="1" height="2"/><rect x="454" y="536" width="1" height="1"/><rect x="455" y="536" width="1" height="1"/><rect x="456" y="537" width="1" height="1"/><rect x="457" y="537" width="1" height="1"/><rect x="458" y="536" width="1" height="1"/><rect x="459" y="536" width="1" height="1"/><rect x="460" y="535" width="1" height="1"/><rect x="461" y="535" width="1" height="1"/><rect x="462" y="535" width="1" height="1"/><rect x="463" y="534" width="1" height="1"/><rect x="464" y="534" width="1" height="1"/><rect x="465" y="534" width="1" height="1"/><rect x="466" y="534" width="1" height="1"/><rect x="467" y="534" width="1" height="1"/><rect x="468" y="534" width="1" height="1"/><rect x="469" y="534" width="1" height="1"/><rect x="470" y="533" width="1" height="1"/><rect x="471" y="532" width="1" height="1"/><rect x="472" y="532" width="1" height="1"/><rect x="473" y="531" width="1" height="1"/><rect x="474" y="532" width="1" height="1"/><rect x="475" y="532" width="1" height="1"/><rect x="476" y="533" width="1" height="1"/><rect x="477" y="533" width="1" height="1"/><rect x="478" y="532" width="1" height="1"/><rect x="479" y="532" width="1" height="1"/><rect x="480" y="531" width="1" height="1"/><rect x="481" y="531" width="1" height="1"/><rect x="482" y="532" width="1" height="1"/><rect x="483" y="533" width="1" height="2"/><rect x="484" y="535" width="1" height="1"/><rect x="485" y="536" width="1" height="1"/><rect x="486" y="536" width="1" height="1"/><rect x="487" y="535" width="1" height="1"/><rect x="488" y="535" width="1" height="1"/><rect x="489" y="535" width="1" height="1"/><rect x="490" y="534" width="1" height="1"/><rect x="491" y="534" width="1" height="1"/><rect x="492" y="533" width="1" height="1"/><rect x="493" y="533" width="1" height="1"/><rect x="494" y="532" width="1" height="1"/><rect x="495" y="531" width="1" height="1"/><rect x="496" y="530" width="1" height="1"/><rect x="497" y="529" width="1" height="1"/><rect x="498" y="528" width="1" height="1"/><rect x="499" y="526" width="1" height="2"/><rect x="500" y="525" width="1" height="1"/><rect x="501" y="524" width="1" height="1"/><rect x="502" y="523" width="1" height="1"/><rect x="503" y="522" width="1" height="1"/><rect x="504" y="521" width="1" height="1"/><rect x="505" y="520" width="1" height="1"/><rect x="506" y="520" width="1" height="1"/><rect x="507" y="520" width="1" height="1"/><rect x="508" y="520" width="1" height="1"/><rect x="509" y="520" width="1" height="1"/><rect x="510" y="520" width="1" height="1"/><rect x="511" y="520" width="1" height="1"/><rect x="512" y="520" width="1" height="1"/><rect x="513" y="520" width="1" height="1"/><rect x="514" y="521" width="1" height="1"/><rect x="515" y="522" width="1" height="2"/><rect x="516" y="524" width="1" height="1"/><rect x="517" y="525" width="1" height="1"/><rect x="518" y="526" width="1" height="1"/><rect x="519" y="527" width="1" height="2"/><rect x="520" y="529" width="1" height="1"/><rect x="521" y="530" width="1" height="1"/><rect x="522" y="531" width="1" height="1"/><rect x="523" y="531" width="1" height="1"/><rect x="524" y="532" width="1" height="1"/><rect x="525" y="532" width="1" height="1"/><rect x="526" y="531" width="1" height="1"/><rect x="527" y="531" width="1" height="1"/><rect x="528" y="530" width="1" height="1"/><rect x="529" y="530" width="1" height="1"/><rect x="530" y="529" width="1" height="1"/><rect x="531" y="528" width="1" height="1"/><rect x="532" y="527" width="1" height="1"/><rect x="533" y="526" width="1" height="1"/><rect x="534" y="526" width="1" height="1"/><rect x="535" y="527" width="1" height="1"/><rect x="536" y="527" width="1" height="1"/><rect x="537" y="527" width="1" height="1"/><rect x="538" y="528" width="1" height="1"/><rect x="539" y="528" width="1" height="1"/><rect x="540" y="529" width="1" height="1"/><rect x="541" y="529" width="1" height="1"/><rect x="542" y="528" width="1" height="1"/><rect x="543" y="528" width="1" height="1"/><rect x="544" y="527" width="1" height="1"/><rect x="545" y="527" width="1" height="1"/><rect x="546" y="527" width="1" height="1"/><rect x="547" y="528" width="1" height="1"/><rect x="548" y="528" width="1" height="1"/><rect x="549" y="528" width="1" height="1"/><rect x="550" y="527" width="1" height="1"/><rect x="551" y="527" width="1" height="1"/><rect x="552" y="526" width="1" height="1"/><rect x="553" y="526" width="1" height="1"/><rect x="554" y="526" width="1" height="1"/><rect x="555" y="527" width="1" height="1"/><rect x="556" y="527" width="1" height="1"/><rect x="557" y="527" width="1" height="1"/><rect x="558" y="527" width="1" height="1"/><rect x="559" y="527" width="1" height="1"/><rect x="560" y="527" width="1" height="1"/><rect x="561" y="527" width="1" height="1"/><rect x="562" y="527" width="1" height="1"/><rect x="563" y="528" width="1" height="1"/><rect x="564" y="528" width="1" height="1"/><rect x="565" y="528" width="1" height="1"/><rect x="566" y="528" width="1" height="1"/><rect x="567" y="527" width="1" height="1"/><rect x="568" y="527" width="1" height="1"/><rect x="569" y="527" width="1" height="1"/><rect x="570" y="528" width="1" height="1"/><rect x="571" y="529" width="1" height="2"/><rect x="572" y="531" width="1" height="1"/><rect x="573" y="532" width="1" height="1"/><rect x="574" y="533" width="1" height="1"/><rect x="575" y="533" width="1" height="1"/><rect x="576" y="534" width="1" height="1"/><rect x="577" y="534" width="1" height="1"/><rect x="578" y="533" width="1" height="1"/><rect x="579" y="533" width="1" height="1"/><rect x="580" y="532" width="1" height="1"/><rect x="581" y="532" width="1" height="1"/><rect x="582" y="532" width="1" height="1"/><rect x="583" y="533" width="1" height="1"/><rect x="584" y="533" width="1" height="1"/><rect x="585" y="533" width="1" height="1"/><rect x="586" y="534" width="1" height="1"/><rect x="587" y="535" width="1" height="2"/><rect x="588" y="537" width="1" height="1"/><rect x="589" y="538" width="1" height="1"/><rect x="590" y="536" width="1" height="2"/><rect x="591" y="534" width="1" height="2"/><rect x="592" y="532" width="1" height="2"/><rect x="593" y="531" width="1" height="1"/><rect x="594" y="532" width="1" height="1"/><rect x="595" y="533" width="1" height="1"/><rect x="596" y="534" width="1" height="1"/><rect x="597" y="535" width="1" height="1"/><rect x="598" y="533" width="1" height="2"/><rect x="599" y="531" width="1" height="2"/><rect x="600" y="529" width="1" height="2"/><rect x="601" y="527" width="1" height="2"/><rect x="602" y="527" width="1" height="1"/><rect x="603" y="526" width="1" height="1"/><rect x="604" y="526" width="1" height="1"/><rect x="605" y="526" width="1" height="1"/><rect x="606" y="526" width="1" height="1"/><rect x="607" y="526" width="1" height="1"/><rect x="608" y="526" width="1" height="1"/><rect x="609" y="526" width="1" height="2"/><rect x="610" y="528" width="1" height="2"/><rect x="611" y="530" width="1" height="2"/><rect x="612" y="532" width="1" height="2"/><rect x="613" y="534" width="1" height="2"/><rect x="614" y="534" width="1" height="1"/><rect x="615" y="534" width="1" height="1"/><rect x="616" y="533" width="1" height="1"/><rect x="617" y="533" width="1" height="1"/><rect x="618" y="533" width="1" height="1"/><rect x="619" y="532" width="1" height="1"/><rect x="620" y="532" width="1" height="1"/><rect x="621" y="532" width="1" height="1"/><rect x="622" y="533" width="1" height="1"/><rect x="623" y="533" width="1" height="1"/><rect x="624" y="534" width="1" height="1"/><rect x="625" y="534" width="1" height="1"/><rect x="626" y="534" width="1" height="1"/><rect x="627" y="533" width="1" height="1"/><rect x="628" y="533" width="1" height="1"/><rect x="629" y="533" width="1" height="1"/><rect x="630" y="532" width="1" height="1"/><rect x="631" y="532" width="1" height="1"/><rect x="632" y="531" width="1" height="1"/><rect x="633" y="531" width="1" height="1"/><rect x="634" y="530" width="1" height="1"/><rect x="635" y="529" width="1" height="1"/><rect x="636" y="528" width="1" height="1"/><rect x="637" y="527" width="1" height="1"/><rect x="638" y="526" width="1" height="1"/><rect x="639" y="525" width="1" height="1"/><rect x="640" y="525" width="1" height="1"/><rect x="641" y="524" width="1" height="1"/><rect x="642" y="525" width="1" height="1"/><rect x="643" y="526" width="1" height="1"/><rect x="644" y="526" width="1" height="1"/><rect x="645" y="527" width="1" height="1"/><rect x="646" y="526" width="1" height="1"/><rect x="647" y="526" width="1" height="1"/><rect x="648" y="525" width="1" height="1"/><rect x="649" y="525" width="1" height="1"/><rect x="650" y="524" width="1" height="1"/><rect x="651" y="523" width="1" height="1"/><rect x="652" y="522" width="1" height="1"/><rect x="653" y="521" width="1" height="1"/><rect x="654" y="521" width="1" height="1"/><rect x="655" y="521" width="1" height="1"/><rect x="656" y="521" width="1" height="1"/><rect x="657" y="521" width="1" height="1"/><rect x="658" y="520" width="1" height="1"/><rect x="659" y="519" width="1" height="1"/><rect x="660" y="519" width="1" height="1"/><rect x="661" y="518" width="1" height="1"/><rect x="662" y="518" width="1" height="1"/><rect x="663" y="517" width="1" height="1"/><rect x="664" y="517" width="1" height="1"/><rect x="665" y="517" width="1" height="1"/><rect x="666" y="517" width="1" height="1"/><rect x="667" y="517" width="1" height="1"/><rect x="668" y="517" width="1" height="1"/><rect x="669" y="517" width="1" height="1"/><rect x="670" y="518" width="1" height="2"/><rect x="671" y="520" width="1" height="1"/><rect x="672" y="521" width="1" height="2"/><rect x="673" y="523" width="1" height="1"/><rect x="674" y="524" width="1" height="1"/><rect x="675" y="525" width="1" height="2"/><rect x="676" y="527" width="1" height="1"/><rect x="677" y="528" width="1" height="1"/><rect x="678" y="527" width="1" height="1"/><rect x="679" y="527" width="1" height="1"/><rect x="680" y="526" width="1" height="1"/><rect x="681" y="526" width="1" height="1"/><rect x="682" y="526" width="1" height="1"/><rect x="683" y="526" width="1" height="1"/><rect x="684" y="526" width="1" height="1"/><rect x="685" y="526" width="1" height="1"/><rect x="686" y="526" width="1" height="1"/><rect x="687" y="527" width="1" height="1"/><rect x="688" y="527" width="1" height="1"/><rect x="689" y="527" width="1" height="1"/><rect x="690" y="528" width="1" height="1"/><rect x="691" y="529" width="1" height="1"/><rect x="692" y="529" width="1" height="1"/><rect x="693" y="530" width="1" height="1"/><rect x="694" y="530" width="1" height="1"/><rect x="695" y="531" width="1" height="1"/><rect x="696" y="531" width="1" height="1"/><rect x="697" y="531" width="1" height="1"/><rect x="698" y="530" width="1" height="1"/><rect x="699" y="530" width="1" height="1"/><rect x="700" y="529" width="1" height="1"/><rect x="701" y="529" width="1" height="1"/><rect x="702" y="529" width="1" height="1"/><rect x="703" y="529" width="1" height="1"/><rect x="704" y="529" width="1" height="1"/><rect x="705" y="529" width="1" height="1"/><rect x="706" y="528" width="1" height="1"/><rect x="707" y="527" width="1" height="1"/><rect x="708" y="527" width="1" height="1"/><rect x="709" y="526" width="1" height="1"/><rect x="710" y="527" width="1" height="1"/><rect x="711" y="528" width="1" height="1"/><rect x="712" y="528" width="1" height="1"/><rect x="713" y="529" width="1" height="1"/><rect x="714" y="530" width="1" height="2"/><rect x="715" y="532" width="1" height="2"/><rect x="716" y="534" width="1" height="2"/><rect x="717" y="536" width="1" height="2"/><rect x="718" y="537" width="1" height="1"/><rect x="719" y="537" width="1" height="1"/><rect x="720" y="537" width="1" height="1"/><rect x="721" y="537" width="1" height="1"/><rect x="722" y="536" width="1" height="1"/><rect x="723" y="535" width="1" height="1"/><rect x="724" y="535" width="1" height="1"/><rect x="725" y="534" width="1" height="1"/><rect x="726" y="534" width="1" height="1"/><rect x="727" y="534" width="1" height="1"/><rect x="728" y="534" width="1" height="1"/><rect x="729" y="534" width="1" height="1"/><rect x="730" y="534" width="1" height="1"/><rect x="731" y="533" width="1" height="1"/><rect x="732" y="533" width="1" height="1"/><rect x="733" y="533" width="1" height="1"/><rect x="734" y="532" width="1" height="1"/><rect x="735" y="531" width="1" height="1"/><rect x="736" y="530" width="1" height="1"/><rect x="737" y="529" width="1" height="1"/><rect x="738" y="528" width="1" height="1"/><rect x="739" y="527" width="1" height="1"/><rect x="740" y="527" width="1" height="1"/><rect x="741" y="526" width="1" height="1"/><rect x="742" y="525" width="1" height="1"/><rect x="743" y="525" width="1" height="1"/><rect x="744" y="524" width="1" height="1"/><rect x="745" y="524" width="1" height="1"/><rect x="746" y="524" width="1" height="1"/><rect x="747" y="525" width="1" height="1"/><rect x="748" y="525" width="1" height="1"/><rect x="749" y="525" width="1" height="1"/><rect x="750" y="525" width="1" height="1"/><rect x="751" y="525" width="1" height="1"/><rect x="752" y="525" width="1" height="1"/><rect x="753" y="525" width="1" height="1"/><rect x="754" y="526" width="1" height="1"/><rect x="755" y="527" width="1" height="1"/><rect x="756" y="528" width="1" height="1"/><rect x="757" y="529" width="1" height="1"/><rect x="758" y="528" width="1" height="1"/><rect x="759" y="528" width="1" height="1"/><rect x="760" y="527" width="1" height="1"/><rect x="761" y="527" width="1" height="1"/><rect x="762" y="527" width="1" height="1"/><rect x="763" y="526" width="1" height="1"/><rect x="764" y="526" width="1" height="1"/><rect x="765" y="526" width="1" height="1"/><rect x="766" y="524" width="1" height="2"/><rect x="767" y="522" width="1" height="2"/><rect x="768" y="520" width="1" height="2"/><rect x="769" y="518" width="1" height="2"/><rect x="770" y="518" width="1" height="1"/><rect x="771" y="518" width="1" height="1"/><rect x="772" y="518" width="1" height="1"/><rect x="773" y="518" width="1" height="1"/><rect x="774" y="518" width="1" height="1"/><rect x="775" y="518" width="1" height="1"/><rect x="776" y="518" width="1" height="1"/><rect x="777" y="518" width="1" height="1"/><rect x="778" y="518" width="1" height="1"/><rect x="779" y="517" width="1" height="1"/><rect x="780" y="517" width="1" height="1"/><rect x="781" y="517" width="1" height="1"/><rect x="782" y="516" width="1" height="1"/><rect x="783" y="514" width="1" height="2"/><rect x="784" y="513" width="1" height="1"/><rect x="785" y="512" width="1" height="1"/><rect x="786" y="513" width="1" height="1"/><rect x="787" y="514" width="1" height="2"/><rect x="788" y="516" width="1" height="1"/><rect x="789" y="517" width="1" height="1"/><rect x="790" y="516" width="1" height="1"/><rect x="791" y="515" width="1" height="1"/><rect x="792" y="515" width="1" height="1"/><rect x="793" y="514" width="1" height="1"/><rect x="794" y="514" width="1" height="1"/><rect x="795" y="513" width="1" height="1"/><rect x="796" y="513" width="1" height="1"/><rect x="797" y="513" width="1" height="1"/><rect x="798" y="514" width="1" height="1"/><rect x="799" y="514" width="1" height="1"/><rect x="800" y="515" width="1" height="1"/><rect x="801" y="515" width="1" height="1"/><rect x="802" y="514" width="1" height="1"/><rect x="803" y="514" width="1" height="1"/><rect x="804" y="513" width="1" height="1"/><rect x="805" y="513" width="1" height="1"/><rect x="806" y="512" width="1" height="1"/><rect x="807" y="512" width="1" height="1"/><rect x="808" y="511" width="1" height="1"/><rect x="809" y="511" width="1" height="1"/><rect x="810" y="510" width="1" height="1"/><rect x="811" y="510" width="1" height="1"/><rect x="812" y="509" width="1" height="1"/><rect x="813" y="509" width="1" height="1"/><rect x="814" y="509" width="1" height="1"/><rect x="815" y="508" width="1" height="1"/><rect x="816" y="508" width="1" height="1"/><rect x="817" y="508" width="1" height="1"/><rect x="818" y="508" width="1" height="1"/><rect x="819" y="509" width="1" height="1"/><rect x="820" y="509" width="1" height="1"/><rect x="821" y="509" width="1" height="1"/><rect x="822" y="509" width="1" height="1"/><rect x="823" y="508" width="1" height="1"/><rect x="824" y="508" width="1" height="1"/><rect x="825" y="508" width="1" height="1"/><rect x="826" y="508" width="1" height="1"/><rect x="827" y="507" width="1" height="1"/><rect x="828" y="507" width="1" height="1"/><rect x="829" y="507" width="1" height="1"/><rect x="830" y="507" width="1" height="1"/><rect x="831" y="506" width="1" height="1"/><rect x="832" y="506" width="1" height="1"/><rect x="833" y="506" width="1" height="1"/><rect x="834" y="507" width="1" height="2"/><rect x="835" y="509" width="1" height="2"/><rect x="836" y="511" width="1" height="2"/><rect x="837" y="513" width="1" height="2"/><rect x="838" y="513" width="1" height="1"/><rect x="839" y="512" width="1" height="1"/><rect x="840" y="511" width="1" height="1"/><rect x="841" y="510" width="1" height="1"/><rect x="842" y="510" width="1" height="1"/><rect x="843" y="509" width="1" height="1"/><rect x="844" y="509" width="1" height="1"/><rect x="845" y="509" width="1" height="1"/><rect x="846" y="509" width="1" height="1"/><rect x="847" y="508" width="1" height="1"/><rect x="848" y="508" width="1" height="1"/><rect x="849" y="508" width="1" height="1"/><rect x="850" y="508" width="1" height="1"/><rect x="851" y="507" width="1" height="1"/><rect x="852" y="507" width="1" height="1"/><rect x="853" y="507" width="1" height="1"/><rect x="854" y="507" width="1" height="1"/><rect x="855" y="507" width="1" height="1"/><rect x="856" y="507" width="1" height="1"/><rect x="857" y="507" width="1" height="1"/><rect x="858" y="507" width="1" height="1"/><rect x="859" y="508" width="1" height="1"/><rect x="860" y="508" width="1" height="1"/><rect x="861" y="508" width="1" height="1"/><rect x="862" y="507" width="1" height="1"/><rect x="863" y="507" width="1" height="1"/><rect x="864" y="506" width="1" height="1"/><rect x="865" y="506" width="1" height="1"/><rect x="866" y="506" width="1" height="1"/><rect x="867" y="507" width="1" height="1"/><rect x="868" y="507" width="1" height="1"/><rect x="869" y="507" width="1" height="1"/><rect x="870" y="507" width="1" height="1"/><rect x="871" y="507" width="1" height="1"/><rect x="872" y="507" width="1" height="1"/><rect x="873" y="507" width="1" height="1"/><rect x="874" y="507" width="1" height="1"/><rect x="875" y="508" width="1" height="1"/><rect x="876" y="508" width="1" height="1"/><rect x="877" y="508" width="1" height="2"/><rect x="878" y="510" width="1" height="2"/><rect x="879" y="512" width="1" height="3"/><rect x="880" y="515" width="1" height="2"/><rect x="881" y="517" width="1" height="2"/><rect x="882" y="519" width="1" height="2"/><rect x="883" y="521" width="1" height="1"/><rect x="884" y="522" width="1" height="2"/><rect x="885" y="524" width="1" height="2"/><rect x="886" y="526" width="1" height="2"/><rect x="887" y="528" width="1" height="3"/><rect x="888" y="531" width="1" height="2"/><rect x="889" y="533" width="1" height="2"/><rect x="890" y="533" width="1" height="1"/><rect x="891" y="533" width="1" height="1"/><rect x="892" y="532" width="1" height="1"/><rect x="893" y="532" width="1" height="1"/><rect x="894" y="532" width="1" height="1"/><rect x="895" y="533" width="1" height="1"/><rect x="896" y="533" width="1" height="1"/><rect x="897" y="533" width="1" height="1"/><rect x="898" y="534" width="1" height="1"/><rect x="899" y="535" width="1" height="2"/><rect x="900" y="537" width="1" height="1"/><rect x="901" y="538" width="1" height="1"/><rect x="902" y="539" width="1" height="1"/><rect x="903" y="539" width="1" height="1"/><rect x="904" y="540" width="1" height="1"/><rect x="905" y="540" width="1" height="1"/><rect x="906" y="540" width="1" height="1"/><rect x="907" y="539" width="1" height="1"/><rect x="908" y="539" width="1" height="1"/><rect x="909" y="539" width="1" height="1"/><rect x="910" y="540" width="1" height="1"/><rect x="911" y="540" width="1" height="1"/><rect x="912" y="541" width="1" height="1"/><rect x="913" y="541" width="1" height="1"/><rect x="914" y="541" width="1" height="1"/><rect x="915" y="541" width="1" height="1"/><rect x="916" y="541" width="1" height="1"/><rect x="917" y="541" width="1" height="1"/><rect x="918" y="541" width="1" height="1"/><rect x="919" y="540" width="1" height="1"/><rect x="920" y="540" width="1" height="1"/><rect x="921" y="540" width="1" height="1"/><rect x="922" y="540" width="1" height="1"/><rect x="923" y="540" width="1" height="1"/><rect x="924" y="540" width="1" height="1"/><rect x="925" y="540" width="1" height="1"/></g>
</g>
<!-- chart header triangle -->
<polygon points="8,38 15,38 11.5,33" fill="#000" shape-rendering="auto"/>
</svg>

<!-- chart header text -->
<div class="a sy" style="left:21px;top:30px;font-size:9.6px">USDCHF-,Daily</div>
<div class="a sy" style="left:94px;top:30px;font-size:9.3px">0.95790 0.96052 0.95529 0.95800</div>
<div class="a sy" style="left:9px;top:424px;font-size:9.4px">MACD(12,26,9) -0.003459 0.001411</div>
<div class="a sy" style="left:9px;top:498px;font-size:9.4px">RSI(14) 35.9701</div>

<!-- price axis -->
<div class="a ax" style="top:48px">1.00495</div>
<div class="a ax pl" style="top:65px;font-weight:normal">1.00017</div>
<div class="a ax" style="top:81px">0.99595</div>
<div class="a ax pl" style="top:113px;font-weight:normal">0.98709</div>
<div class="a ax" style="top:147px">0.97820</div>
<div class="a ax pl" style="top:164px;font-weight:normal">0.97334</div>
<div class="a ax" style="top:180px">0.96920</div>
<div class="a ax pl" style="top:213px;font-weight:normal">0.96019</div>
<div class="a ax pl" style="top:222px;font-weight:normal">0.95800</div>
<div class="a ax" style="top:246px">0.95145</div>
<div class="a ax pl" style="top:258px;font-weight:normal">0.94783</div>
<div class="a ax" style="top:279px">0.94245</div>
<div class="a ax" style="top:312px">0.93370</div>
<div class="a ax" style="top:345px">0.92470</div>
<div class="a ax" style="top:378px">0.91570</div>
<div class="a ax" style="top:411px">0.90695</div>
<div class="a axs" style="top:423px">0.015516</div>
<div class="a axs" style="top:472px">0.00</div>
<div class="a axs" style="left:1170px;top:481px">-0.004363</div>
<div class="a axs" style="top:497px">100</div>
<div class="a axs" style="top:513px">70</div>
<div class="a axs" style="top:542px">30</div>
<div class="a axs" style="top:557px">0</div>

<!-- time axis -->
<div class="a tm" style="left:4px">3 Sep 2021</div>
<div class="a tm" style="left:68px">22 Sep 2021</div>
<div class="a tm" style="left:132px">11 Oct 2021</div>
<div class="a tm" style="left:196px">29 Oct 2021</div>
<div class="a tm" style="left:260px">17 Nov 2021</div>
<div class="a tm" style="left:324px">6 Dec 2021</div>
<div class="a tm" style="left:388px">24 Dec 2021</div>
<div class="a tm" style="left:452px">12 Jan 2022</div>
<div class="a tm" style="left:516px">31 Jan 2022</div>
<div class="a tm" style="left:580px">18 Feb 2022</div>
<div class="a tm" style="left:644px">9 Mar 2022</div>
<div class="a tm" style="left:708px">28 Mar 2022</div>
<div class="a tm" style="left:772px">15 Apr 2022</div>
<div class="a tm" style="left:836px">4 May 2022</div>
<div class="a tm" style="left:900px">23 May 2022</div>

<!-- trade panel -->
<div class="a" style="left:6px;top:46px;width:222px;height:57px;background:#fff"></div>
<svg width="1208" height="614" style="pointer-events:none" shape-rendering="crispEdges">
<defs>
<linearGradient id="pg" x1="0" y1="46" x2="0" y2="103" gradientUnits="userSpaceOnUse">
<stop offset="0" stop-color="#6a6aff"/><stop offset="0.42" stop-color="#3434e6"/><stop offset="1" stop-color="#0000c0"/>
</linearGradient>
</defs>
<path d="M8,46 H60 V70 H117 V103 H8 Z" fill="url(#pg)"/>
<path d="M8.5,46.5 H59.5 V70.5 H116.5 V102.5 H8.5 Z" fill="none" stroke="#0000a8"/>
<path d="M175,46 H227 V103 H119 V70 H175 Z" fill="url(#pg)"/>
<path d="M175.5,46.5 H226.5 V102.5 H119.5 V70.5 H175.5 Z" fill="none" stroke="#0000a8"/>
<rect x="12" y="69" width="45" height="1" fill="#1c1cb0"/>
<rect x="12" y="70" width="45" height="1" fill="#8a8aff"/>
<rect x="179" y="69" width="45" height="1" fill="#1c1cb0"/>
<rect x="179" y="70" width="45" height="1" fill="#8a8aff"/>
</svg>
<div class="a" style="left:62px;top:46px;width:109px;height:20px;border:1px solid #a8a8b0;background:#fff"></div>
<div class="a" style="left:64px;top:48px;width:18px;height:18px;background:linear-gradient(#f0f0f0,#e4e4e4 35%,#d4d4d4 40%,#d4d4d4)"></div>
<div class="a" style="left:83px;top:47px;width:1px;height:20px;background:#a8a8b0"></div>
<div class="a" style="left:152px;top:48px;width:19px;height:18px;background:linear-gradient(#f0f0f0,#e4e4e4 35%,#d4d4d4 40%,#d4d4d4)"></div>
<div class="a" style="left:151px;top:47px;width:1px;height:20px;background:#a8a8b0"></div>
<svg width="1208" height="614" style="pointer-events:none">
<polygon points="70,55 76,55 73,59" fill="#4a64c8"/>
<polygon points="158,59 164,59 161,55" fill="#4a64c8"/>
</svg>
<div class="a" style="left:124px;top:51px;font-size:12px">2.00</div>
<div class="a pl" style="left:20px;top:52px;font-size:12px;letter-spacing:-0.9px;font-weight:normal;color:#f0f0ff">SELL</div>
<div class="a pl" style="left:188px;top:51px;font-size:12px;font-weight:normal;color:#e8e8ff">BUY</div>
<div class="a pl" style="left:28px;top:88px;font-size:12px">0.95</div>
<div class="a" style="left:55px;top:68px;font-size:35px;color:#fff;transform:scaleX(0.9);transform-origin:0 0">80</div>
<div class="a pl" style="left:95px;top:73px;font-size:12px">0</div>
<div class="a pl" style="left:138px;top:88px;font-size:12px">0.95</div>
<div class="a" style="left:166px;top:68px;font-size:35px;color:#fff;transform:scaleX(0.9);transform-origin:0 0">82</div>
<div class="a pl" style="left:206px;top:72px;font-size:12px">5</div>

<!-- bottom tabs -->
<div class="a" style="left:0;top:588px;width:1208px;height:1px;background:#e4e4e4"></div><div class="a" style="left:0;top:589px;width:1208px;height:1px;background:#fff"></div>
<div class="a" style="left:0;top:590px;width:1208px;height:1px;background:#000"></div>
<div class="a" style="left:0;top:591px;width:1px;height:18px;background:#a0a0a0"></div><div class="a" style="left:1px;top:591px;width:1px;height:18px;background:#696969"></div><div class="a" style="left:2px;top:591px;width:1px;height:18px;background:#fff"></div>
<div class="a" style="left:0;top:609px;width:1208px;height:1px;background:#fafafa"></div>
<div class="a" style="left:0;top:591px;width:1208px;height:1px;background:#fff"></div>
<div class="a" style="left:322px;top:590px;width:106px;height:18px;background:#fff;border:1px solid #000;border-top:0"></div>
<div class="a tab" style="left:17px">USDX,Weekly</div>
<div class="a tab" style="left:117px">EURUSD-,Daily</div>
<div class="a tab" style="left:224px">AUDUSD-,Daily</div>
<div class="a tab" style="left:334px;color:#000">USDCHF-,Daily</div>
<div class="a tab" style="left:441px">USDCAD-,Daily</div>
<div class="a tab" style="left:550px">USDCNH-,Daily</div>
<div class="a tab" style="left:661px">XAUUSD-,H4</div>
<div class="a tab" style="left:757px">UKOil-,H4</div>
<div class="a tab" style="left:837px">DJ30-,Weekly</div>
<div class="a tab" style="left:937px">UK100-,H1</div>
<div class="a tab" style="left:1022px">USOil-,Daily</div>
<div class="a tab" style="left:1112px">HK50-,H1</div>
<div class="a" style="left:106px;top:594px;width:1px;height:12px;background:#808080"></div>
<div class="a" style="left:214px;top:594px;width:1px;height:12px;background:#808080"></div>
<div class="a" style="left:538px;top:594px;width:1px;height:12px;background:#808080"></div>
<div class="a" style="left:650px;top:594px;width:1px;height:12px;background:#808080"></div>
<div class="a" style="left:746px;top:594px;width:1px;height:12px;background:#808080"></div>
<div class="a" style="left:826px;top:594px;width:1px;height:12px;background:#808080"></div>
<div class="a" style="left:926px;top:594px;width:1px;height:12px;background:#808080"></div>
<div class="a" style="left:1010px;top:594px;width:1px;height:12px;background:#808080"></div>
<div class="a" style="left:1102px;top:594px;width:1px;height:12px;background:#808080"></div>
<svg width="1208" height="614" style="pointer-events:none">
<polygon points="1186.5,595.5 1186.5,603 1182.5,599.25" fill="#a0a0a0"/>
<polygon points="1201.5,595.5 1201.5,603 1205.5,599.25" fill="#000"/>
</svg>
</body></html>
